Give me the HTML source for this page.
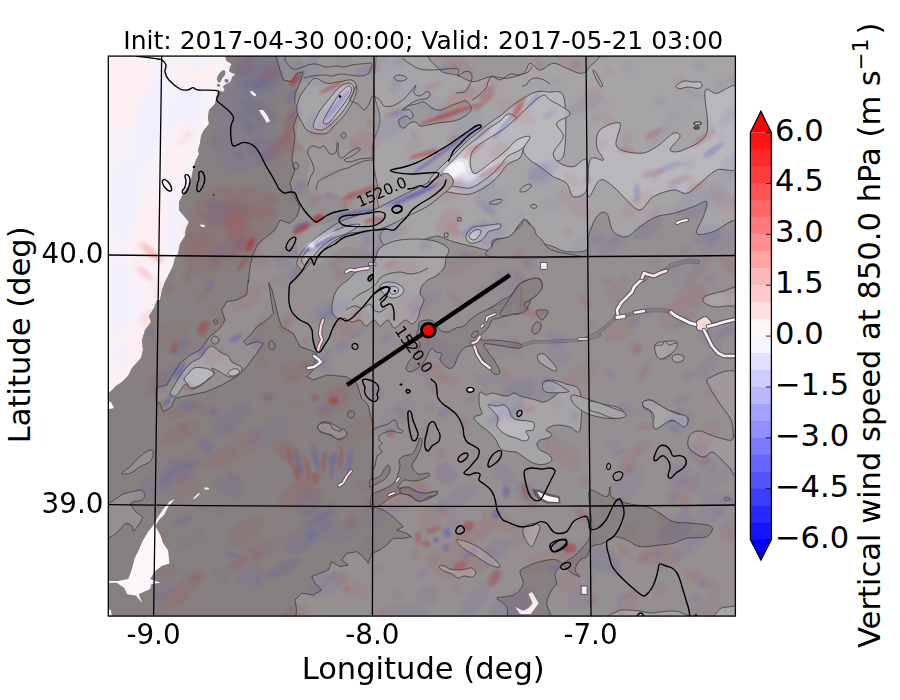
<!DOCTYPE html>
<html><head><meta charset="utf-8"><title>Vertical wind speed map</title>
<style>
html,body{margin:0;padding:0;background:#fff;}
body{width:900px;height:700px;overflow:hidden;}
svg{display:block;}
text{font-family:"DejaVu Sans","Liberation Sans",sans-serif;fill:#000;}
.t20{font-size:27.78px;}
.t18{font-size:25px;}
.t22{font-size:30.56px;}
.t11{font-size:15.2px;}
</style></head><body>
<svg width="900" height="700" viewBox="0 0 900 700">
<defs>
<clipPath id="ax"><rect x="108.3" y="56.1" width="627.1" height="560.0"/></clipPath>
<filter id="b2" x="-30%" y="-30%" width="160%" height="160%"><feGaussianBlur stdDeviation="2"/></filter>
<filter id="b3" x="-30%" y="-30%" width="160%" height="160%"><feGaussianBlur stdDeviation="3.5"/></filter>
<filter id="b15" x="-5%" y="-5%" width="110%" height="110%"><feGaussianBlur stdDeviation="1.6"/></filter>
<filter id="b1" x="-30%" y="-30%" width="160%" height="160%"><feGaussianBlur stdDeviation="1"/></filter>
</defs>
<rect x="0" y="0" width="900" height="700" fill="#fff"/>
<g clip-path="url(#ax)">
<defs><clipPath id="landclip"><path d="M224.9 55.1L226.6 61.1L231.7 64.1L230.0 67.1L229.1 71.4L235.6 74.4L232.1 77.0L231.3 80.8L228.3 83.4L225.7 84.3L223.1 86.8L224.9 90.3L222.3 92.0L218.4 90.3L217.1 94.6L215.0 104.0L209.0 110.0L208.0 118.0L209.0 124.0L204.0 130.0L201.0 136.0L200.0 144.0L198.0 150.0L199.0 154.0L196.0 160.0L194.0 166.0L192.0 174.0L191.0 180.0L193.0 170.0L192.0 176.0L190.0 184.0L184.0 192.0L179.0 202.0L179.0 210.0L184.0 216.0L189.0 222.0L186.0 228.0L185.0 236.0L180.0 244.0L178.0 254.0L175.0 258.0L173.0 266.0L169.0 274.0L165.0 282.0L162.0 290.0L160.0 300.0L157.0 300.0L154.0 308.0L149.0 316.0L151.0 322.0L145.0 330.0L142.0 340.0L143.0 350.0L141.0 358.0L132.0 368.0L128.0 376.0L122.0 382.0L116.0 386.0L110.0 392.0L106.0 396.0L100.0 640.0L760.0 640.0L760.0 40.0L225.6 40.0Z"/></clipPath></defs>
<rect x="100" y="50" width="650" height="580" fill="#f8f1f8"/>
<ellipse cx="125.0" cy="90.0" rx="22.0" ry="40.0" transform="rotate(10 125.0 90.0)" fill="#fff0f0" fill-opacity="0.80" filter="url(#b2)"/>
<ellipse cx="150.0" cy="120.0" rx="14.0" ry="50.0" transform="rotate(15 150.0 120.0)" fill="#f0f0ff" fill-opacity="0.80" filter="url(#b2)"/>
<ellipse cx="185.0" cy="110.0" rx="14.0" ry="40.0" transform="rotate(15 185.0 110.0)" fill="#f0f0ff" fill-opacity="0.80" filter="url(#b2)"/>
<ellipse cx="200.0" cy="75.0" rx="20.0" ry="14.0" transform="rotate(0 200.0 75.0)" fill="#fff0f0" fill-opacity="0.80" filter="url(#b2)"/>
<ellipse cx="195.0" cy="65.0" rx="10.0" ry="6.0" transform="rotate(0 195.0 65.0)" fill="#f0f0ff" fill-opacity="0.70" filter="url(#b2)"/>
<ellipse cx="178.0" cy="150.0" rx="10.0" ry="30.0" transform="rotate(10 178.0 150.0)" fill="#fff0f0" fill-opacity="0.80" filter="url(#b2)"/>
<ellipse cx="125.0" cy="200.0" rx="14.0" ry="40.0" transform="rotate(0 125.0 200.0)" fill="#f0f0ff" fill-opacity="0.80" filter="url(#b2)"/>
<ellipse cx="150.0" cy="230.0" rx="18.0" ry="30.0" transform="rotate(20 150.0 230.0)" fill="#fff0f0" fill-opacity="0.80" filter="url(#b2)"/>
<ellipse cx="172.0" cy="225.0" rx="8.0" ry="28.0" transform="rotate(5 172.0 225.0)" fill="#f0f0ff" fill-opacity="0.80" filter="url(#b2)"/>
<ellipse cx="150.0" cy="252.0" rx="16.0" ry="5.0" transform="rotate(42 150.0 252.0)" fill="#fbd4d6" fill-opacity="0.70" filter="url(#b2)"/>
<ellipse cx="142.0" cy="272.0" rx="12.0" ry="4.0" transform="rotate(42 142.0 272.0)" fill="#fbd4d6" fill-opacity="0.50" filter="url(#b2)"/>
<ellipse cx="160.0" cy="290.0" rx="6.0" ry="10.0" transform="rotate(20 160.0 290.0)" fill="#fbd4d6" fill-opacity="0.50" filter="url(#b2)"/>
<ellipse cx="120.0" cy="300.0" rx="10.0" ry="40.0" transform="rotate(0 120.0 300.0)" fill="#f0f0ff" fill-opacity="0.80" filter="url(#b2)"/>
<ellipse cx="130.0" cy="350.0" rx="16.0" ry="30.0" transform="rotate(20 130.0 350.0)" fill="#fff0f0" fill-opacity="0.80" filter="url(#b2)"/>
<ellipse cx="146.0" cy="318.0" rx="5.0" ry="10.0" transform="rotate(25 146.0 318.0)" fill="#fbd4d6" fill-opacity="0.60" filter="url(#b2)"/>
<ellipse cx="122.0" cy="355.0" rx="8.0" ry="14.0" transform="rotate(0 122.0 355.0)" fill="#f0f0ff" fill-opacity="0.80" filter="url(#b2)"/>
<ellipse cx="188.0" cy="135.0" rx="6.0" ry="4.0" transform="rotate(0 188.0 135.0)" fill="#fbd4d6" fill-opacity="0.60" filter="url(#b2)"/>
<ellipse cx="182.0" cy="142.0" rx="5.0" ry="3.0" transform="rotate(0 182.0 142.0)" fill="#fbd4d6" fill-opacity="0.50" filter="url(#b2)"/>
<path d="M224.9 55.1L226.6 61.1L231.7 64.1L230.0 67.1L229.1 71.4L235.6 74.4L232.1 77.0L231.3 80.8L228.3 83.4L225.7 84.3L223.1 86.8L224.9 90.3L222.3 92.0L218.4 90.3L217.1 94.6L215.0 104.0L209.0 110.0L208.0 118.0L209.0 124.0L204.0 130.0L201.0 136.0L200.0 144.0L198.0 150.0L199.0 154.0L196.0 160.0L194.0 166.0L192.0 174.0L191.0 180.0L193.0 170.0L192.0 176.0L190.0 184.0L184.0 192.0L179.0 202.0L179.0 210.0L184.0 216.0L189.0 222.0L186.0 228.0L185.0 236.0L180.0 244.0L178.0 254.0L175.0 258.0L173.0 266.0L169.0 274.0L165.0 282.0L162.0 290.0L160.0 300.0L157.0 300.0L154.0 308.0L149.0 316.0L151.0 322.0L145.0 330.0L142.0 340.0L143.0 350.0L141.0 358.0L132.0 368.0L128.0 376.0L122.0 382.0L116.0 386.0L110.0 392.0L106.0 396.0L100.0 640.0L760.0 640.0L760.0 40.0L225.6 40.0Z" fill="#948f91"/>
<g clip-path="url(#landclip)">
<path d="M100.0 40.0L274.0 40.0L274.0 50.0L280.0 70.0L283.3 80.0L291.7 81.7L296.7 73.3L303.3 71.7L300.0 83.3L295.0 93.3L295.0 103.3L300.0 110.0L296.7 116.7L293.3 126.7L295.0 136.7L293.3 150.0L291.7 160.0L295.0 170.0L290.0 183.3L292.7 193.3L300.0 206.7L296.7 216.7L290.0 223.3L280.0 220.0L275.0 230.0L266.7 236.7L258.3 243.3L253.3 253.3L250.0 266.7L248.3 283.0L248.3 280.0L246.7 295.0L236.7 300.0L226.7 301.7L221.7 310.0L225.0 320.0L220.0 328.3L210.0 336.7L200.0 350.0L190.0 355.0L180.0 363.3L171.7 376.7L166.7 385.0L160.0 386.7L156.0 388.3L156.0 401.7L160.0 403.3L163.3 411.7L171.7 406.7L175.0 398.3L190.0 395.0L206.7 391.7L221.7 385.0L236.7 376.7L246.7 366.7L256.7 353.3L263.3 343.3L256.7 341.7L246.7 345.0L243.3 341.7L251.7 333.3L256.7 326.7L266.7 320.0L273.3 313.3L271.7 303.3L268.7 282.7L272.0 290.0L275.3 303.3L278.3 316.7L281.7 326.7L293.3 333.3L300.0 346.7L310.0 350.0L316.7 353.3L313.3 370.0L306.7 376.7L313.3 380.0L326.7 375.0L346.7 376.7L356.7 383.3L361.7 398.3L368.0 405.0L373.0 425.0L373.0 445.0L372.0 470.0L372.0 500.0L373.3 506.7L383.3 510.0L393.3 516.7L403.3 526.7L396.7 530.0L406.7 533.3L411.7 536.7L403.3 538.3L393.3 538.3L386.7 545.0L380.0 550.0L371.7 553.3L368.3 563.3L363.3 556.7L356.7 551.7L346.7 553.3L341.7 560.0L348.3 565.0L340.0 566.7L331.7 561.7L328.3 570.0L320.0 573.3L311.7 576.7L315.0 583.3L321.7 590.0L313.3 595.0L301.7 593.3L295.0 600.0L296.7 610.0L295.0 623.0L295.0 640.0L100.0 640.0Z" fill="#868081" stroke="#3e3c3e" stroke-width="0.95" stroke-opacity="0.85"/>
</g>
<path d="M318.3 425.0C319.4 423.3 323.1 421.1 326.7 421.7C330.3 422.2 336.7 426.4 340.0 428.3C343.3 430.3 346.7 431.4 346.7 433.3C346.7 435.3 342.8 439.7 340.0 440.0C337.2 440.3 333.3 436.4 330.0 435.0C326.7 433.6 321.9 433.3 320.0 431.7C318.1 430.0 317.2 426.7 318.3 425.0Z" fill="#948f91" stroke="#3e3c3e" stroke-width="0.95" stroke-opacity="0.85"/>
<path d="M121.7 473.3C121.7 472.2 126.9 469.4 130.0 466.7C133.1 463.9 136.7 459.4 140.0 456.7C143.3 453.9 147.8 450.6 150.0 450.0C152.2 449.4 153.3 451.4 153.3 453.3C153.3 455.3 152.2 459.4 150.0 461.7C147.8 463.9 143.3 464.7 140.0 466.7C136.7 468.6 133.1 472.2 130.0 473.3C126.9 474.4 121.7 474.4 121.7 473.3Z" fill="#948f91" stroke="#3e3c3e" stroke-width="0.95" stroke-opacity="0.85"/>
<path d="M109.0 503.0C110.7 502.4 113.1 500.6 115.4 499.1C117.8 497.6 120.1 495.3 123.1 494.0C126.1 492.7 130.4 492.1 133.4 491.4C136.4 490.8 139.2 489.5 141.1 490.1C143.1 490.8 145.0 493.6 145.0 495.3C145.0 497.0 143.1 499.4 141.1 500.4C139.2 501.5 135.1 501.1 133.4 501.7C131.7 502.4 130.4 502.6 130.9 504.3C131.3 506.0 134.1 509.9 136.0 512.0C137.9 514.1 142.0 515.0 142.4 517.1C142.9 519.3 140.1 522.5 138.6 524.9C137.1 527.2 134.5 531.1 133.4 531.3C132.4 531.5 133.4 527.4 132.1 526.1C130.9 524.9 127.6 523.1 125.7 523.6C123.8 524.0 122.3 527.0 120.6 528.7C118.9 530.4 117.4 532.4 115.4 533.9C113.5 535.4 110.7 537.1 109.0 537.7C107.3 538.4 105.8 543.5 105.1 537.7C104.5 531.9 104.5 508.8 105.1 503.0C105.8 497.2 107.3 503.6 109.0 503.0Z" fill="#948f91" stroke="#3e3c3e" stroke-width="0.95" stroke-opacity="0.85"/>
<path d="M590.0 490.0C592.8 488.3 603.3 497.2 606.7 496.7C610.0 496.1 609.2 486.7 610.0 486.7C610.8 486.7 608.9 493.9 611.7 496.7C614.4 499.4 620.8 501.7 626.7 503.3C632.5 505.0 641.1 505.0 646.7 506.7C652.2 508.3 655.6 510.8 660.0 513.3C664.4 515.8 667.8 520.0 673.3 521.7C678.9 523.3 686.9 522.5 693.3 523.3C699.7 524.2 709.4 524.4 711.7 526.7C713.9 528.9 710.8 534.7 706.7 536.7C702.5 538.6 692.2 537.2 686.7 538.3C681.1 539.4 677.8 542.2 673.3 543.3C668.9 544.4 665.6 544.4 660.0 545.0C654.4 545.6 645.6 547.5 640.0 546.7C634.4 545.8 631.1 541.7 626.7 540.0C622.2 538.3 617.2 536.1 613.3 536.7C609.4 537.2 606.9 541.7 603.3 543.3C599.7 545.0 594.4 544.4 591.7 546.7C588.9 548.9 588.6 554.4 586.7 556.7C584.7 558.9 581.9 557.8 580.0 560.0C578.1 562.2 575.0 567.2 575.0 570.0C575.0 572.8 580.8 576.4 580.0 576.7C579.2 576.9 573.9 574.4 570.0 571.7C566.1 568.9 561.7 561.7 556.7 560.0C551.7 558.3 545.0 560.6 540.0 561.7C535.0 562.8 530.0 565.0 526.7 566.7C523.3 568.3 520.6 568.9 520.0 571.7C519.4 574.4 523.9 579.7 523.3 583.3C522.8 586.9 519.4 591.1 516.7 593.3C513.9 595.6 510.0 595.8 506.7 596.7C503.3 597.5 496.7 596.7 496.7 598.3C496.7 600.0 504.2 602.5 506.7 606.7C509.2 610.8 504.4 620.6 511.7 623.3C518.9 626.1 544.2 626.7 550.0 623.3C555.8 620.0 546.4 608.9 546.7 603.3C546.9 597.8 550.0 593.3 551.7 590.0C553.3 586.7 556.1 586.1 556.7 583.3C557.2 580.6 553.9 576.7 555.0 573.3C556.1 570.0 560.3 566.1 563.3 563.3C566.4 560.6 570.0 559.4 573.3 556.7C576.7 553.9 580.6 550.0 583.3 546.7C586.1 543.3 588.6 540.6 590.0 536.7C591.4 532.8 591.7 528.3 591.7 523.3C591.7 518.3 590.3 512.2 590.0 506.7C589.7 501.1 587.2 491.7 590.0 490.0Z" fill="#868081" stroke="#3e3c3e" stroke-width="0.95" stroke-opacity="0.85"/>
<path d="M378.0 40.0C441.7 40.0 696.3 10.0 760.0 40.0C823.7 70.0 764.2 190.0 760.0 220.0C755.8 250.0 742.8 218.1 735.0 220.0C727.2 221.9 719.7 229.4 713.3 231.7C706.9 233.9 698.3 235.8 696.7 233.3C695.0 230.8 701.7 221.9 703.3 216.7C705.0 211.4 708.3 203.3 706.7 201.7C705.0 200.0 698.9 204.7 693.3 206.7C687.8 208.6 679.4 211.7 673.3 213.3C667.2 215.0 662.2 214.4 656.7 216.7C651.1 218.9 645.0 223.3 640.0 226.7C635.0 230.0 631.1 235.8 626.7 236.7C622.2 237.5 616.7 235.6 613.3 231.7C610.0 227.8 609.4 215.8 606.7 213.3C603.9 210.8 599.7 212.8 596.7 216.7C593.6 220.6 590.0 231.1 588.3 236.7C586.7 242.2 590.3 247.5 586.7 250.0C583.1 252.5 572.2 252.2 566.7 251.7C561.1 251.1 557.8 248.3 553.3 246.7C548.9 245.0 543.3 244.4 540.0 241.7C536.7 238.9 535.6 233.6 533.3 230.0C531.1 226.4 528.9 221.1 526.7 220.0C524.4 218.9 522.8 220.6 520.0 223.3C517.2 226.1 514.4 233.9 510.0 236.7C505.6 239.4 496.7 237.8 493.3 240.0C490.0 242.2 493.3 248.9 490.0 250.0C486.7 251.1 479.4 248.1 473.3 246.7C467.2 245.3 458.9 243.3 453.3 241.7C447.8 240.0 443.3 237.5 440.0 236.7C436.7 235.8 437.8 235.6 433.3 236.7C428.9 237.8 418.9 241.1 413.3 243.3C407.8 245.6 404.4 249.4 400.0 250.0C395.6 250.6 390.0 248.9 386.7 246.7C383.3 244.4 380.0 240.6 380.0 236.7C380.0 232.8 386.7 227.8 386.7 223.3C386.7 218.9 381.7 214.4 380.0 210.0C378.3 205.6 377.0 200.0 376.7 196.7C376.3 193.3 378.8 197.8 378.0 190.0C377.2 182.2 371.7 161.7 372.0 150.0C372.3 138.3 379.7 130.0 380.0 120.0C380.3 110.0 374.3 103.3 374.0 90.0C373.7 76.7 377.3 48.3 378.0 40.0C378.7 31.7 314.3 40.0 378.0 40.0Z" fill="#a7a4a7" stroke="#3e3c3e" stroke-width="0.95" stroke-opacity="0.85"/>
<path d="M376.7 196.7C377.0 200.0 378.3 205.6 380.0 210.0C381.7 214.4 386.7 218.9 386.7 223.3C386.7 227.8 382.2 232.2 380.0 236.7C377.8 241.1 376.7 247.8 373.3 250.0C370.0 252.2 364.4 250.6 360.0 250.0C355.6 249.4 351.1 246.1 346.7 246.7C342.2 247.2 337.8 250.6 333.3 253.3C328.9 256.1 323.9 260.6 320.0 263.3C316.1 266.1 312.8 270.0 310.0 270.0C307.2 270.0 305.6 266.7 303.3 263.3C301.1 260.0 297.2 254.4 296.7 250.0C296.1 245.6 297.2 240.6 300.0 236.7C302.8 232.8 308.9 228.9 313.3 226.7C317.8 224.4 322.2 225.0 326.7 223.3C331.1 221.7 336.7 219.4 340.0 216.7C343.3 213.9 346.7 210.0 346.7 206.7C346.7 203.3 343.3 198.9 340.0 196.7C336.7 194.4 330.6 193.3 326.7 193.3C322.8 193.3 319.4 197.2 316.7 196.7C313.9 196.1 311.7 193.3 310.0 190.0C308.3 186.7 306.7 181.1 306.7 176.7C306.7 172.2 310.0 167.8 310.0 163.3C310.0 158.9 308.3 153.3 306.7 150.0C305.0 146.7 301.7 146.7 300.0 143.3C298.3 140.0 296.7 134.4 296.7 130.0C296.7 125.6 300.3 121.1 300.0 116.7C299.7 112.2 295.0 108.9 295.0 103.3C295.0 97.8 298.1 88.3 300.0 83.3C301.9 78.3 306.7 80.6 306.7 73.3C306.7 66.1 288.1 45.6 300.0 40.0C311.9 34.4 365.7 31.7 378.0 40.0C390.3 48.3 373.7 76.7 374.0 90.0C374.3 103.3 380.3 110.0 380.0 120.0C379.7 130.0 372.3 138.3 372.0 150.0C371.7 161.7 377.2 182.2 378.0 190.0C378.8 197.8 376.3 193.3 376.7 196.7Z" fill="#a7a4a7" fill-opacity="0.40"/>
<path d="M428.0 184.0C427.7 181.3 431.0 177.7 434.0 174.0C437.0 170.3 442.3 165.7 446.0 162.0C449.7 158.3 452.7 155.3 456.0 152.0C459.3 148.7 462.7 145.0 466.0 142.0C469.3 139.0 472.3 137.0 476.0 134.0C479.7 131.0 484.0 127.0 488.0 124.0C492.0 121.0 496.0 119.0 500.0 116.0C504.0 113.0 508.0 109.0 512.0 106.0C516.0 103.0 520.0 100.3 524.0 98.0C528.0 95.7 532.0 93.0 536.0 92.0C540.0 91.0 543.3 91.0 548.0 92.0C552.7 93.0 561.3 87.7 564.0 98.0C566.7 108.3 566.3 143.7 564.0 154.0C561.7 164.3 554.0 159.7 550.0 160.0C546.0 160.3 543.0 158.7 540.0 156.0C537.0 153.3 534.7 145.3 532.0 144.0C529.3 142.7 526.0 145.7 524.0 148.0C522.0 150.3 522.7 155.3 520.0 158.0C517.3 160.7 511.3 161.3 508.0 164.0C504.7 166.7 502.7 171.0 500.0 174.0C497.3 177.0 495.3 179.3 492.0 182.0C488.7 184.7 483.7 188.0 480.0 190.0C476.3 192.0 473.3 193.3 470.0 194.0C466.7 194.7 463.7 194.3 460.0 194.0C456.3 193.7 452.0 192.7 448.0 192.0C444.0 191.3 439.3 191.3 436.0 190.0C432.7 188.7 428.3 186.7 428.0 184.0Z" fill="#b9b6bc" stroke="#3e3c3e" stroke-width="0.95" stroke-opacity="0.85"/>
<path d="M440.0 178.0C439.7 175.2 443.3 171.5 446.0 168.0C448.7 164.5 452.7 160.5 456.0 157.0C459.3 153.5 462.7 150.0 466.0 147.0C469.3 144.0 472.3 142.0 476.0 139.0C479.7 136.0 484.0 132.0 488.0 129.0C492.0 126.0 496.7 123.5 500.0 121.0C503.3 118.5 505.3 114.5 508.0 114.0C510.7 113.5 515.7 115.7 516.0 118.0C516.3 120.3 512.7 125.0 510.0 128.0C507.3 131.0 500.3 133.7 500.0 136.0C499.7 138.3 505.0 141.7 508.0 142.0C511.0 142.3 515.3 139.7 518.0 138.0C520.7 136.3 521.7 132.8 524.0 132.0C526.3 131.2 531.3 131.3 532.0 133.0C532.7 134.7 530.0 139.2 528.0 142.0C526.0 144.8 523.3 147.7 520.0 150.0C516.7 152.3 511.3 153.3 508.0 156.0C504.7 158.7 502.7 163.0 500.0 166.0C497.3 169.0 495.3 171.2 492.0 174.0C488.7 176.8 483.7 180.7 480.0 183.0C476.3 185.3 473.3 187.3 470.0 188.0C466.7 188.7 463.7 187.5 460.0 187.0C456.3 186.5 451.3 186.5 448.0 185.0C444.7 183.5 440.3 180.8 440.0 178.0Z" fill="#c6c4ca" stroke="#3e3c3e" stroke-width="0.95" stroke-opacity="0.85"/>
<path d="M442.0 175.0C441.7 172.5 445.3 168.8 448.0 166.0C450.7 163.2 454.7 160.7 458.0 158.0C461.3 155.3 465.3 151.7 468.0 150.0C470.7 148.3 472.0 147.7 474.0 148.0C476.0 148.3 477.7 151.7 480.0 152.0C482.3 152.3 485.3 149.7 488.0 150.0C490.7 150.3 495.3 151.7 496.0 154.0C496.7 156.3 494.0 161.3 492.0 164.0C490.0 166.7 486.3 167.7 484.0 170.0C481.7 172.3 480.3 175.8 478.0 178.0C475.7 180.2 473.0 182.2 470.0 183.0C467.0 183.8 463.3 183.3 460.0 183.0C456.7 182.7 453.0 182.3 450.0 181.0C447.0 179.7 442.3 177.5 442.0 175.0Z" fill="#d4d3da"/>
<path d="M443.6 172.0C443.9 169.8 446.4 167.2 449.0 165.0C451.6 162.8 456.0 159.8 459.0 159.0C462.0 158.2 465.3 158.5 467.0 160.0C468.7 161.5 467.5 165.8 469.0 168.0C470.5 170.2 475.3 171.2 476.0 173.0C476.7 174.8 475.0 177.7 473.0 179.0C471.0 180.3 467.0 180.8 464.0 181.0C461.0 181.2 457.8 180.9 455.0 180.4C452.2 179.9 448.9 179.4 447.0 178.0C445.1 176.6 443.3 174.2 443.6 172.0Z" fill="#e6e6ec"/>
<path d="M445.6 171.0C445.8 169.2 448.3 167.2 450.4 165.6C452.5 164.0 456.1 161.9 458.4 161.6C460.7 161.3 462.9 162.6 464.0 164.0C465.1 165.4 464.3 168.2 465.0 170.0C465.7 171.8 468.3 173.7 468.0 175.0C467.7 176.3 465.0 177.5 463.0 178.0C461.0 178.5 458.3 178.3 456.0 178.0C453.7 177.7 450.7 177.6 449.0 176.4C447.3 175.2 445.4 172.8 445.6 171.0Z" fill="#f7f7fb"/>
<path d="M588.3 196.7C590.0 200.0 595.8 181.7 600.0 180.0C604.2 178.3 608.9 183.3 613.3 186.7C617.8 190.0 622.2 196.1 626.7 200.0C631.1 203.9 635.6 210.6 640.0 210.0C644.4 209.4 647.8 200.0 653.3 196.7C658.9 193.3 667.8 190.6 673.3 190.0C678.9 189.4 682.2 194.4 686.7 193.3C691.1 192.2 695.0 187.2 700.0 183.3C705.0 179.4 710.0 173.3 716.7 170.0C723.3 166.7 736.1 176.7 740.0 163.3C743.9 150.0 743.9 101.7 740.0 90.0C736.1 78.3 722.5 93.1 716.7 93.3C710.8 93.6 706.7 85.0 705.0 91.7C703.3 98.3 710.3 123.6 706.7 133.3C703.1 143.1 689.4 147.2 683.3 150.0C677.2 152.8 670.6 152.2 670.0 150.0C669.4 147.8 679.4 139.4 680.0 136.7C680.6 133.9 677.2 131.7 673.3 133.3C669.4 135.0 662.2 143.3 656.7 146.7C651.1 150.0 646.7 153.3 640.0 153.3C633.3 153.3 620.0 151.7 616.7 146.7C613.3 141.7 622.8 126.1 620.0 123.3C617.2 120.6 603.9 126.1 600.0 130.0C596.1 133.9 596.1 141.7 596.7 146.7C597.2 151.7 604.4 157.8 603.3 160.0C602.2 162.2 592.5 153.9 590.0 160.0C587.5 166.1 586.7 193.3 588.3 196.7Z" fill="#b9b6bc" stroke="#3e3c3e" stroke-width="0.95" stroke-opacity="0.85"/>
<path d="M473.3 150.0C478.9 142.2 495.6 135.6 506.7 126.7C517.8 117.8 532.8 101.1 540.0 96.7C547.2 92.2 545.0 97.2 550.0 100.0C555.0 102.8 568.9 109.4 570.0 113.3C571.1 117.2 557.8 119.4 556.7 123.3C555.6 127.2 563.9 131.7 563.3 136.7C562.8 141.7 553.9 148.9 553.3 153.3C552.8 157.8 556.7 161.1 560.0 163.3C563.3 165.6 568.9 167.2 573.3 166.7C577.8 166.1 584.4 156.1 586.7 160.0C588.9 163.9 588.9 183.9 586.7 190.0C584.4 196.1 576.7 197.8 573.3 196.7C570.0 195.6 570.0 186.7 566.7 183.3C563.3 180.0 557.8 179.4 553.3 176.7C548.9 173.9 543.9 169.4 540.0 166.7C536.1 163.9 532.8 162.8 530.0 160.0C527.2 157.2 523.3 153.9 523.3 150.0C523.3 146.1 531.1 138.3 530.0 136.7C528.9 135.0 520.6 137.8 516.7 140.0C512.8 142.2 511.1 146.1 506.7 150.0C502.2 153.9 495.6 159.4 490.0 163.3C484.4 167.2 476.1 175.6 473.3 173.3C470.6 171.1 467.8 157.8 473.3 150.0Z" fill="#b9b6bc" stroke="#3e3c3e" stroke-width="0.95" stroke-opacity="0.85"/>
<path d="M676.0 86.0C676.7 84.7 681.3 81.7 684.0 81.0C686.7 80.3 689.3 81.8 692.0 82.0C694.7 82.2 698.3 81.3 700.0 82.0C701.7 82.7 702.3 84.9 702.0 86.0C701.7 87.1 700.3 88.2 698.0 88.4C695.7 88.6 691.0 87.0 688.0 87.0C685.0 87.0 682.0 88.8 680.0 88.6C678.0 88.4 675.3 87.3 676.0 86.0Z" fill="#b9b6bc" stroke="#3e3c3e" stroke-width="0.95" stroke-opacity="0.85"/>
<path d="M440.0 50.0C464.7 46.7 563.6 46.9 588.3 50.0C613.1 53.1 589.7 64.4 588.3 68.3C586.9 72.2 583.6 73.3 580.0 73.3C576.4 73.3 571.1 70.0 566.7 68.3C562.2 66.7 557.8 63.1 553.3 63.3C548.9 63.6 543.9 70.0 540.0 70.0C536.1 70.0 532.8 62.8 530.0 63.3C527.2 63.9 527.2 70.8 523.3 73.3C519.4 75.8 512.2 77.8 506.7 78.3C501.1 78.9 495.6 76.1 490.0 76.7C484.4 77.2 478.9 81.9 473.3 81.7C467.8 81.4 462.2 76.9 456.7 75.0C451.1 73.1 442.8 74.2 440.0 70.0C437.2 65.8 415.3 53.3 440.0 50.0Z" fill="#948f91" stroke="#3e3c3e" stroke-width="0.95" stroke-opacity="0.85" fill-opacity="0.60"/>
<path d="M296.7 110.0C296.4 105.8 298.3 100.6 300.0 96.7C301.7 92.8 304.2 89.7 306.7 86.7C309.2 83.6 311.7 78.9 315.0 78.3C318.3 77.8 322.5 82.8 326.7 83.3C330.8 83.9 335.8 82.2 340.0 81.7C344.2 81.1 348.9 79.2 351.7 80.0C354.4 80.8 356.1 83.9 356.7 86.7C357.2 89.4 356.1 93.3 355.0 96.7C353.9 100.0 351.9 103.3 350.0 106.7C348.1 110.0 346.1 113.3 343.3 116.7C340.6 120.0 336.1 123.9 333.3 126.7C330.6 129.4 329.7 132.2 326.7 133.3C323.6 134.4 318.3 133.9 315.0 133.3C311.7 132.8 308.9 131.9 306.7 130.0C304.4 128.1 303.3 125.0 301.7 121.7C300.0 118.3 296.9 114.2 296.7 110.0Z" fill="#a7a4a7" stroke="#3e3c3e" stroke-width="0.95" stroke-opacity="0.85"/>
<path d="M313.3 126.7C312.8 123.9 315.8 117.8 318.3 113.3C320.8 108.9 324.7 104.4 328.3 100.0C331.9 95.6 336.4 89.4 340.0 86.7C343.6 83.9 347.7 82.8 350.0 83.3C352.3 83.9 354.3 86.7 354.0 90.0C353.7 93.3 350.7 99.2 348.3 103.3C346.0 107.5 343.1 111.4 340.0 115.0C336.9 118.6 333.1 122.5 330.0 125.0C326.9 127.5 324.4 129.7 321.7 130.0C318.9 130.3 313.9 129.4 313.3 126.7Z" fill="#b9b6bc" stroke="#3e3c3e" stroke-width="0.95" stroke-opacity="0.85"/>
<path d="M323.3 121.7C323.6 119.2 327.2 113.1 330.0 108.3C332.8 103.6 336.9 97.1 340.0 93.3C343.1 89.6 346.4 86.6 348.3 86.0C350.3 85.4 351.9 87.7 351.7 90.0C351.4 92.3 349.2 96.1 346.7 100.0C344.2 103.9 339.7 109.4 336.7 113.3C333.6 117.2 330.6 121.9 328.3 123.3C326.1 124.7 323.1 124.2 323.3 121.7Z" fill="#c6c4ca" stroke="#3e3c3e" stroke-width="0.95" stroke-opacity="0.85"/>
<path d="M296.7 263.3C296.7 260.0 300.6 253.9 303.3 250.0C306.1 246.1 309.4 243.3 313.3 240.0C317.2 236.7 322.2 233.1 326.7 230.0C331.1 226.9 335.6 223.9 340.0 221.7C344.4 219.4 347.8 218.6 353.3 216.7C358.9 214.7 366.7 212.8 373.3 210.0C380.0 207.2 386.7 203.3 393.3 200.0C400.0 196.7 406.7 193.3 413.3 190.0C420.0 186.7 427.8 182.8 433.3 180.0C438.9 177.2 443.3 172.8 446.7 173.3C450.0 173.9 454.4 179.4 453.3 183.3C452.2 187.2 444.4 192.8 440.0 196.7C435.6 200.6 432.2 203.3 426.7 206.7C421.1 210.0 413.3 213.3 406.7 216.7C400.0 220.0 393.3 224.2 386.7 226.7C380.0 229.2 372.8 230.6 366.7 231.7C360.6 232.8 355.6 231.7 350.0 233.3C344.4 235.0 338.3 238.3 333.3 241.7C328.3 245.0 323.9 249.7 320.0 253.3C316.1 256.9 312.8 260.6 310.0 263.3C307.2 266.1 305.6 270.0 303.3 270.0C301.1 270.0 296.7 266.7 296.7 263.3Z" fill="#a7a4a7" stroke="#3e3c3e" stroke-width="0.95" stroke-opacity="0.85"/>
<path d="M301.7 260.0C302.3 256.9 306.4 250.6 310.0 246.7C313.6 242.8 318.9 239.4 323.3 236.7C327.8 233.9 332.2 231.9 336.7 230.0C341.1 228.1 346.1 225.8 350.0 225.0C353.9 224.2 360.6 223.6 360.0 225.0C359.4 226.4 351.1 231.1 346.7 233.3C342.2 235.6 337.5 236.1 333.3 238.3C329.2 240.6 325.3 243.3 321.7 246.7C318.1 250.0 314.3 255.3 311.7 258.3C309.1 261.4 307.7 264.7 306.0 265.0C304.3 265.3 301.0 263.1 301.7 260.0Z" fill="#b9b6bc" stroke="#3e3c3e" stroke-width="0.95" stroke-opacity="0.85"/>
<path d="M480.0 392.0C481.2 391.2 484.0 394.8 486.0 395.0C488.0 395.2 489.7 393.0 492.0 393.0C494.3 393.0 497.3 394.5 500.0 395.0C502.7 395.5 505.7 396.3 508.0 396.0C510.3 395.7 512.0 393.0 514.0 393.0C516.0 393.0 517.7 395.2 520.0 396.0C522.3 396.8 525.3 397.3 528.0 398.0C530.7 398.7 533.3 399.3 536.0 400.0C538.7 400.7 541.3 402.3 544.0 402.0C546.7 401.7 549.7 399.7 552.0 398.0C554.3 396.3 558.0 394.0 558.0 392.0C558.0 390.0 554.3 387.7 552.0 386.0C549.7 384.3 544.0 383.0 544.0 382.0C544.0 381.0 548.3 379.7 552.0 380.0C555.7 380.3 561.3 382.0 566.0 384.0C570.7 386.0 577.7 384.3 580.0 392.0C582.3 399.7 581.7 424.2 580.0 430.0C578.3 435.8 573.3 427.8 570.0 427.0C566.7 426.2 563.0 425.2 560.0 425.0C557.0 424.8 554.3 425.2 552.0 426.0C549.7 426.8 546.0 428.7 546.0 430.0C546.0 431.3 551.7 432.7 552.0 434.0C552.3 435.3 550.0 437.0 548.0 438.0C546.0 439.0 541.8 439.0 540.0 440.0C538.2 441.0 537.0 442.3 537.0 444.0C537.0 445.7 538.2 448.3 540.0 450.0C541.8 451.7 546.0 452.3 548.0 454.0C550.0 455.7 552.3 458.3 552.0 460.0C551.7 461.7 548.7 463.3 546.0 464.0C543.3 464.7 539.0 464.7 536.0 464.0C533.0 463.3 530.3 461.3 528.0 460.0C525.7 458.7 524.0 457.3 522.0 456.0C520.0 454.7 518.7 452.8 516.0 452.0C513.3 451.2 508.7 451.7 506.0 451.0C503.3 450.3 501.7 449.8 500.0 448.0C498.3 446.2 497.7 442.5 496.0 440.0C494.3 437.5 492.0 435.0 490.0 433.0C488.0 431.0 486.0 429.7 484.0 428.0C482.0 426.3 479.7 424.8 478.0 423.0C476.3 421.2 473.3 418.5 474.0 417.0C474.7 415.5 481.0 415.5 482.0 414.0C483.0 412.5 480.5 410.3 480.0 408.0C479.5 405.7 479.0 402.7 479.0 400.0C479.0 397.3 478.8 392.8 480.0 392.0Z" fill="#a7a4a7" stroke="#3e3c3e" stroke-width="0.95" stroke-opacity="0.85"/>
<path d="M488.0 405.0C488.3 404.0 493.3 406.0 496.0 406.0C498.7 406.0 501.8 404.3 504.0 405.0C506.2 405.7 507.7 408.0 509.0 410.0C510.3 412.0 510.5 415.3 512.0 417.0C513.5 418.7 515.3 419.3 518.0 420.0C520.7 420.7 525.3 420.5 528.0 421.0C530.7 421.5 533.2 421.5 534.0 423.0C534.8 424.5 534.3 428.7 533.0 430.0C531.7 431.3 526.7 429.7 526.0 431.0C525.3 432.3 529.3 436.3 529.0 438.0C528.7 439.7 526.2 441.0 524.0 441.0C521.8 441.0 518.5 438.8 516.0 438.0C513.5 437.2 511.3 437.0 509.0 436.0C506.7 435.0 504.0 433.7 502.0 432.0C500.0 430.3 497.7 428.3 497.0 426.0C496.3 423.7 498.5 420.3 498.0 418.0C497.5 415.7 495.7 414.2 494.0 412.0C492.3 409.8 487.7 406.0 488.0 405.0Z" fill="#b9b6bc" stroke="#3e3c3e" stroke-width="0.95" stroke-opacity="0.85"/>
<path d="M573.3 395.0C577.8 395.0 592.2 401.1 600.0 403.3C607.8 405.6 616.1 406.1 620.0 408.3C623.9 410.6 625.6 415.0 623.3 416.7C621.1 418.3 612.8 418.9 606.7 418.3C600.6 417.8 592.2 415.8 586.7 413.3C581.1 410.8 575.6 406.4 573.3 403.3C571.1 400.3 568.9 395.0 573.3 395.0Z" fill="#a7a4a7" stroke="#3e3c3e" stroke-width="0.95" stroke-opacity="0.85"/>
<path d="M655.0 345.0C655.8 342.5 659.7 342.2 663.3 341.7C666.9 341.1 675.0 340.3 676.7 341.7C678.3 343.1 675.0 347.2 673.3 350.0C671.7 352.8 669.2 357.2 666.7 358.3C664.2 359.4 660.3 358.9 658.3 356.7C656.4 354.4 654.2 347.5 655.0 345.0Z" fill="#a7a4a7" stroke="#3e3c3e" stroke-width="0.95" stroke-opacity="0.85"/>
<path d="M590.0 401.7C591.7 400.6 596.1 402.2 600.0 403.3C603.9 404.4 609.4 406.9 613.3 408.3C617.2 409.7 621.4 410.3 623.3 411.7C625.3 413.1 626.7 415.6 625.0 416.7C623.3 417.8 617.5 418.9 613.3 418.3C609.2 417.8 603.9 414.7 600.0 413.3C596.1 411.9 591.7 411.9 590.0 410.0C588.3 408.1 588.3 402.8 590.0 401.7Z" fill="#a7a4a7" stroke="#3e3c3e" stroke-width="0.95" stroke-opacity="0.85"/>
<path d="M456.7 540.0C457.2 538.9 462.8 540.3 466.7 541.7C470.6 543.1 475.6 545.6 480.0 548.3C484.4 551.1 490.0 555.3 493.3 558.3C496.7 561.4 500.6 565.6 500.0 566.7C499.4 567.8 493.9 566.7 490.0 565.0C486.1 563.3 481.1 559.4 476.7 556.7C472.2 553.9 466.7 551.1 463.3 548.3C460.0 545.6 456.1 541.1 456.7 540.0Z" fill="#a7a4a7" stroke="#3e3c3e" stroke-width="0.95" stroke-opacity="0.85"/>
<path d="M523.3 528.3C524.7 525.8 530.6 523.6 533.3 523.3C536.1 523.1 539.4 524.4 540.0 526.7C540.6 528.9 538.1 533.3 536.7 536.7C535.3 540.0 533.6 546.4 531.7 546.7C529.7 546.9 526.4 541.4 525.0 538.3C523.6 535.3 521.9 530.8 523.3 528.3Z" fill="#a7a4a7" stroke="#3e3c3e" stroke-width="0.95" stroke-opacity="0.85"/>
<path d="M470.0 341.7L500.0 343.3L516.7 347.3L533.3 341.7L550.0 341.7L566.7 340.7L580.0 340.0L590.0 338.3L600.0 335.0L584.0 339.0L592.0 336.0L600.0 331.0L608.0 325.0L616.0 318.0" fill="none" stroke="#847f82" stroke-width="2.6" stroke-linejoin="round" stroke-linecap="round"/>
<path d="M470.0 341.7L500.0 343.3L516.7 347.3L533.3 341.7L550.0 341.7L566.7 340.7L580.0 340.0L590.0 338.3L600.0 335.0L584.0 339.0L592.0 336.0L600.0 331.0L608.0 325.0L616.0 318.0" fill="none" stroke="#4a484a" stroke-width="3.6" stroke-opacity="0.55" stroke-linejoin="round" stroke-linecap="round"/>
<path d="M470.0 341.7L500.0 343.3L516.7 347.3L533.3 341.7L550.0 341.7L566.7 340.7L580.0 340.0L590.0 338.3L600.0 335.0L584.0 339.0L592.0 336.0L600.0 331.0L608.0 325.0L616.0 318.0" fill="none" stroke="#847f82" stroke-width="2.6" stroke-linejoin="round" stroke-linecap="round"/>
<path d="M618.0 316.0L617.0 310.0L621.0 303.0L627.0 297.0L632.0 292.0L634.0 287.0L639.0 282.0L646.0 278.0L648.0 274.0L654.0 276.0L660.0 273.0L666.0 270.0L672.0 265.0L680.0 263.0L688.0 261.0L698.0 261.6" fill="none" stroke="#847f82" stroke-width="3.4" stroke-linejoin="round" stroke-linecap="round"/>
<path d="M618.0 316.0L617.0 310.0L621.0 303.0L627.0 297.0L632.0 292.0L634.0 287.0L639.0 282.0L646.0 278.0L648.0 274.0L654.0 276.0L660.0 273.0L666.0 270.0L672.0 265.0L680.0 263.0L688.0 261.0L698.0 261.6" fill="none" stroke="#4a484a" stroke-width="4.4" stroke-opacity="0.55" stroke-linejoin="round" stroke-linecap="round"/>
<path d="M618.0 316.0L617.0 310.0L621.0 303.0L627.0 297.0L632.0 292.0L634.0 287.0L639.0 282.0L646.0 278.0L648.0 274.0L654.0 276.0L660.0 273.0L666.0 270.0L672.0 265.0L680.0 263.0L688.0 261.0L698.0 261.6" fill="none" stroke="#847f82" stroke-width="3.4" stroke-linejoin="round" stroke-linecap="round"/>
<path d="M615.0 317.0L624.0 316.0L634.0 313.0L644.0 311.0L652.0 310.0L662.0 310.0L670.0 311.6L676.0 316.0L682.0 319.0L690.0 323.0L698.0 325.0L703.0 324.0L716.0 324.0L724.0 322.0L740.0 318.0" fill="none" stroke="#847f82" stroke-width="3.4" stroke-linejoin="round" stroke-linecap="round"/>
<path d="M615.0 317.0L624.0 316.0L634.0 313.0L644.0 311.0L652.0 310.0L662.0 310.0L670.0 311.6L676.0 316.0L682.0 319.0L690.0 323.0L698.0 325.0L703.0 324.0L716.0 324.0L724.0 322.0L740.0 318.0" fill="none" stroke="#4a484a" stroke-width="4.4" stroke-opacity="0.55" stroke-linejoin="round" stroke-linecap="round"/>
<path d="M615.0 317.0L624.0 316.0L634.0 313.0L644.0 311.0L652.0 310.0L662.0 310.0L670.0 311.6L676.0 316.0L682.0 319.0L690.0 323.0L698.0 325.0L703.0 324.0L716.0 324.0L724.0 322.0L740.0 318.0" fill="none" stroke="#847f82" stroke-width="3.4" stroke-linejoin="round" stroke-linecap="round"/>
<path d="M703.0 326.0L708.0 338.0L712.0 346.0L718.0 353.0L724.0 356.0L740.0 356.0" fill="none" stroke="#847f82" stroke-width="3.4" stroke-linejoin="round" stroke-linecap="round"/>
<path d="M703.0 326.0L708.0 338.0L712.0 346.0L718.0 353.0L724.0 356.0L740.0 356.0" fill="none" stroke="#4a484a" stroke-width="4.4" stroke-opacity="0.55" stroke-linejoin="round" stroke-linecap="round"/>
<path d="M703.0 326.0L708.0 338.0L712.0 346.0L718.0 353.0L724.0 356.0L740.0 356.0" fill="none" stroke="#847f82" stroke-width="3.4" stroke-linejoin="round" stroke-linecap="round"/>
<path d="M704.0 297.0C705.5 295.8 708.7 295.0 712.0 294.0C715.3 293.0 719.3 292.2 724.0 291.0C728.7 289.8 737.3 284.8 740.0 287.0C742.7 289.2 742.3 300.8 740.0 304.0C737.7 307.2 730.0 305.5 726.0 306.0C722.0 306.5 719.0 307.2 716.0 307.0C713.0 306.8 710.2 306.0 708.0 305.0C705.8 304.0 703.7 302.3 703.0 301.0C702.3 299.7 702.5 298.2 704.0 297.0Z" fill="#a7a4a7" stroke="#3e3c3e" stroke-width="0.95" stroke-opacity="0.85"/>
<path d="M655.0 346.0C656.0 344.5 660.3 345.8 662.0 345.0C663.7 344.2 663.8 341.0 665.0 341.0C666.2 341.0 667.2 344.7 669.0 345.0C670.8 345.3 674.7 342.7 676.0 343.0C677.3 343.3 677.7 345.3 677.0 347.0C676.3 348.7 673.8 351.3 672.0 353.0C670.2 354.7 668.0 356.0 666.0 357.0C664.0 358.0 661.7 359.5 660.0 359.0C658.3 358.5 656.8 356.2 656.0 354.0C655.2 351.8 654.0 347.5 655.0 346.0Z" fill="#a7a4a7" stroke="#3e3c3e" stroke-width="0.95" stroke-opacity="0.85"/>
<path d="M672.0 357.0C672.5 355.7 676.0 354.4 678.0 354.4C680.0 354.4 683.3 355.9 684.0 357.0C684.7 358.1 683.5 360.2 682.0 361.0C680.5 361.8 676.7 362.7 675.0 362.0C673.3 361.3 671.5 358.3 672.0 357.0Z" fill="#a7a4a7" stroke="#3e3c3e" stroke-width="0.95" stroke-opacity="0.85"/>
<path d="M643.0 402.0C644.0 400.7 647.5 399.7 650.0 400.0C652.5 400.3 655.0 402.3 658.0 404.0C661.0 405.7 664.3 408.3 668.0 410.0C671.7 411.7 676.7 412.3 680.0 414.0C683.3 415.7 692.0 419.0 688.0 420.0C684.0 421.0 662.2 421.3 656.0 420.0C649.8 418.7 653.0 414.0 651.0 412.0C649.0 410.0 645.3 409.7 644.0 408.0C642.7 406.3 642.0 403.3 643.0 402.0Z" fill="#a7a4a7" stroke="#3e3c3e" stroke-width="0.95" stroke-opacity="0.85"/>
<path d="M643.0 402.0C644.0 400.8 647.5 399.7 650.0 400.0C652.5 400.3 655.0 402.3 658.0 404.0C661.0 405.7 664.7 408.3 668.0 410.0C671.3 411.7 675.0 413.0 678.0 414.0C681.0 415.0 684.3 414.7 686.0 416.0C687.7 417.3 688.3 420.2 688.0 422.0C687.7 423.8 685.7 426.8 684.0 427.0C682.3 427.2 680.0 424.2 678.0 423.0C676.0 421.8 674.0 420.0 672.0 420.0C670.0 420.0 668.0 421.8 666.0 423.0C664.0 424.2 661.8 426.0 660.0 427.0C658.2 428.0 656.2 429.7 655.0 429.0C653.8 428.3 653.2 425.2 653.0 423.0C652.8 420.8 654.5 418.2 654.0 416.0C653.5 413.8 651.7 411.5 650.0 410.0C648.3 408.5 645.2 408.3 644.0 407.0C642.8 405.7 642.0 403.2 643.0 402.0Z" fill="#a7a4a7" stroke="#3e3c3e" stroke-width="0.95" stroke-opacity="0.85"/>
<path d="M709.0 378.0C704.0 379.7 709.0 385.0 710.0 388.0C711.0 391.0 713.3 393.3 715.0 396.0C716.7 398.7 718.2 401.3 720.0 404.0C721.8 406.7 724.2 409.3 726.0 412.0C727.8 414.7 729.8 417.0 731.0 420.0C732.2 423.0 732.8 426.7 733.0 430.0C733.2 433.3 734.2 438.7 732.0 440.0C729.8 441.3 724.0 439.0 720.0 438.0C716.0 437.0 711.3 435.2 708.0 434.0C704.7 432.8 702.7 431.2 700.0 431.0C697.3 430.8 694.0 431.5 692.0 433.0C690.0 434.5 688.5 437.5 688.0 440.0C687.5 442.5 687.7 445.7 689.0 448.0C690.3 450.3 693.5 452.5 696.0 454.0C698.5 455.5 701.3 457.3 704.0 457.0C706.7 456.7 709.3 451.8 712.0 452.0C714.7 452.2 717.3 455.7 720.0 458.0C722.7 460.3 724.7 463.7 728.0 466.0C731.3 468.3 738.0 486.7 740.0 472.0C742.0 457.3 745.2 393.7 740.0 378.0C734.8 362.3 714.0 376.3 709.0 378.0Z" fill="#a7a4a7" stroke="#3e3c3e" stroke-width="0.95" stroke-opacity="0.85" fill-opacity="0.50"/>
<path d="M611.0 620.0C599.3 618.5 615.2 612.7 618.0 611.0C620.8 609.3 624.3 610.0 628.0 610.0C631.7 610.0 636.3 610.5 640.0 611.0C643.7 611.5 646.7 612.8 650.0 613.0C653.3 613.2 656.3 612.3 660.0 612.0C663.7 611.7 668.3 610.8 672.0 611.0C675.7 611.2 679.3 611.5 682.0 613.0C684.7 614.5 699.8 618.8 688.0 620.0C676.2 621.2 622.7 621.5 611.0 620.0Z" fill="#a7a4a7" stroke="#3e3c3e" stroke-width="0.95" stroke-opacity="0.85"/>
<path d="M714.0 620.0C710.7 618.2 717.7 611.2 720.0 609.0C722.3 606.8 724.7 607.3 728.0 607.0C731.3 606.7 738.0 604.8 740.0 607.0C742.0 609.2 744.3 617.8 740.0 620.0C735.7 622.2 717.3 621.8 714.0 620.0Z" fill="#a7a4a7" stroke="#3e3c3e" stroke-width="0.95" stroke-opacity="0.85"/>
<rect x="581.2" y="586" width="6" height="8.4" fill="#fdf6fa" stroke="#5a575a" stroke-width="1"/>
<path d="M217.1 77.4C217.6 76.3 218.7 74.4 219.7 73.1C220.7 71.9 222.2 70.4 223.1 70.1C224.1 69.9 225.0 70.6 225.3 71.4C225.6 72.2 225.3 73.7 224.9 74.9C224.4 76.0 223.0 77.1 222.3 78.3C221.6 79.4 221.2 81.0 220.6 81.7C219.9 82.4 219.0 82.8 218.4 82.6C217.9 82.3 217.4 80.8 217.1 80.0C216.9 79.1 216.7 78.6 217.1 77.4Z" fill="#868081"/>
<path d="M224.4 80.0C224.6 79.5 225.8 79.1 226.6 79.1C227.3 79.2 228.6 79.8 228.7 80.4C228.8 81.1 228.0 82.7 227.4 83.0C226.8 83.3 225.8 82.6 225.3 82.1C224.8 81.6 224.2 80.5 224.4 80.0Z" fill="#868081"/>
<path d="M217.1 84.3C217.5 84.0 218.7 84.1 219.3 84.3C219.9 84.5 220.6 85.1 220.6 85.6C220.5 86.0 219.4 86.8 218.9 86.8C218.3 86.9 217.4 86.4 217.1 86.0C216.9 85.6 216.8 84.6 217.1 84.3Z" fill="#868081"/>
<path d="M490.0 310.0C486.0 309.0 497.0 305.7 500.0 304.0C503.0 302.3 505.7 301.7 508.0 300.0C510.3 298.3 512.7 296.0 514.0 294.0C515.3 292.0 514.7 290.0 516.0 288.0C517.3 286.0 519.3 283.5 522.0 282.0C524.7 280.5 529.0 279.5 532.0 279.0C535.0 278.5 538.3 277.8 540.0 279.0C541.7 280.2 542.3 283.5 542.0 286.0C541.7 288.5 539.7 292.0 538.0 294.0C536.3 296.0 533.7 296.0 532.0 298.0C530.3 300.0 529.3 304.0 528.0 306.0C526.7 308.0 530.3 309.3 524.0 310.0C517.7 310.7 494.0 311.0 490.0 310.0Z" fill="#868081" stroke="#3e3c3e" stroke-width="0.95" stroke-opacity="0.85" fill-opacity="0.60"/>
<path d="M466.0 238.0C465.7 236.2 466.7 233.8 468.0 232.0C469.3 230.2 471.7 228.0 474.0 227.0C476.3 226.0 479.3 226.3 482.0 226.0C484.7 225.7 487.0 225.3 490.0 225.0C493.0 224.7 498.3 223.5 500.0 224.0C501.7 224.5 501.0 227.0 500.0 228.0C499.0 229.0 496.0 229.3 494.0 230.0C492.0 230.7 489.7 230.7 488.0 232.0C486.3 233.3 485.7 236.3 484.0 238.0C482.3 239.7 480.3 241.2 478.0 242.0C475.7 242.8 472.0 243.7 470.0 243.0C468.0 242.3 466.3 239.8 466.0 238.0Z" fill="#b9b6bc" stroke="#3e3c3e" stroke-width="0.95" stroke-opacity="0.85"/>
<path d="M469.0 237.0C468.7 235.7 470.7 233.2 472.0 232.0C473.3 230.8 475.5 229.8 477.0 229.6C478.5 229.4 480.7 229.9 481.0 231.0C481.3 232.1 480.2 234.5 479.0 236.0C477.8 237.5 475.7 239.8 474.0 240.0C472.3 240.2 469.3 238.3 469.0 237.0Z" fill="#c6c4ca" stroke="#3e3c3e" stroke-width="0.95" stroke-opacity="0.85"/>
<path d="M492.0 246.0C492.7 243.2 494.0 241.3 496.0 240.0C498.0 238.7 501.7 238.7 504.0 238.0C506.3 237.3 508.0 237.3 510.0 236.0C512.0 234.7 514.0 232.0 516.0 230.0C518.0 228.0 520.7 225.8 522.0 224.0C523.3 222.2 522.8 219.0 524.0 219.0C525.2 219.0 527.3 222.5 529.0 224.0C530.7 225.5 532.8 226.3 534.0 228.0C535.2 229.7 534.7 232.0 536.0 234.0C537.3 236.0 540.0 237.7 542.0 240.0C544.0 242.3 545.3 246.0 548.0 248.0C550.7 250.0 554.7 251.0 558.0 252.0C561.3 253.0 565.0 253.2 568.0 254.0C571.0 254.8 588.7 256.5 576.0 257.0C563.3 257.5 506.0 258.8 492.0 257.0C478.0 255.2 491.3 248.8 492.0 246.0Z" fill="#948f91" stroke="#3e3c3e" stroke-width="0.95" stroke-opacity="0.85"/>
<rect x="540.6" y="262.4" width="6.6" height="7" fill="#fdf6fa" stroke="#5a575a" stroke-width="1"/>
<path d="M468.0 388.0L472.0 387.6L474.0 390.4L470.0 391.6L467.0 390.4Z" fill="#fdf6fa" stroke="#5a575a" stroke-width="0.9"/>
<path d="M532.0 489.0L540.0 490.0L549.0 493.6L559.6 496.0L560.6 503.6L547.0 503.6L539.0 500.0L534.4 495.0Z" fill="#5f5c60"/>
<path d="M537.0 491.6L541.0 493.0L548.0 496.0L558.0 498.0L558.6 502.0L548.0 501.6L541.0 498.0Z" fill="#fdf6fa"/>
<path d="M170.0 394.0C169.7 392.3 172.3 389.0 174.0 386.0C175.7 383.0 178.0 379.0 180.0 376.0C182.0 373.0 184.0 370.3 186.0 368.0C188.0 365.7 189.7 363.7 192.0 362.0C194.3 360.3 197.7 360.0 200.0 358.0C202.3 356.0 204.0 352.0 206.0 350.0C208.0 348.0 209.7 345.7 212.0 346.0C214.3 346.3 217.3 350.3 220.0 352.0C222.7 353.7 226.0 354.3 228.0 356.0C230.0 357.7 230.0 360.3 232.0 362.0C234.0 363.7 238.3 364.7 240.0 366.0C241.7 367.3 242.3 368.5 242.0 370.0C241.7 371.5 240.0 373.8 238.0 375.0C236.0 376.2 233.0 377.5 230.0 377.0C227.0 376.5 223.0 373.5 220.0 372.0C217.0 370.5 213.0 367.7 212.0 368.0C211.0 368.3 214.7 372.0 214.0 374.0C213.3 376.0 210.3 378.0 208.0 380.0C205.7 382.0 202.7 384.5 200.0 386.0C197.3 387.5 194.3 389.3 192.0 389.0C189.7 388.7 187.7 384.2 186.0 384.0C184.3 383.8 183.7 386.0 182.0 388.0C180.3 390.0 178.0 395.0 176.0 396.0C174.0 397.0 170.3 395.7 170.0 394.0Z" fill="#a7a4a7" stroke="#3e3c3e" stroke-width="0.95" stroke-opacity="0.85"/>
<path d="M184.0 379.0C184.2 377.5 186.3 375.8 188.0 374.0C189.7 372.2 191.3 369.0 194.0 368.0C196.7 367.0 201.3 367.7 204.0 368.0C206.7 368.3 208.3 369.0 210.0 370.0C211.7 371.0 214.3 372.5 214.0 374.0C213.7 375.5 210.3 377.2 208.0 379.0C205.7 380.8 202.8 383.5 200.0 385.0C197.2 386.5 193.2 388.3 191.0 388.0C188.8 387.7 188.2 384.5 187.0 383.0C185.8 381.5 183.8 380.5 184.0 379.0Z" fill="#b9b6bc" stroke="#3e3c3e" stroke-width="0.95" stroke-opacity="0.85"/>
<path d="M228.0 373.0C228.2 371.8 231.2 369.5 233.0 369.0C234.8 368.5 238.2 369.2 239.0 370.0C239.8 370.8 239.2 373.0 238.0 374.0C236.8 375.0 233.7 376.2 232.0 376.0C230.3 375.8 227.8 374.2 228.0 373.0Z" fill="#b9b6bc" stroke="#3e3c3e" stroke-width="0.95" stroke-opacity="0.85"/>
<path d="M372.0 486.0C373.7 485.2 377.7 483.3 380.0 482.0C382.3 480.7 384.3 480.0 386.0 478.0C387.7 476.0 389.7 472.2 390.0 470.0C390.3 467.8 389.0 465.0 388.0 465.0C387.0 465.0 385.3 468.2 384.0 470.0C382.7 471.8 381.7 474.5 380.0 476.0C378.3 477.5 375.7 478.3 374.0 479.0C372.3 479.7 370.7 478.7 370.0 480.0C369.3 481.3 369.7 486.0 370.0 487.0C370.3 488.0 370.3 486.8 372.0 486.0Z" fill="#868081" stroke="#3e3c3e" stroke-width="0.95" stroke-opacity="0.85"/>
<path d="M372.0 495.0C373.8 492.2 379.0 491.5 382.0 490.0C385.0 488.5 387.7 487.7 390.0 486.0C392.3 484.3 394.7 482.0 396.0 480.0C397.3 478.0 397.3 476.3 398.0 474.0C398.7 471.7 399.8 468.3 400.0 466.0C400.2 463.7 398.3 461.7 399.0 460.0C399.7 458.3 401.8 457.0 404.0 456.0C406.2 455.0 410.0 455.3 412.0 454.0C414.0 452.7 414.7 450.7 416.0 448.0C417.3 445.3 419.0 439.0 420.0 438.0C421.0 437.0 422.0 440.0 422.0 442.0C422.0 444.0 421.0 447.3 420.0 450.0C419.0 452.7 417.3 455.3 416.0 458.0C414.7 460.7 411.7 463.3 412.0 466.0C412.3 468.7 415.3 472.8 418.0 474.0C420.7 475.2 426.2 472.7 428.0 473.0C429.8 473.3 430.3 474.8 429.0 476.0C427.7 477.2 422.8 479.2 420.0 480.0C417.2 480.8 414.7 481.0 412.0 481.0C409.3 481.0 406.0 479.5 404.0 480.0C402.0 480.5 401.0 482.7 400.0 484.0C399.0 485.3 397.3 487.3 398.0 488.0C398.7 488.7 401.7 487.7 404.0 488.0C406.3 488.3 408.7 489.0 412.0 490.0C415.3 491.0 420.0 493.8 424.0 494.0C428.0 494.2 433.8 491.0 436.0 491.0C438.2 491.0 438.3 492.7 437.0 494.0C435.7 495.3 431.2 497.8 428.0 499.0C424.8 500.2 421.0 501.5 418.0 501.0C415.0 500.5 412.7 497.3 410.0 496.0C407.3 494.7 404.7 493.0 402.0 493.0C399.3 493.0 396.3 495.0 394.0 496.0C391.7 497.0 390.0 497.7 388.0 499.0C386.0 500.3 384.0 502.7 382.0 504.0C380.0 505.3 377.8 506.5 376.0 507.0C374.2 507.5 371.7 509.0 371.0 507.0C370.3 505.0 370.2 497.8 372.0 495.0Z" fill="#868081" stroke="#3e3c3e" stroke-width="0.95" stroke-opacity="0.85"/>
<path d="M318.0 426.0C318.5 424.8 320.0 423.3 322.0 423.0C324.0 422.7 328.2 423.0 330.0 424.0C331.8 425.0 331.3 427.8 333.0 429.0C334.7 430.2 338.2 431.0 340.0 431.0C341.8 431.0 342.8 428.3 344.0 429.0C345.2 429.7 347.3 433.5 347.0 435.0C346.7 436.5 343.7 437.3 342.0 438.0C340.3 438.7 338.7 439.5 337.0 439.0C335.3 438.5 334.2 436.0 332.0 435.0C329.8 434.0 326.2 433.8 324.0 433.0C321.8 432.2 320.0 431.2 319.0 430.0C318.0 428.8 317.5 427.2 318.0 426.0Z" fill="#948f91" stroke="#3e3c3e" stroke-width="0.95" stroke-opacity="0.85"/>
<path d="M418.0 330.0C418.7 327.3 418.3 323.7 420.0 322.0C421.7 320.3 425.7 320.0 428.0 320.0C430.3 320.0 432.0 320.3 434.0 322.0C436.0 323.7 437.7 328.3 440.0 330.0C442.3 331.7 445.3 332.3 448.0 332.0C450.7 331.7 453.3 329.0 456.0 328.0C458.7 327.0 461.7 327.3 464.0 326.0C466.3 324.7 467.7 322.0 470.0 320.0C472.3 318.0 475.3 315.7 478.0 314.0C480.7 312.3 483.3 311.3 486.0 310.0C488.7 308.7 491.3 307.7 494.0 306.0C496.7 304.3 499.3 301.7 502.0 300.0C504.7 298.3 507.0 298.3 510.0 296.0C513.0 293.7 518.3 283.3 520.0 286.0C521.7 288.7 521.7 307.3 520.0 312.0C518.3 316.7 513.3 313.0 510.0 314.0C506.7 315.0 503.0 317.0 500.0 318.0C497.0 319.0 494.0 318.3 492.0 320.0C490.0 321.7 490.0 325.3 488.0 328.0C486.0 330.7 481.0 334.0 480.0 336.0C479.0 338.0 480.0 339.3 482.0 340.0C484.0 340.7 488.3 339.8 492.0 340.0C495.7 340.2 499.3 340.3 504.0 341.0C508.7 341.7 517.3 342.8 520.0 344.0C522.7 345.2 522.0 347.5 520.0 348.0C518.0 348.5 512.0 347.5 508.0 347.0C504.0 346.5 500.0 345.5 496.0 345.0C492.0 344.5 485.3 342.8 484.0 344.0C482.7 345.2 486.3 349.3 488.0 352.0C489.7 354.7 492.0 356.7 494.0 360.0C496.0 363.3 500.0 369.7 500.0 372.0C500.0 374.3 496.0 375.0 494.0 374.0C492.0 373.0 490.0 368.7 488.0 366.0C486.0 363.3 484.0 361.0 482.0 358.0C480.0 355.0 478.0 350.0 476.0 348.0C474.0 346.0 472.0 346.0 470.0 346.0C468.0 346.0 466.0 346.3 464.0 348.0C462.0 349.7 459.7 353.0 458.0 356.0C456.3 359.0 455.7 364.0 454.0 366.0C452.3 368.0 450.3 369.0 448.0 368.0C445.7 367.0 441.0 362.3 440.0 360.0C439.0 357.7 442.7 355.3 442.0 354.0C441.3 352.7 437.7 353.0 436.0 352.0C434.3 351.0 433.3 347.7 432.0 348.0C430.7 348.3 429.3 351.7 428.0 354.0C426.7 356.3 425.7 359.7 424.0 362.0C422.3 364.3 420.3 366.3 418.0 368.0C415.7 369.7 412.0 372.0 410.0 372.0C408.0 372.0 406.0 370.0 406.0 368.0C406.0 366.0 408.3 362.3 410.0 360.0C411.7 357.7 414.3 356.7 416.0 354.0C417.7 351.3 420.0 346.7 420.0 344.0C420.0 341.3 416.3 340.3 416.0 338.0C415.7 335.7 417.3 332.7 418.0 330.0Z" fill="#868081" stroke="#3e3c3e" stroke-width="0.95" stroke-opacity="0.85" fill-opacity="0.75"/>
<path d="M515.0 606.7L523.3 610.7L528.3 608.3L532.7 603.3L528.3 594.0L532.0 592.0L538.7 603.3L530.7 614.0L520.0 614.0Z" fill="#fdf6fa"/>
<path d="M400.0 126.0C399.2 124.7 398.0 121.7 399.0 120.0C400.0 118.3 404.2 116.2 406.0 116.0C407.8 115.8 408.8 119.0 410.0 119.0C411.2 119.0 413.0 117.5 413.0 116.0C413.0 114.5 411.8 111.0 410.0 110.0C408.2 109.0 402.3 110.7 402.0 110.0C401.7 109.3 405.7 107.0 408.0 106.0C410.3 105.0 413.3 104.7 416.0 104.0C418.7 103.3 421.3 101.3 424.0 102.0C426.7 102.7 429.3 106.7 432.0 108.0C434.7 109.3 437.0 110.3 440.0 110.0C443.0 109.7 447.0 107.2 450.0 106.0C453.0 104.8 455.3 103.8 458.0 103.0C460.7 102.2 463.8 100.3 466.0 101.0C468.2 101.7 470.3 105.2 471.0 107.0C471.7 108.8 471.5 110.2 470.0 112.0C468.5 113.8 464.7 116.5 462.0 118.0C459.3 119.5 456.7 120.3 454.0 121.0C451.3 121.7 448.7 121.7 446.0 122.0C443.3 122.3 441.0 122.5 438.0 123.0C435.0 123.5 431.0 124.5 428.0 125.0C425.0 125.5 422.0 126.5 420.0 126.0C418.0 125.5 417.7 122.5 416.0 122.0C414.3 121.5 412.0 122.0 410.0 123.0C408.0 124.0 405.7 127.5 404.0 128.0C402.3 128.5 400.8 127.3 400.0 126.0Z" fill="#948f91" stroke="#3e3c3e" stroke-width="0.95" stroke-opacity="0.85" fill-opacity="0.55"/>
<path d="M514.0 292.0C516.3 288.7 517.7 286.0 520.0 284.0C522.3 282.0 525.3 281.0 528.0 280.0C530.7 279.0 533.8 277.8 536.0 278.0C538.2 278.2 540.0 279.3 541.0 281.0C542.0 282.7 542.5 285.8 542.0 288.0C541.5 290.2 540.0 292.0 538.0 294.0C536.0 296.0 532.3 298.3 530.0 300.0C527.7 301.7 524.5 302.5 524.0 304.0C523.5 305.5 527.3 307.5 527.0 309.0C526.7 310.5 524.2 312.2 522.0 313.0C519.8 313.8 516.7 313.5 514.0 314.0C511.3 314.5 508.3 316.0 506.0 316.0C503.7 316.0 500.0 316.0 500.0 314.0C500.0 312.0 503.7 307.7 506.0 304.0C508.3 300.3 511.7 295.3 514.0 292.0Z" fill="#868081" stroke="#3e3c3e" stroke-width="0.95" stroke-opacity="0.85" fill-opacity="0.75"/>
<path d="M536.0 311.0C536.7 310.0 540.0 310.0 542.0 310.0C544.0 310.0 547.3 310.0 548.0 311.0C548.7 312.0 547.0 314.5 546.0 316.0C545.0 317.5 543.3 320.0 542.0 320.0C540.7 320.0 539.0 317.5 538.0 316.0C537.0 314.5 535.3 312.0 536.0 311.0Z" fill="#868081" stroke="#3e3c3e" stroke-width="0.95" stroke-opacity="0.85" fill-opacity="0.70"/>
<path d="M533.0 326.0C533.8 324.3 535.7 322.3 537.0 322.0C538.3 321.7 540.5 322.7 541.0 324.0C541.5 325.3 540.8 328.3 540.0 330.0C539.2 331.7 537.3 333.7 536.0 334.0C534.7 334.3 532.5 333.3 532.0 332.0C531.5 330.7 532.2 327.7 533.0 326.0Z" fill="#868081" stroke="#3e3c3e" stroke-width="0.95" stroke-opacity="0.85" fill-opacity="0.70"/>
<path d="M538.0 355.0C539.0 354.0 542.0 353.2 544.0 354.0C546.0 354.8 548.0 357.8 550.0 360.0C552.0 362.2 555.0 365.2 556.0 367.0C557.0 368.8 557.0 370.7 556.0 371.0C555.0 371.3 552.3 370.2 550.0 369.0C547.7 367.8 544.0 365.5 542.0 364.0C540.0 362.5 538.7 361.5 538.0 360.0C537.3 358.5 537.0 356.0 538.0 355.0Z" fill="#a7a4a7" stroke="#3e3c3e" stroke-width="0.95" stroke-opacity="0.85"/>
<path d="M543.0 383.0C543.7 381.2 547.5 380.8 550.0 381.0C552.5 381.2 555.7 382.8 558.0 384.0C560.3 385.2 562.3 386.7 564.0 388.0C565.7 389.3 571.0 391.3 568.0 392.0C565.0 392.7 550.2 393.5 546.0 392.0C541.8 390.5 542.3 384.8 543.0 383.0Z" fill="#a7a4a7" stroke="#3e3c3e" stroke-width="0.95" stroke-opacity="0.85"/>
<path d="M439.0 567.0C438.8 566.1 441.2 565.3 443.0 565.6C444.8 565.9 447.5 568.3 450.0 569.0C452.5 569.7 455.3 570.0 458.0 570.0C460.7 570.0 463.7 569.3 466.0 569.0C468.3 568.7 470.3 567.3 472.0 568.0C473.7 568.7 476.0 571.5 476.0 573.0C476.0 574.5 474.0 576.5 472.0 577.0C470.0 577.5 466.3 575.8 464.0 576.0C461.7 576.2 460.0 578.3 458.0 578.0C456.0 577.7 454.3 575.2 452.0 574.0C449.7 572.8 446.2 572.2 444.0 571.0C441.8 569.8 439.2 567.9 439.0 567.0Z" fill="#a7a4a7" stroke="#3e3c3e" stroke-width="0.95" stroke-opacity="0.85"/>
<path d="M400.0 489.0C401.0 487.8 405.3 486.7 408.0 487.0C410.7 487.3 413.3 490.0 416.0 491.0C418.7 492.0 421.3 492.8 424.0 493.0C426.7 493.2 429.9 492.2 432.0 492.0C434.1 491.8 435.7 491.1 436.4 491.6C437.1 492.1 437.4 494.1 436.0 495.0C434.6 495.9 430.3 496.0 428.0 497.0C425.7 498.0 424.0 500.5 422.0 501.0C420.0 501.5 418.0 501.0 416.0 500.0C414.0 499.0 412.3 496.0 410.0 495.0C407.7 494.0 403.7 495.0 402.0 494.0C400.3 493.0 399.0 490.2 400.0 489.0Z" fill="#868081" stroke="#3e3c3e" stroke-width="0.95" stroke-opacity="0.85" fill-opacity="0.70"/>
<path d="M340.0 286.0C342.3 283.3 345.3 282.3 348.0 280.0C350.7 277.7 353.3 274.0 356.0 272.0C358.7 270.0 361.0 269.7 364.0 268.0C367.0 266.3 371.3 265.3 374.0 262.0C376.7 258.7 375.7 251.7 380.0 248.0C384.3 244.3 391.7 241.3 400.0 240.0C408.3 238.7 422.0 238.7 430.0 240.0C438.0 241.3 445.3 245.0 448.0 248.0C450.7 251.0 446.7 254.7 446.0 258.0C445.3 261.3 445.7 265.0 444.0 268.0C442.3 271.0 438.7 274.0 436.0 276.0C433.3 278.0 430.3 278.3 428.0 280.0C425.7 281.7 423.3 283.7 422.0 286.0C420.7 288.3 419.7 291.7 420.0 294.0C420.3 296.3 424.0 297.3 424.0 300.0C424.0 302.7 421.0 307.0 420.0 310.0C419.0 313.0 419.3 315.7 418.0 318.0C416.7 320.3 414.0 323.7 412.0 324.0C410.0 324.3 408.0 320.0 406.0 320.0C404.0 320.0 402.0 322.7 400.0 324.0C398.0 325.3 396.0 328.7 394.0 328.0C392.0 327.3 390.3 320.3 388.0 320.0C385.7 319.7 382.3 326.0 380.0 326.0C377.7 326.0 376.3 320.0 374.0 320.0C371.7 320.0 368.3 326.0 366.0 326.0C363.7 326.0 362.3 320.7 360.0 320.0C357.7 319.3 354.7 322.3 352.0 322.0C349.3 321.7 346.0 318.3 344.0 318.0C342.0 317.7 342.0 321.0 340.0 320.0C338.0 319.0 333.0 316.0 332.0 312.0C331.0 308.0 332.7 300.3 334.0 296.0C335.3 291.7 337.7 288.7 340.0 286.0Z" fill="#a7a4a7" stroke="#3e3c3e" stroke-width="0.95" stroke-opacity="0.85"/>
<path d="M380.0 286.0C380.7 284.0 385.0 282.3 388.0 282.0C391.0 281.7 395.3 282.7 398.0 284.0C400.7 285.3 403.7 288.0 404.0 290.0C404.3 292.0 402.0 294.7 400.0 296.0C398.0 297.3 394.7 298.3 392.0 298.0C389.3 297.7 386.0 296.0 384.0 294.0C382.0 292.0 379.3 288.0 380.0 286.0Z" fill="#b9b6bc" stroke="#3e3c3e" stroke-width="0.95" stroke-opacity="0.85"/>
<path d="M389.0 288.0C389.4 286.7 392.4 286.2 394.0 286.4C395.6 286.6 397.9 287.9 398.4 289.0C398.9 290.1 398.1 292.2 397.0 293.0C395.9 293.8 392.9 294.8 391.6 294.0C390.3 293.2 388.6 289.3 389.0 288.0Z" fill="#c6c4ca" stroke="#3e3c3e" stroke-width="0.95" stroke-opacity="0.85"/>
<g clip-path="url(#landclip)" filter="url(#b15)">
<ellipse cx="246.7" cy="442.3" rx="18.9" ry="8.9" transform="rotate(-40 246.7 442.3)" fill="#c03030" fill-opacity="0.08"/>
<ellipse cx="428.1" cy="595.4" rx="12.6" ry="9.2" transform="rotate(-35 428.1 595.4)" fill="#3838d0" fill-opacity="0.04"/>
<ellipse cx="696.6" cy="295.8" rx="12.0" ry="10.5" transform="rotate(-40 696.6 295.8)" fill="#c03030" fill-opacity="0.07"/>
<ellipse cx="406.0" cy="613.4" rx="20.8" ry="8.4" transform="rotate(0 406.0 613.4)" fill="#3838d0" fill-opacity="0.04"/>
<ellipse cx="342.8" cy="334.6" rx="11.6" ry="11.7" transform="rotate(30 342.8 334.6)" fill="#c03030" fill-opacity="0.04"/>
<ellipse cx="584.2" cy="105.5" rx="21.3" ry="6.1" transform="rotate(-25 584.2 105.5)" fill="#3838d0" fill-opacity="0.06"/>
<ellipse cx="351.0" cy="327.4" rx="12.6" ry="6.2" transform="rotate(-40 351.0 327.4)" fill="#c03030" fill-opacity="0.04"/>
<ellipse cx="265.7" cy="433.3" rx="21.2" ry="9.9" transform="rotate(-30 265.7 433.3)" fill="#3838d0" fill-opacity="0.05"/>
<ellipse cx="429.1" cy="519.1" rx="12.8" ry="11.5" transform="rotate(-50 429.1 519.1)" fill="#c03030" fill-opacity="0.05"/>
<ellipse cx="709.3" cy="336.8" rx="14.5" ry="8.9" transform="rotate(40 709.3 336.8)" fill="#3838d0" fill-opacity="0.04"/>
<ellipse cx="204.7" cy="458.1" rx="23.9" ry="9.0" transform="rotate(0 204.7 458.1)" fill="#c03030" fill-opacity="0.04"/>
<ellipse cx="501.2" cy="348.4" rx="18.0" ry="7.9" transform="rotate(-30 501.2 348.4)" fill="#3838d0" fill-opacity="0.05"/>
<ellipse cx="249.7" cy="251.0" rx="23.0" ry="8.1" transform="rotate(40 249.7 251.0)" fill="#c03030" fill-opacity="0.05"/>
<ellipse cx="248.9" cy="573.0" rx="12.4" ry="8.6" transform="rotate(-25 248.9 573.0)" fill="#3838d0" fill-opacity="0.07"/>
<ellipse cx="546.1" cy="559.3" rx="23.4" ry="8.4" transform="rotate(-25 546.1 559.3)" fill="#c03030" fill-opacity="0.08"/>
<ellipse cx="496.0" cy="550.6" rx="16.9" ry="8.3" transform="rotate(-40 496.0 550.6)" fill="#3838d0" fill-opacity="0.08"/>
<ellipse cx="294.1" cy="370.6" rx="16.1" ry="8.4" transform="rotate(0 294.1 370.6)" fill="#c03030" fill-opacity="0.04"/>
<ellipse cx="318.8" cy="533.9" rx="19.2" ry="6.2" transform="rotate(-40 318.8 533.9)" fill="#3838d0" fill-opacity="0.05"/>
<ellipse cx="190.7" cy="245.3" rx="22.6" ry="11.9" transform="rotate(0 190.7 245.3)" fill="#c03030" fill-opacity="0.04"/>
<ellipse cx="231.8" cy="420.1" rx="22.8" ry="8.9" transform="rotate(-40 231.8 420.1)" fill="#3838d0" fill-opacity="0.08"/>
<ellipse cx="364.3" cy="142.2" rx="15.2" ry="10.6" transform="rotate(0 364.3 142.2)" fill="#c03030" fill-opacity="0.07"/>
<ellipse cx="647.7" cy="228.5" rx="17.5" ry="7.7" transform="rotate(-35 647.7 228.5)" fill="#3838d0" fill-opacity="0.06"/>
<ellipse cx="223.8" cy="456.8" rx="13.7" ry="8.0" transform="rotate(-40 223.8 456.8)" fill="#c03030" fill-opacity="0.08"/>
<ellipse cx="492.4" cy="200.0" rx="15.7" ry="11.8" transform="rotate(-25 492.4 200.0)" fill="#3838d0" fill-opacity="0.05"/>
<ellipse cx="205.6" cy="108.6" rx="10.4" ry="8.7" transform="rotate(-25 205.6 108.6)" fill="#c03030" fill-opacity="0.04"/>
<ellipse cx="219.8" cy="213.6" rx="14.3" ry="11.7" transform="rotate(-50 219.8 213.6)" fill="#3838d0" fill-opacity="0.06"/>
<ellipse cx="278.7" cy="149.0" rx="12.6" ry="8.3" transform="rotate(-35 278.7 149.0)" fill="#c03030" fill-opacity="0.07"/>
<ellipse cx="445.9" cy="473.5" rx="10.8" ry="11.6" transform="rotate(-50 445.9 473.5)" fill="#3838d0" fill-opacity="0.06"/>
<ellipse cx="187.2" cy="483.8" rx="12.5" ry="10.3" transform="rotate(40 187.2 483.8)" fill="#c03030" fill-opacity="0.08"/>
<ellipse cx="504.6" cy="473.7" rx="13.4" ry="6.9" transform="rotate(40 504.6 473.7)" fill="#3838d0" fill-opacity="0.08"/>
<ellipse cx="620.6" cy="330.4" rx="18.0" ry="9.3" transform="rotate(-35 620.6 330.4)" fill="#c03030" fill-opacity="0.06"/>
<ellipse cx="580.5" cy="597.6" rx="14.3" ry="10.2" transform="rotate(-40 580.5 597.6)" fill="#3838d0" fill-opacity="0.04"/>
<ellipse cx="627.4" cy="603.0" rx="15.0" ry="7.9" transform="rotate(-50 627.4 603.0)" fill="#c03030" fill-opacity="0.04"/>
<ellipse cx="194.6" cy="97.1" rx="21.4" ry="10.6" transform="rotate(0 194.6 97.1)" fill="#3838d0" fill-opacity="0.06"/>
<ellipse cx="705.0" cy="436.7" rx="19.9" ry="8.8" transform="rotate(-50 705.0 436.7)" fill="#c03030" fill-opacity="0.08"/>
<ellipse cx="191.2" cy="70.0" rx="19.3" ry="6.3" transform="rotate(40 191.2 70.0)" fill="#3838d0" fill-opacity="0.07"/>
<ellipse cx="628.9" cy="461.3" rx="16.4" ry="7.4" transform="rotate(-50 628.9 461.3)" fill="#c03030" fill-opacity="0.05"/>
<ellipse cx="283.5" cy="568.2" rx="19.2" ry="6.2" transform="rotate(-25 283.5 568.2)" fill="#3838d0" fill-opacity="0.06"/>
<ellipse cx="570.3" cy="554.7" rx="20.9" ry="9.8" transform="rotate(40 570.3 554.7)" fill="#c03030" fill-opacity="0.05"/>
<ellipse cx="687.2" cy="272.1" rx="18.6" ry="10.9" transform="rotate(-35 687.2 272.1)" fill="#3838d0" fill-opacity="0.05"/>
<ellipse cx="268.4" cy="546.4" rx="20.0" ry="6.5" transform="rotate(-25 268.4 546.4)" fill="#c03030" fill-opacity="0.04"/>
<ellipse cx="327.3" cy="584.4" rx="20.4" ry="8.8" transform="rotate(-30 327.3 584.4)" fill="#3838d0" fill-opacity="0.08"/>
<ellipse cx="247.5" cy="298.6" rx="19.5" ry="8.2" transform="rotate(-40 247.5 298.6)" fill="#c03030" fill-opacity="0.05"/>
<ellipse cx="707.4" cy="236.4" rx="13.6" ry="11.1" transform="rotate(-25 707.4 236.4)" fill="#3838d0" fill-opacity="0.08"/>
<ellipse cx="447.1" cy="189.5" rx="19.6" ry="10.3" transform="rotate(-25 447.1 189.5)" fill="#c03030" fill-opacity="0.08"/>
<ellipse cx="423.6" cy="300.7" rx="18.6" ry="7.7" transform="rotate(-25 423.6 300.7)" fill="#3838d0" fill-opacity="0.07"/>
<ellipse cx="514.3" cy="111.4" rx="23.7" ry="7.3" transform="rotate(30 514.3 111.4)" fill="#c03030" fill-opacity="0.08"/>
<ellipse cx="697.8" cy="450.6" rx="10.3" ry="9.0" transform="rotate(-35 697.8 450.6)" fill="#3838d0" fill-opacity="0.06"/>
<ellipse cx="408.6" cy="307.8" rx="23.9" ry="11.6" transform="rotate(-25 408.6 307.8)" fill="#c03030" fill-opacity="0.04"/>
<ellipse cx="331.1" cy="310.3" rx="22.5" ry="8.2" transform="rotate(-25 331.1 310.3)" fill="#3838d0" fill-opacity="0.07"/>
<ellipse cx="684.4" cy="298.0" rx="21.8" ry="7.9" transform="rotate(-50 684.4 298.0)" fill="#c03030" fill-opacity="0.06"/>
<ellipse cx="473.4" cy="182.1" rx="21.2" ry="11.1" transform="rotate(0 473.4 182.1)" fill="#3838d0" fill-opacity="0.08"/>
<ellipse cx="160.3" cy="382.0" rx="11.1" ry="11.4" transform="rotate(-40 160.3 382.0)" fill="#c03030" fill-opacity="0.05"/>
<ellipse cx="441.5" cy="350.9" rx="17.5" ry="8.9" transform="rotate(30 441.5 350.9)" fill="#3838d0" fill-opacity="0.05"/>
<ellipse cx="239.9" cy="217.3" rx="19.0" ry="6.1" transform="rotate(-30 239.9 217.3)" fill="#c03030" fill-opacity="0.07"/>
<ellipse cx="259.2" cy="111.0" rx="21.6" ry="8.2" transform="rotate(30 259.2 111.0)" fill="#3838d0" fill-opacity="0.04"/>
<ellipse cx="171.8" cy="333.2" rx="19.5" ry="9.9" transform="rotate(-25 171.8 333.2)" fill="#c03030" fill-opacity="0.04"/>
<ellipse cx="286.3" cy="256.8" rx="13.5" ry="7.2" transform="rotate(-40 286.3 256.8)" fill="#3838d0" fill-opacity="0.07"/>
<ellipse cx="457.4" cy="99.9" rx="21.6" ry="7.3" transform="rotate(-35 457.4 99.9)" fill="#c03030" fill-opacity="0.07"/>
<ellipse cx="505.5" cy="410.5" rx="19.0" ry="6.1" transform="rotate(30 505.5 410.5)" fill="#3838d0" fill-opacity="0.06"/>
<ellipse cx="244.9" cy="532.5" rx="21.3" ry="11.4" transform="rotate(-35 244.9 532.5)" fill="#c03030" fill-opacity="0.05"/>
<ellipse cx="605.7" cy="561.5" rx="17.5" ry="11.5" transform="rotate(40 605.7 561.5)" fill="#3838d0" fill-opacity="0.06"/>
<ellipse cx="701.9" cy="580.6" rx="21.1" ry="6.1" transform="rotate(30 701.9 580.6)" fill="#c03030" fill-opacity="0.05"/>
<ellipse cx="305.4" cy="70.0" rx="15.3" ry="10.5" transform="rotate(-25 305.4 70.0)" fill="#3838d0" fill-opacity="0.08"/>
<ellipse cx="464.2" cy="549.7" rx="12.9" ry="12.0" transform="rotate(40 464.2 549.7)" fill="#c03030" fill-opacity="0.07"/>
<ellipse cx="583.6" cy="550.4" rx="15.1" ry="6.5" transform="rotate(-50 583.6 550.4)" fill="#3838d0" fill-opacity="0.07"/>
<ellipse cx="356.2" cy="432.2" rx="22.1" ry="9.4" transform="rotate(-35 356.2 432.2)" fill="#c03030" fill-opacity="0.08"/>
<ellipse cx="709.4" cy="478.9" rx="23.8" ry="10.4" transform="rotate(-30 709.4 478.9)" fill="#3838d0" fill-opacity="0.05"/>
<ellipse cx="462.0" cy="263.4" rx="23.9" ry="7.8" transform="rotate(-25 462.0 263.4)" fill="#c03030" fill-opacity="0.05"/>
<ellipse cx="398.6" cy="414.9" rx="20.8" ry="10.5" transform="rotate(-40 398.6 414.9)" fill="#3838d0" fill-opacity="0.05"/>
<ellipse cx="402.1" cy="267.7" rx="16.9" ry="7.6" transform="rotate(0 402.1 267.7)" fill="#c03030" fill-opacity="0.05"/>
<ellipse cx="612.5" cy="244.2" rx="16.2" ry="7.8" transform="rotate(-25 612.5 244.2)" fill="#3838d0" fill-opacity="0.07"/>
<ellipse cx="732.2" cy="267.0" rx="15.5" ry="6.0" transform="rotate(40 732.2 267.0)" fill="#c03030" fill-opacity="0.07"/>
<ellipse cx="734.6" cy="166.3" rx="13.2" ry="10.4" transform="rotate(0 734.6 166.3)" fill="#3838d0" fill-opacity="0.07"/>
<ellipse cx="165.9" cy="569.2" rx="11.9" ry="8.0" transform="rotate(30 165.9 569.2)" fill="#c03030" fill-opacity="0.06"/>
<ellipse cx="518.3" cy="391.2" rx="19.7" ry="11.2" transform="rotate(-30 518.3 391.2)" fill="#3838d0" fill-opacity="0.06"/>
<ellipse cx="296.7" cy="493.9" rx="21.1" ry="11.6" transform="rotate(-40 296.7 493.9)" fill="#c03030" fill-opacity="0.07"/>
<ellipse cx="345.3" cy="531.3" rx="20.4" ry="7.5" transform="rotate(-25 345.3 531.3)" fill="#3838d0" fill-opacity="0.05"/>
<ellipse cx="637.1" cy="204.3" rx="19.6" ry="7.8" transform="rotate(-40 637.1 204.3)" fill="#c03030" fill-opacity="0.06"/>
<ellipse cx="228.5" cy="487.9" rx="16.9" ry="6.2" transform="rotate(30 228.5 487.9)" fill="#3838d0" fill-opacity="0.08"/>
<ellipse cx="456.2" cy="61.1" rx="21.8" ry="7.7" transform="rotate(40 456.2 61.1)" fill="#c03030" fill-opacity="0.07"/>
<ellipse cx="392.4" cy="125.0" rx="22.3" ry="9.9" transform="rotate(-35 392.4 125.0)" fill="#3838d0" fill-opacity="0.08"/>
<ellipse cx="286.2" cy="450.5" rx="16.8" ry="9.2" transform="rotate(30 286.2 450.5)" fill="#c03030" fill-opacity="0.06"/>
<ellipse cx="162.5" cy="588.6" rx="12.0" ry="8.4" transform="rotate(0 162.5 588.6)" fill="#3838d0" fill-opacity="0.07"/>
<ellipse cx="417.8" cy="343.7" rx="13.1" ry="10.7" transform="rotate(-35 417.8 343.7)" fill="#c03030" fill-opacity="0.08"/>
<ellipse cx="676.0" cy="528.4" rx="20.8" ry="11.4" transform="rotate(-30 676.0 528.4)" fill="#3838d0" fill-opacity="0.06"/>
<ellipse cx="240.5" cy="63.5" rx="13.8" ry="10.2" transform="rotate(40 240.5 63.5)" fill="#c03030" fill-opacity="0.05"/>
<ellipse cx="178.2" cy="160.5" rx="12.1" ry="9.7" transform="rotate(-25 178.2 160.5)" fill="#3838d0" fill-opacity="0.05"/>
<ellipse cx="215.5" cy="355.3" rx="11.6" ry="8.4" transform="rotate(-30 215.5 355.3)" fill="#c03030" fill-opacity="0.05"/>
<ellipse cx="560.0" cy="357.7" rx="11.2" ry="7.5" transform="rotate(-30 560.0 357.7)" fill="#3838d0" fill-opacity="0.05"/>
<ellipse cx="403.1" cy="497.6" rx="23.0" ry="10.2" transform="rotate(-35 403.1 497.6)" fill="#c03030" fill-opacity="0.06"/>
<ellipse cx="712.3" cy="507.6" rx="19.6" ry="11.3" transform="rotate(-50 712.3 507.6)" fill="#3838d0" fill-opacity="0.04"/>
<ellipse cx="442.1" cy="555.2" rx="20.8" ry="9.5" transform="rotate(-25 442.1 555.2)" fill="#c03030" fill-opacity="0.04"/>
<ellipse cx="525.4" cy="492.2" rx="13.6" ry="8.8" transform="rotate(40 525.4 492.2)" fill="#3838d0" fill-opacity="0.06"/>
<ellipse cx="246.1" cy="246.9" rx="19.3" ry="9.9" transform="rotate(-50 246.1 246.9)" fill="#c03030" fill-opacity="0.08"/>
<ellipse cx="321.7" cy="120.6" rx="18.2" ry="8.9" transform="rotate(-25 321.7 120.6)" fill="#3838d0" fill-opacity="0.07"/>
<ellipse cx="237.5" cy="228.7" rx="11.6" ry="10.0" transform="rotate(0 237.5 228.7)" fill="#c03030" fill-opacity="0.08"/>
<ellipse cx="178.8" cy="473.6" rx="21.6" ry="9.1" transform="rotate(-30 178.8 473.6)" fill="#3838d0" fill-opacity="0.07"/>
<ellipse cx="427.5" cy="367.6" rx="15.1" ry="7.2" transform="rotate(0 427.5 367.6)" fill="#c03030" fill-opacity="0.07"/>
<ellipse cx="506.4" cy="299.5" rx="20.8" ry="6.1" transform="rotate(-40 506.4 299.5)" fill="#3838d0" fill-opacity="0.05"/>
<ellipse cx="277.5" cy="148.6" rx="23.5" ry="6.1" transform="rotate(-40 277.5 148.6)" fill="#c03030" fill-opacity="0.08"/>
<ellipse cx="714.9" cy="195.3" rx="15.0" ry="11.1" transform="rotate(-40 714.9 195.3)" fill="#3838d0" fill-opacity="0.05"/>
<ellipse cx="498.2" cy="521.8" rx="19.7" ry="8.9" transform="rotate(30 498.2 521.8)" fill="#c03030" fill-opacity="0.06"/>
<ellipse cx="679.0" cy="421.1" rx="14.0" ry="10.5" transform="rotate(-30 679.0 421.1)" fill="#3838d0" fill-opacity="0.08"/>
<ellipse cx="294.2" cy="614.2" rx="14.6" ry="8.3" transform="rotate(-25 294.2 614.2)" fill="#c03030" fill-opacity="0.07"/>
<ellipse cx="166.3" cy="379.6" rx="22.8" ry="7.3" transform="rotate(-40 166.3 379.6)" fill="#3838d0" fill-opacity="0.08"/>
<ellipse cx="661.1" cy="556.4" rx="21.5" ry="11.9" transform="rotate(0 661.1 556.4)" fill="#c03030" fill-opacity="0.07"/>
<ellipse cx="540.2" cy="174.5" rx="12.3" ry="11.4" transform="rotate(-50 540.2 174.5)" fill="#3838d0" fill-opacity="0.07"/>
<ellipse cx="322.8" cy="128.5" rx="15.4" ry="6.8" transform="rotate(-35 322.8 128.5)" fill="#c03030" fill-opacity="0.07"/>
<ellipse cx="247.2" cy="118.1" rx="16.6" ry="6.4" transform="rotate(30 247.2 118.1)" fill="#3838d0" fill-opacity="0.05"/>
<ellipse cx="449.1" cy="221.6" rx="16.2" ry="10.3" transform="rotate(-50 449.1 221.6)" fill="#c03030" fill-opacity="0.07"/>
<ellipse cx="707.3" cy="366.3" rx="13.9" ry="6.0" transform="rotate(-50 707.3 366.3)" fill="#3838d0" fill-opacity="0.08"/>
<ellipse cx="723.9" cy="200.0" rx="18.8" ry="7.9" transform="rotate(40 723.9 200.0)" fill="#c03030" fill-opacity="0.08"/>
<ellipse cx="229.2" cy="249.2" rx="23.1" ry="8.1" transform="rotate(-25 229.2 249.2)" fill="#3838d0" fill-opacity="0.08"/>
<ellipse cx="313.3" cy="494.7" rx="10.1" ry="8.0" transform="rotate(-25 313.3 494.7)" fill="#c03030" fill-opacity="0.08"/>
<ellipse cx="556.3" cy="338.6" rx="10.6" ry="6.2" transform="rotate(30 556.3 338.6)" fill="#3838d0" fill-opacity="0.07"/>
<ellipse cx="474.7" cy="531.7" rx="21.9" ry="9.7" transform="rotate(-25 474.7 531.7)" fill="#c03030" fill-opacity="0.07"/>
<ellipse cx="266.4" cy="153.3" rx="20.2" ry="8.5" transform="rotate(30 266.4 153.3)" fill="#3838d0" fill-opacity="0.05"/>
<ellipse cx="382.1" cy="499.3" rx="22.0" ry="10.5" transform="rotate(-35 382.1 499.3)" fill="#c03030" fill-opacity="0.05"/>
<ellipse cx="338.2" cy="226.4" rx="16.1" ry="11.2" transform="rotate(-30 338.2 226.4)" fill="#3838d0" fill-opacity="0.07"/>
<ellipse cx="677.3" cy="315.9" rx="20.0" ry="11.6" transform="rotate(-25 677.3 315.9)" fill="#c03030" fill-opacity="0.05"/>
<ellipse cx="510.9" cy="605.8" rx="22.3" ry="11.5" transform="rotate(-30 510.9 605.8)" fill="#3838d0" fill-opacity="0.08"/>
<ellipse cx="475.5" cy="562.5" rx="23.1" ry="10.9" transform="rotate(-30 475.5 562.5)" fill="#c03030" fill-opacity="0.07"/>
<ellipse cx="155.2" cy="485.2" rx="23.8" ry="9.1" transform="rotate(-35 155.2 485.2)" fill="#3838d0" fill-opacity="0.07"/>
<ellipse cx="186.7" cy="588.5" rx="23.5" ry="8.6" transform="rotate(-50 186.7 588.5)" fill="#c03030" fill-opacity="0.06"/>
<ellipse cx="505.2" cy="279.1" rx="16.2" ry="10.5" transform="rotate(-25 505.2 279.1)" fill="#3838d0" fill-opacity="0.07"/>
<ellipse cx="524.7" cy="600.4" rx="14.2" ry="11.6" transform="rotate(-25 524.7 600.4)" fill="#c03030" fill-opacity="0.05"/>
<ellipse cx="390.9" cy="231.6" rx="13.7" ry="8.1" transform="rotate(-30 390.9 231.6)" fill="#3838d0" fill-opacity="0.06"/>
<ellipse cx="449.2" cy="566.4" rx="19.0" ry="11.3" transform="rotate(0 449.2 566.4)" fill="#c03030" fill-opacity="0.06"/>
<ellipse cx="320.7" cy="524.6" rx="19.2" ry="8.8" transform="rotate(-40 320.7 524.6)" fill="#3838d0" fill-opacity="0.07"/>
<ellipse cx="334.8" cy="400.9" rx="20.4" ry="9.2" transform="rotate(-40 334.8 400.9)" fill="#c03030" fill-opacity="0.07"/>
<ellipse cx="693.7" cy="203.9" rx="19.4" ry="11.9" transform="rotate(-25 693.7 203.9)" fill="#3838d0" fill-opacity="0.04"/>
<ellipse cx="574.0" cy="204.6" rx="20.5" ry="8.5" transform="rotate(40 574.0 204.6)" fill="#c03030" fill-opacity="0.05"/>
<ellipse cx="300.6" cy="540.7" rx="19.0" ry="9.8" transform="rotate(-30 300.6 540.7)" fill="#3838d0" fill-opacity="0.08"/>
<ellipse cx="480.0" cy="91.0" rx="23.9" ry="7.0" transform="rotate(-35 480.0 91.0)" fill="#c03030" fill-opacity="0.06"/>
<ellipse cx="474.8" cy="599.3" rx="20.9" ry="7.4" transform="rotate(-50 474.8 599.3)" fill="#3838d0" fill-opacity="0.07"/>
<ellipse cx="734.0" cy="530.5" rx="15.6" ry="9.7" transform="rotate(-25 734.0 530.5)" fill="#c03030" fill-opacity="0.06"/>
<ellipse cx="158.9" cy="219.4" rx="15.3" ry="7.2" transform="rotate(40 158.9 219.4)" fill="#3838d0" fill-opacity="0.08"/>
<ellipse cx="519.0" cy="536.0" rx="16.9" ry="9.5" transform="rotate(-40 519.0 536.0)" fill="#c03030" fill-opacity="0.04"/>
<ellipse cx="362.3" cy="265.5" rx="14.8" ry="8.6" transform="rotate(-35 362.3 265.5)" fill="#3838d0" fill-opacity="0.05"/>
<ellipse cx="244.1" cy="557.6" rx="22.1" ry="6.6" transform="rotate(-40 244.1 557.6)" fill="#c03030" fill-opacity="0.05"/>
<ellipse cx="490.6" cy="232.5" rx="17.4" ry="11.5" transform="rotate(-30 490.6 232.5)" fill="#3838d0" fill-opacity="0.04"/>
<ellipse cx="180.1" cy="433.0" rx="21.6" ry="9.4" transform="rotate(-25 180.1 433.0)" fill="#c03030" fill-opacity="0.05"/>
<ellipse cx="382.6" cy="515.6" rx="16.5" ry="6.3" transform="rotate(-25 382.6 515.6)" fill="#3838d0" fill-opacity="0.05"/>
<ellipse cx="698.8" cy="268.8" rx="18.8" ry="7.0" transform="rotate(-50 698.8 268.8)" fill="#c03030" fill-opacity="0.06"/>
<ellipse cx="543.8" cy="170.6" rx="17.2" ry="7.1" transform="rotate(-30 543.8 170.6)" fill="#3838d0" fill-opacity="0.08"/>
<ellipse cx="173.2" cy="597.1" rx="21.2" ry="8.0" transform="rotate(-50 173.2 597.1)" fill="#c03030" fill-opacity="0.08"/>
<ellipse cx="429.7" cy="103.1" rx="20.2" ry="8.4" transform="rotate(40 429.7 103.1)" fill="#3838d0" fill-opacity="0.05"/>
<ellipse cx="452.6" cy="105.7" rx="21.8" ry="8.7" transform="rotate(-50 452.6 105.7)" fill="#c03030" fill-opacity="0.07"/>
<ellipse cx="628.2" cy="482.5" rx="22.4" ry="10.8" transform="rotate(-50 628.2 482.5)" fill="#3838d0" fill-opacity="0.05"/>
<ellipse cx="682.7" cy="488.0" rx="20.4" ry="9.4" transform="rotate(-40 682.7 488.0)" fill="#c03030" fill-opacity="0.06"/>
<ellipse cx="309.2" cy="501.3" rx="16.0" ry="10.7" transform="rotate(-50 309.2 501.3)" fill="#3838d0" fill-opacity="0.06"/>
<ellipse cx="350.7" cy="585.7" rx="22.7" ry="7.1" transform="rotate(30 350.7 585.7)" fill="#c03030" fill-opacity="0.08"/>
<ellipse cx="316.5" cy="517.6" rx="19.6" ry="6.2" transform="rotate(-30 316.5 517.6)" fill="#3838d0" fill-opacity="0.08"/>
<ellipse cx="190.9" cy="121.8" rx="17.0" ry="9.9" transform="rotate(30 190.9 121.8)" fill="#c03030" fill-opacity="0.08"/>
<ellipse cx="719.8" cy="240.5" rx="13.2" ry="7.6" transform="rotate(-25 719.8 240.5)" fill="#3838d0" fill-opacity="0.05"/>
<ellipse cx="589.5" cy="99.2" rx="15.2" ry="8.4" transform="rotate(-50 589.5 99.2)" fill="#c03030" fill-opacity="0.06"/>
<ellipse cx="679.5" cy="477.3" rx="12.0" ry="10.8" transform="rotate(-50 679.5 477.3)" fill="#3838d0" fill-opacity="0.08"/>
<ellipse cx="569.3" cy="580.9" rx="12.7" ry="10.8" transform="rotate(-40 569.3 580.9)" fill="#c03030" fill-opacity="0.05"/>
<ellipse cx="270.8" cy="150.2" rx="20.2" ry="6.3" transform="rotate(-50 270.8 150.2)" fill="#3838d0" fill-opacity="0.07"/>
<ellipse cx="581.0" cy="373.8" rx="23.0" ry="7.7" transform="rotate(-30 581.0 373.8)" fill="#c03030" fill-opacity="0.08"/>
<ellipse cx="686.7" cy="547.3" rx="20.7" ry="6.2" transform="rotate(-40 686.7 547.3)" fill="#3838d0" fill-opacity="0.08"/>
<ellipse cx="617.2" cy="292.9" rx="10.9" ry="11.9" transform="rotate(40 617.2 292.9)" fill="#c03030" fill-opacity="0.04"/>
<ellipse cx="466.0" cy="127.6" rx="23.6" ry="9.3" transform="rotate(-50 466.0 127.6)" fill="#3838d0" fill-opacity="0.05"/>
<ellipse cx="563.6" cy="453.6" rx="22.7" ry="9.5" transform="rotate(40 563.6 453.6)" fill="#c03030" fill-opacity="0.08"/>
<ellipse cx="552.3" cy="202.7" rx="14.4" ry="7.1" transform="rotate(-35 552.3 202.7)" fill="#3838d0" fill-opacity="0.05"/>
<ellipse cx="500.1" cy="150.7" rx="10.5" ry="7.6" transform="rotate(-25 500.1 150.7)" fill="#c03030" fill-opacity="0.06"/>
<ellipse cx="456.4" cy="498.6" rx="23.7" ry="7.6" transform="rotate(-30 456.4 498.6)" fill="#3838d0" fill-opacity="0.08"/>
<ellipse cx="353.2" cy="321.6" rx="21.0" ry="7.5" transform="rotate(0 353.2 321.6)" fill="#c03030" fill-opacity="0.08"/>
<ellipse cx="583.0" cy="246.5" rx="17.5" ry="8.0" transform="rotate(-35 583.0 246.5)" fill="#3838d0" fill-opacity="0.05"/>
<ellipse cx="339.8" cy="140.5" rx="7.9" ry="2.7" transform="rotate(20 339.8 140.5)" fill="#b03838" fill-opacity="0.07"/>
<ellipse cx="491.5" cy="565.4" rx="5.3" ry="2.8" transform="rotate(-60 491.5 565.4)" fill="#4a4ac0" fill-opacity="0.07"/>
<ellipse cx="203.2" cy="293.7" rx="9.0" ry="2.9" transform="rotate(-40 203.2 293.7)" fill="#b03838" fill-opacity="0.13"/>
<ellipse cx="491.6" cy="90.6" rx="7.5" ry="2.6" transform="rotate(-40 491.6 90.6)" fill="#4a4ac0" fill-opacity="0.07"/>
<ellipse cx="653.1" cy="218.2" rx="4.9" ry="2.9" transform="rotate(40 653.1 218.2)" fill="#b03838" fill-opacity="0.06"/>
<ellipse cx="549.7" cy="113.7" rx="7.4" ry="3.1" transform="rotate(-30 549.7 113.7)" fill="#4a4ac0" fill-opacity="0.12"/>
<ellipse cx="186.8" cy="89.4" rx="5.2" ry="4.5" transform="rotate(-60 186.8 89.4)" fill="#b03838" fill-opacity="0.15"/>
<ellipse cx="422.8" cy="573.1" rx="6.2" ry="3.2" transform="rotate(-25 422.8 573.1)" fill="#4a4ac0" fill-opacity="0.14"/>
<ellipse cx="293.0" cy="377.7" rx="7.2" ry="5.1" transform="rotate(0 293.0 377.7)" fill="#b03838" fill-opacity="0.09"/>
<ellipse cx="724.4" cy="122.1" rx="6.5" ry="4.8" transform="rotate(-25 724.4 122.1)" fill="#4a4ac0" fill-opacity="0.08"/>
<ellipse cx="397.1" cy="594.7" rx="4.5" ry="4.2" transform="rotate(50 397.1 594.7)" fill="#b03838" fill-opacity="0.10"/>
<ellipse cx="355.2" cy="334.1" rx="8.8" ry="2.7" transform="rotate(-30 355.2 334.1)" fill="#4a4ac0" fill-opacity="0.16"/>
<ellipse cx="427.8" cy="427.9" rx="4.4" ry="4.6" transform="rotate(0 427.8 427.9)" fill="#b03838" fill-opacity="0.09"/>
<ellipse cx="376.1" cy="430.4" rx="4.1" ry="3.9" transform="rotate(-25 376.1 430.4)" fill="#4a4ac0" fill-opacity="0.13"/>
<ellipse cx="439.3" cy="178.2" rx="5.7" ry="4.7" transform="rotate(-60 439.3 178.2)" fill="#b03838" fill-opacity="0.10"/>
<ellipse cx="660.7" cy="101.1" rx="6.7" ry="4.1" transform="rotate(-25 660.7 101.1)" fill="#4a4ac0" fill-opacity="0.08"/>
<ellipse cx="656.3" cy="211.9" rx="6.5" ry="3.6" transform="rotate(-60 656.3 211.9)" fill="#b03838" fill-opacity="0.08"/>
<ellipse cx="238.4" cy="154.7" rx="5.4" ry="3.2" transform="rotate(0 238.4 154.7)" fill="#4a4ac0" fill-opacity="0.15"/>
<ellipse cx="256.9" cy="213.9" rx="4.9" ry="4.1" transform="rotate(50 256.9 213.9)" fill="#b03838" fill-opacity="0.16"/>
<ellipse cx="554.6" cy="344.7" rx="7.7" ry="4.5" transform="rotate(-35 554.6 344.7)" fill="#4a4ac0" fill-opacity="0.11"/>
<ellipse cx="660.4" cy="589.1" rx="8.1" ry="4.2" transform="rotate(-60 660.4 589.1)" fill="#b03838" fill-opacity="0.10"/>
<ellipse cx="210.7" cy="411.2" rx="4.4" ry="2.7" transform="rotate(-40 210.7 411.2)" fill="#4a4ac0" fill-opacity="0.11"/>
<ellipse cx="214.4" cy="392.4" rx="4.6" ry="4.2" transform="rotate(20 214.4 392.4)" fill="#b03838" fill-opacity="0.07"/>
<ellipse cx="363.1" cy="70.3" rx="9.2" ry="4.3" transform="rotate(-25 363.1 70.3)" fill="#4a4ac0" fill-opacity="0.13"/>
<ellipse cx="709.9" cy="393.3" rx="6.8" ry="2.8" transform="rotate(0 709.9 393.3)" fill="#b03838" fill-opacity="0.17"/>
<ellipse cx="423.1" cy="326.9" rx="4.5" ry="2.8" transform="rotate(50 423.1 326.9)" fill="#4a4ac0" fill-opacity="0.14"/>
<ellipse cx="430.5" cy="443.6" rx="7.1" ry="3.1" transform="rotate(20 430.5 443.6)" fill="#b03838" fill-opacity="0.10"/>
<ellipse cx="554.4" cy="567.9" rx="8.5" ry="3.4" transform="rotate(-30 554.4 567.9)" fill="#4a4ac0" fill-opacity="0.14"/>
<ellipse cx="303.0" cy="261.4" rx="5.0" ry="4.8" transform="rotate(20 303.0 261.4)" fill="#b03838" fill-opacity="0.12"/>
<ellipse cx="444.6" cy="412.4" rx="7.7" ry="4.9" transform="rotate(-40 444.6 412.4)" fill="#4a4ac0" fill-opacity="0.15"/>
<ellipse cx="629.5" cy="470.3" rx="5.4" ry="4.1" transform="rotate(50 629.5 470.3)" fill="#b03838" fill-opacity="0.14"/>
<ellipse cx="729.9" cy="498.5" rx="6.8" ry="3.1" transform="rotate(50 729.9 498.5)" fill="#4a4ac0" fill-opacity="0.11"/>
<ellipse cx="699.1" cy="609.3" rx="9.7" ry="3.6" transform="rotate(-40 699.1 609.3)" fill="#b03838" fill-opacity="0.07"/>
<ellipse cx="425.5" cy="245.1" rx="6.9" ry="5.5" transform="rotate(-35 425.5 245.1)" fill="#4a4ac0" fill-opacity="0.11"/>
<ellipse cx="532.6" cy="503.8" rx="4.5" ry="4.5" transform="rotate(-60 532.6 503.8)" fill="#b03838" fill-opacity="0.15"/>
<ellipse cx="589.6" cy="323.7" rx="5.1" ry="4.9" transform="rotate(50 589.6 323.7)" fill="#4a4ac0" fill-opacity="0.07"/>
<ellipse cx="704.5" cy="460.2" rx="6.8" ry="4.7" transform="rotate(-30 704.5 460.2)" fill="#b03838" fill-opacity="0.14"/>
<ellipse cx="249.6" cy="127.1" rx="4.9" ry="5.2" transform="rotate(-25 249.6 127.1)" fill="#4a4ac0" fill-opacity="0.13"/>
<ellipse cx="499.2" cy="321.6" rx="9.6" ry="3.0" transform="rotate(20 499.2 321.6)" fill="#b03838" fill-opacity="0.07"/>
<ellipse cx="158.3" cy="599.7" rx="7.9" ry="4.1" transform="rotate(-25 158.3 599.7)" fill="#4a4ac0" fill-opacity="0.11"/>
<ellipse cx="660.8" cy="518.6" rx="5.3" ry="3.3" transform="rotate(40 660.8 518.6)" fill="#b03838" fill-opacity="0.12"/>
<ellipse cx="597.5" cy="238.6" rx="7.3" ry="5.0" transform="rotate(-35 597.5 238.6)" fill="#4a4ac0" fill-opacity="0.08"/>
<ellipse cx="357.3" cy="312.6" rx="7.5" ry="5.2" transform="rotate(-60 357.3 312.6)" fill="#b03838" fill-opacity="0.15"/>
<ellipse cx="664.6" cy="129.2" rx="4.9" ry="4.0" transform="rotate(0 664.6 129.2)" fill="#4a4ac0" fill-opacity="0.07"/>
<ellipse cx="506.6" cy="490.6" rx="4.9" ry="2.9" transform="rotate(-30 506.6 490.6)" fill="#b03838" fill-opacity="0.12"/>
<ellipse cx="341.0" cy="346.3" rx="7.3" ry="4.9" transform="rotate(-30 341.0 346.3)" fill="#4a4ac0" fill-opacity="0.16"/>
<ellipse cx="183.3" cy="163.1" rx="4.3" ry="2.8" transform="rotate(0 183.3 163.1)" fill="#b03838" fill-opacity="0.12"/>
<ellipse cx="595.4" cy="567.0" rx="6.7" ry="4.3" transform="rotate(20 595.4 567.0)" fill="#4a4ac0" fill-opacity="0.13"/>
<ellipse cx="266.9" cy="211.2" rx="7.0" ry="4.9" transform="rotate(20 266.9 211.2)" fill="#b03838" fill-opacity="0.16"/>
<ellipse cx="559.7" cy="546.9" rx="9.7" ry="3.3" transform="rotate(20 559.7 546.9)" fill="#4a4ac0" fill-opacity="0.16"/>
<ellipse cx="268.7" cy="306.6" rx="6.5" ry="3.7" transform="rotate(50 268.7 306.6)" fill="#b03838" fill-opacity="0.07"/>
<ellipse cx="291.0" cy="96.9" rx="8.0" ry="4.9" transform="rotate(-25 291.0 96.9)" fill="#4a4ac0" fill-opacity="0.16"/>
<ellipse cx="527.1" cy="261.1" rx="5.5" ry="2.9" transform="rotate(0 527.1 261.1)" fill="#b03838" fill-opacity="0.08"/>
<ellipse cx="708.2" cy="279.0" rx="6.9" ry="5.5" transform="rotate(-40 708.2 279.0)" fill="#4a4ac0" fill-opacity="0.08"/>
<ellipse cx="402.9" cy="344.7" rx="6.0" ry="3.1" transform="rotate(50 402.9 344.7)" fill="#b03838" fill-opacity="0.07"/>
<ellipse cx="364.4" cy="245.3" rx="6.8" ry="4.6" transform="rotate(-60 364.4 245.3)" fill="#4a4ac0" fill-opacity="0.10"/>
<ellipse cx="515.6" cy="342.9" rx="4.4" ry="5.5" transform="rotate(-40 515.6 342.9)" fill="#b03838" fill-opacity="0.17"/>
<ellipse cx="211.4" cy="204.7" rx="4.2" ry="4.8" transform="rotate(40 211.4 204.7)" fill="#4a4ac0" fill-opacity="0.14"/>
<ellipse cx="630.4" cy="531.8" rx="8.1" ry="5.3" transform="rotate(-60 630.4 531.8)" fill="#b03838" fill-opacity="0.08"/>
<ellipse cx="688.6" cy="375.5" rx="8.2" ry="2.8" transform="rotate(-35 688.6 375.5)" fill="#4a4ac0" fill-opacity="0.15"/>
<ellipse cx="257.4" cy="557.4" rx="5.6" ry="2.6" transform="rotate(-30 257.4 557.4)" fill="#b03838" fill-opacity="0.15"/>
<ellipse cx="199.1" cy="535.5" rx="4.4" ry="5.1" transform="rotate(0 199.1 535.5)" fill="#4a4ac0" fill-opacity="0.06"/>
<ellipse cx="732.7" cy="289.9" rx="9.5" ry="4.4" transform="rotate(-35 732.7 289.9)" fill="#b03838" fill-opacity="0.12"/>
<ellipse cx="289.7" cy="117.3" rx="5.0" ry="2.7" transform="rotate(-40 289.7 117.3)" fill="#4a4ac0" fill-opacity="0.16"/>
<ellipse cx="518.4" cy="353.4" rx="5.2" ry="3.8" transform="rotate(-25 518.4 353.4)" fill="#b03838" fill-opacity="0.09"/>
<ellipse cx="621.0" cy="612.9" rx="4.2" ry="2.6" transform="rotate(20 621.0 612.9)" fill="#4a4ac0" fill-opacity="0.12"/>
<ellipse cx="261.0" cy="321.9" rx="9.6" ry="2.8" transform="rotate(-60 261.0 321.9)" fill="#b03838" fill-opacity="0.13"/>
<ellipse cx="469.9" cy="553.7" rx="9.8" ry="3.4" transform="rotate(-40 469.9 553.7)" fill="#4a4ac0" fill-opacity="0.17"/>
<ellipse cx="350.8" cy="522.1" rx="8.2" ry="4.4" transform="rotate(-60 350.8 522.1)" fill="#b03838" fill-opacity="0.17"/>
<ellipse cx="725.4" cy="524.7" rx="4.1" ry="4.4" transform="rotate(40 725.4 524.7)" fill="#4a4ac0" fill-opacity="0.11"/>
<ellipse cx="182.5" cy="428.5" rx="6.3" ry="4.0" transform="rotate(40 182.5 428.5)" fill="#b03838" fill-opacity="0.13"/>
<ellipse cx="555.9" cy="81.3" rx="5.1" ry="3.3" transform="rotate(-35 555.9 81.3)" fill="#4a4ac0" fill-opacity="0.09"/>
<ellipse cx="713.6" cy="600.7" rx="7.3" ry="3.2" transform="rotate(40 713.6 600.7)" fill="#b03838" fill-opacity="0.08"/>
<ellipse cx="257.2" cy="243.8" rx="4.5" ry="3.3" transform="rotate(-40 257.2 243.8)" fill="#4a4ac0" fill-opacity="0.09"/>
<ellipse cx="604.9" cy="106.9" rx="8.9" ry="2.9" transform="rotate(-35 604.9 106.9)" fill="#b03838" fill-opacity="0.05"/>
<ellipse cx="325.6" cy="408.6" rx="4.5" ry="5.4" transform="rotate(-25 325.6 408.6)" fill="#4a4ac0" fill-opacity="0.13"/>
<ellipse cx="569.6" cy="548.3" rx="6.3" ry="3.5" transform="rotate(0 569.6 548.3)" fill="#b03838" fill-opacity="0.08"/>
<ellipse cx="574.4" cy="416.2" rx="4.3" ry="5.0" transform="rotate(20 574.4 416.2)" fill="#4a4ac0" fill-opacity="0.13"/>
<ellipse cx="580.0" cy="510.8" rx="4.8" ry="4.1" transform="rotate(20 580.0 510.8)" fill="#b03838" fill-opacity="0.12"/>
<ellipse cx="626.4" cy="65.0" rx="8.1" ry="4.9" transform="rotate(-40 626.4 65.0)" fill="#4a4ac0" fill-opacity="0.03"/>
<ellipse cx="174.5" cy="412.8" rx="9.8" ry="3.6" transform="rotate(0 174.5 412.8)" fill="#b03838" fill-opacity="0.12"/>
<ellipse cx="517.9" cy="406.7" rx="8.1" ry="4.0" transform="rotate(-35 517.9 406.7)" fill="#4a4ac0" fill-opacity="0.11"/>
<ellipse cx="191.1" cy="578.2" rx="9.4" ry="2.8" transform="rotate(20 191.1 578.2)" fill="#b03838" fill-opacity="0.07"/>
<ellipse cx="581.8" cy="197.2" rx="4.4" ry="3.3" transform="rotate(-40 581.8 197.2)" fill="#4a4ac0" fill-opacity="0.09"/>
<ellipse cx="530.9" cy="313.8" rx="9.1" ry="2.7" transform="rotate(40 530.9 313.8)" fill="#b03838" fill-opacity="0.14"/>
<ellipse cx="511.5" cy="415.9" rx="4.5" ry="2.9" transform="rotate(40 511.5 415.9)" fill="#4a4ac0" fill-opacity="0.13"/>
<ellipse cx="556.0" cy="403.8" rx="4.8" ry="3.9" transform="rotate(0 556.0 403.8)" fill="#b03838" fill-opacity="0.09"/>
<ellipse cx="543.8" cy="443.6" rx="8.1" ry="3.4" transform="rotate(20 543.8 443.6)" fill="#4a4ac0" fill-opacity="0.09"/>
<ellipse cx="423.0" cy="485.6" rx="10.0" ry="4.1" transform="rotate(40 423.0 485.6)" fill="#b03838" fill-opacity="0.17"/>
<ellipse cx="698.6" cy="65.8" rx="6.8" ry="5.0" transform="rotate(0 698.6 65.8)" fill="#4a4ac0" fill-opacity="0.08"/>
<ellipse cx="376.7" cy="569.3" rx="9.6" ry="2.7" transform="rotate(-30 376.7 569.3)" fill="#b03838" fill-opacity="0.08"/>
<ellipse cx="457.1" cy="589.5" rx="4.8" ry="5.0" transform="rotate(20 457.1 589.5)" fill="#4a4ac0" fill-opacity="0.09"/>
<ellipse cx="216.0" cy="260.5" rx="7.0" ry="5.1" transform="rotate(-60 216.0 260.5)" fill="#b03838" fill-opacity="0.06"/>
<ellipse cx="152.1" cy="331.3" rx="6.7" ry="3.4" transform="rotate(-25 152.1 331.3)" fill="#4a4ac0" fill-opacity="0.11"/>
<ellipse cx="370.4" cy="123.7" rx="6.0" ry="3.5" transform="rotate(50 370.4 123.7)" fill="#b03838" fill-opacity="0.15"/>
<ellipse cx="220.3" cy="574.8" rx="8.3" ry="5.2" transform="rotate(40 220.3 574.8)" fill="#4a4ac0" fill-opacity="0.09"/>
<ellipse cx="188.1" cy="274.5" rx="9.2" ry="2.7" transform="rotate(-60 188.1 274.5)" fill="#b03838" fill-opacity="0.14"/>
<ellipse cx="650.6" cy="213.2" rx="4.3" ry="4.5" transform="rotate(-25 650.6 213.2)" fill="#4a4ac0" fill-opacity="0.04"/>
<ellipse cx="305.7" cy="342.1" rx="5.1" ry="3.6" transform="rotate(-60 305.7 342.1)" fill="#b03838" fill-opacity="0.16"/>
<ellipse cx="625.8" cy="409.3" rx="9.5" ry="5.3" transform="rotate(20 625.8 409.3)" fill="#4a4ac0" fill-opacity="0.08"/>
<ellipse cx="197.2" cy="578.7" rx="6.5" ry="4.3" transform="rotate(-25 197.2 578.7)" fill="#b03838" fill-opacity="0.13"/>
<ellipse cx="317.7" cy="83.4" rx="9.6" ry="2.9" transform="rotate(0 317.7 83.4)" fill="#4a4ac0" fill-opacity="0.11"/>
<ellipse cx="315.1" cy="199.2" rx="8.4" ry="4.5" transform="rotate(-60 315.1 199.2)" fill="#b03838" fill-opacity="0.13"/>
<ellipse cx="326.3" cy="368.1" rx="6.4" ry="3.0" transform="rotate(-25 326.3 368.1)" fill="#4a4ac0" fill-opacity="0.07"/>
<ellipse cx="443.4" cy="510.6" rx="7.3" ry="3.9" transform="rotate(50 443.4 510.6)" fill="#b03838" fill-opacity="0.17"/>
<ellipse cx="413.7" cy="134.2" rx="5.2" ry="2.8" transform="rotate(50 413.7 134.2)" fill="#4a4ac0" fill-opacity="0.12"/>
<ellipse cx="337.1" cy="262.3" rx="8.9" ry="3.1" transform="rotate(-35 337.1 262.3)" fill="#b03838" fill-opacity="0.14"/>
<ellipse cx="391.9" cy="287.8" rx="7.1" ry="3.6" transform="rotate(50 391.9 287.8)" fill="#4a4ac0" fill-opacity="0.14"/>
<ellipse cx="441.9" cy="377.6" rx="6.2" ry="4.6" transform="rotate(20 441.9 377.6)" fill="#b03838" fill-opacity="0.13"/>
<ellipse cx="655.6" cy="176.9" rx="5.6" ry="3.2" transform="rotate(-60 655.6 176.9)" fill="#4a4ac0" fill-opacity="0.07"/>
<ellipse cx="403.1" cy="230.7" rx="8.9" ry="5.4" transform="rotate(-25 403.1 230.7)" fill="#b03838" fill-opacity="0.06"/>
<ellipse cx="565.8" cy="557.6" rx="6.8" ry="4.3" transform="rotate(-35 565.8 557.6)" fill="#4a4ac0" fill-opacity="0.07"/>
<ellipse cx="695.1" cy="575.8" rx="7.2" ry="3.9" transform="rotate(0 695.1 575.8)" fill="#b03838" fill-opacity="0.09"/>
<ellipse cx="213.9" cy="142.5" rx="7.1" ry="4.5" transform="rotate(0 213.9 142.5)" fill="#4a4ac0" fill-opacity="0.07"/>
<ellipse cx="605.2" cy="56.8" rx="4.8" ry="4.2" transform="rotate(-35 605.2 56.8)" fill="#b03838" fill-opacity="0.07"/>
<ellipse cx="328.0" cy="127.7" rx="5.5" ry="4.4" transform="rotate(-30 328.0 127.7)" fill="#4a4ac0" fill-opacity="0.07"/>
<ellipse cx="326.0" cy="584.4" rx="5.2" ry="3.3" transform="rotate(-35 326.0 584.4)" fill="#b03838" fill-opacity="0.06"/>
<ellipse cx="326.7" cy="314.0" rx="9.8" ry="4.4" transform="rotate(-40 326.7 314.0)" fill="#4a4ac0" fill-opacity="0.11"/>
<ellipse cx="287.6" cy="194.4" rx="9.8" ry="4.6" transform="rotate(40 287.6 194.4)" fill="#b03838" fill-opacity="0.07"/>
<ellipse cx="263.8" cy="551.5" rx="7.9" ry="2.7" transform="rotate(-40 263.8 551.5)" fill="#4a4ac0" fill-opacity="0.13"/>
<ellipse cx="692.1" cy="183.0" rx="4.2" ry="3.5" transform="rotate(-60 692.1 183.0)" fill="#b03838" fill-opacity="0.05"/>
<ellipse cx="382.3" cy="59.8" rx="5.8" ry="5.0" transform="rotate(-30 382.3 59.8)" fill="#4a4ac0" fill-opacity="0.08"/>
<ellipse cx="718.3" cy="230.6" rx="8.9" ry="3.2" transform="rotate(-40 718.3 230.6)" fill="#b03838" fill-opacity="0.04"/>
<ellipse cx="671.1" cy="117.0" rx="7.7" ry="4.3" transform="rotate(-40 671.1 117.0)" fill="#4a4ac0" fill-opacity="0.06"/>
<ellipse cx="683.5" cy="87.6" rx="7.6" ry="5.3" transform="rotate(-35 683.5 87.6)" fill="#b03838" fill-opacity="0.04"/>
<ellipse cx="720.8" cy="135.5" rx="4.3" ry="2.7" transform="rotate(-60 720.8 135.5)" fill="#4a4ac0" fill-opacity="0.05"/>
<ellipse cx="567.3" cy="232.0" rx="4.7" ry="2.7" transform="rotate(-25 567.3 232.0)" fill="#b03838" fill-opacity="0.10"/>
<ellipse cx="258.7" cy="580.1" rx="8.5" ry="2.6" transform="rotate(-60 258.7 580.1)" fill="#4a4ac0" fill-opacity="0.15"/>
<ellipse cx="727.2" cy="303.8" rx="4.7" ry="2.7" transform="rotate(-30 727.2 303.8)" fill="#b03838" fill-opacity="0.10"/>
<ellipse cx="709.9" cy="125.3" rx="9.8" ry="3.1" transform="rotate(50 709.9 125.3)" fill="#4a4ac0" fill-opacity="0.07"/>
<ellipse cx="330.9" cy="506.2" rx="4.5" ry="4.6" transform="rotate(-40 330.9 506.2)" fill="#b03838" fill-opacity="0.10"/>
<ellipse cx="688.8" cy="164.1" rx="6.2" ry="5.2" transform="rotate(-35 688.8 164.1)" fill="#4a4ac0" fill-opacity="0.06"/>
<ellipse cx="295.3" cy="406.2" rx="6.4" ry="3.6" transform="rotate(0 295.3 406.2)" fill="#b03838" fill-opacity="0.07"/>
<ellipse cx="689.2" cy="199.9" rx="8.5" ry="5.2" transform="rotate(50 689.2 199.9)" fill="#4a4ac0" fill-opacity="0.05"/>
<ellipse cx="346.3" cy="590.1" rx="4.3" ry="4.7" transform="rotate(50 346.3 590.1)" fill="#b03838" fill-opacity="0.16"/>
<ellipse cx="324.3" cy="460.1" rx="7.6" ry="4.9" transform="rotate(-30 324.3 460.1)" fill="#4a4ac0" fill-opacity="0.06"/>
<ellipse cx="287.0" cy="322.1" rx="9.7" ry="5.4" transform="rotate(-60 287.0 322.1)" fill="#b03838" fill-opacity="0.15"/>
<ellipse cx="685.3" cy="512.3" rx="4.8" ry="4.0" transform="rotate(-35 685.3 512.3)" fill="#4a4ac0" fill-opacity="0.15"/>
<ellipse cx="582.8" cy="516.7" rx="8.6" ry="4.3" transform="rotate(50 582.8 516.7)" fill="#b03838" fill-opacity="0.15"/>
<ellipse cx="420.0" cy="494.9" rx="7.6" ry="4.0" transform="rotate(-60 420.0 494.9)" fill="#4a4ac0" fill-opacity="0.14"/>
<ellipse cx="294.9" cy="92.3" rx="4.2" ry="4.2" transform="rotate(50 294.9 92.3)" fill="#b03838" fill-opacity="0.08"/>
<ellipse cx="400.0" cy="114.9" rx="4.4" ry="4.4" transform="rotate(-40 400.0 114.9)" fill="#4a4ac0" fill-opacity="0.07"/>
<ellipse cx="442.1" cy="453.5" rx="6.7" ry="3.2" transform="rotate(-60 442.1 453.5)" fill="#b03838" fill-opacity="0.11"/>
<ellipse cx="672.3" cy="187.6" rx="7.2" ry="4.8" transform="rotate(-30 672.3 187.6)" fill="#4a4ac0" fill-opacity="0.07"/>
<ellipse cx="322.2" cy="212.5" rx="5.6" ry="3.3" transform="rotate(40 322.2 212.5)" fill="#b03838" fill-opacity="0.08"/>
<ellipse cx="295.0" cy="193.4" rx="4.9" ry="5.2" transform="rotate(-40 295.0 193.4)" fill="#4a4ac0" fill-opacity="0.10"/>
<ellipse cx="382.1" cy="611.8" rx="7.0" ry="3.2" transform="rotate(-30 382.1 611.8)" fill="#b03838" fill-opacity="0.13"/>
<ellipse cx="730.7" cy="113.3" rx="6.8" ry="5.0" transform="rotate(0 730.7 113.3)" fill="#4a4ac0" fill-opacity="0.08"/>
<ellipse cx="173.7" cy="220.5" rx="4.7" ry="3.1" transform="rotate(-40 173.7 220.5)" fill="#b03838" fill-opacity="0.16"/>
<ellipse cx="368.1" cy="541.0" rx="6.7" ry="3.3" transform="rotate(-35 368.1 541.0)" fill="#4a4ac0" fill-opacity="0.07"/>
<ellipse cx="499.3" cy="403.2" rx="5.3" ry="3.6" transform="rotate(-25 499.3 403.2)" fill="#b03838" fill-opacity="0.06"/>
<ellipse cx="735.9" cy="77.4" rx="8.4" ry="5.2" transform="rotate(-35 735.9 77.4)" fill="#4a4ac0" fill-opacity="0.08"/>
<ellipse cx="389.7" cy="264.2" rx="7.7" ry="2.7" transform="rotate(-35 389.7 264.2)" fill="#b03838" fill-opacity="0.15"/>
<ellipse cx="471.2" cy="91.4" rx="4.6" ry="3.7" transform="rotate(20 471.2 91.4)" fill="#4a4ac0" fill-opacity="0.08"/>
<ellipse cx="462.9" cy="421.7" rx="6.4" ry="3.3" transform="rotate(40 462.9 421.7)" fill="#b03838" fill-opacity="0.13"/>
<ellipse cx="394.9" cy="84.8" rx="8.5" ry="5.2" transform="rotate(-60 394.9 84.8)" fill="#4a4ac0" fill-opacity="0.11"/>
<ellipse cx="656.4" cy="614.1" rx="6.2" ry="3.1" transform="rotate(-60 656.4 614.1)" fill="#b03838" fill-opacity="0.08"/>
<ellipse cx="153.4" cy="560.9" rx="6.5" ry="5.0" transform="rotate(-60 153.4 560.9)" fill="#4a4ac0" fill-opacity="0.12"/>
<ellipse cx="363.7" cy="488.9" rx="4.8" ry="2.7" transform="rotate(-25 363.7 488.9)" fill="#b03838" fill-opacity="0.13"/>
<ellipse cx="683.1" cy="105.9" rx="7.7" ry="3.6" transform="rotate(20 683.1 105.9)" fill="#4a4ac0" fill-opacity="0.04"/>
<ellipse cx="353.9" cy="146.6" rx="5.0" ry="2.7" transform="rotate(-60 353.9 146.6)" fill="#b03838" fill-opacity="0.11"/>
<ellipse cx="621.6" cy="597.5" rx="5.2" ry="2.9" transform="rotate(-35 621.6 597.5)" fill="#4a4ac0" fill-opacity="0.17"/>
<ellipse cx="432.9" cy="85.9" rx="9.6" ry="3.7" transform="rotate(-25 432.9 85.9)" fill="#b03838" fill-opacity="0.13"/>
<ellipse cx="652.0" cy="403.8" rx="7.7" ry="3.1" transform="rotate(0 652.0 403.8)" fill="#4a4ac0" fill-opacity="0.08"/>
<ellipse cx="277.8" cy="279.9" rx="7.1" ry="3.7" transform="rotate(-30 277.8 279.9)" fill="#b03838" fill-opacity="0.08"/>
<ellipse cx="718.8" cy="512.8" rx="5.2" ry="5.2" transform="rotate(-35 718.8 512.8)" fill="#4a4ac0" fill-opacity="0.13"/>
<ellipse cx="340.0" cy="274.3" rx="6.7" ry="5.0" transform="rotate(40 340.0 274.3)" fill="#b03838" fill-opacity="0.13"/>
<ellipse cx="330.6" cy="195.6" rx="6.3" ry="3.6" transform="rotate(20 330.6 195.6)" fill="#4a4ac0" fill-opacity="0.11"/>
<ellipse cx="163.7" cy="402.6" rx="6.9" ry="3.2" transform="rotate(0 163.7 402.6)" fill="#b03838" fill-opacity="0.15"/>
<ellipse cx="625.0" cy="280.2" rx="4.4" ry="3.6" transform="rotate(50 625.0 280.2)" fill="#4a4ac0" fill-opacity="0.07"/>
<ellipse cx="409.0" cy="341.7" rx="4.2" ry="4.4" transform="rotate(-30 409.0 341.7)" fill="#b03838" fill-opacity="0.16"/>
<ellipse cx="333.8" cy="459.4" rx="4.5" ry="4.8" transform="rotate(-60 333.8 459.4)" fill="#4a4ac0" fill-opacity="0.13"/>
<ellipse cx="609.6" cy="70.5" rx="4.4" ry="4.3" transform="rotate(-30 609.6 70.5)" fill="#b03838" fill-opacity="0.04"/>
<ellipse cx="725.3" cy="331.4" rx="9.7" ry="5.2" transform="rotate(-25 725.3 331.4)" fill="#4a4ac0" fill-opacity="0.14"/>
<ellipse cx="572.6" cy="179.8" rx="9.0" ry="4.3" transform="rotate(40 572.6 179.8)" fill="#b03838" fill-opacity="0.08"/>
<ellipse cx="675.4" cy="210.0" rx="8.9" ry="2.9" transform="rotate(20 675.4 210.0)" fill="#4a4ac0" fill-opacity="0.08"/>
<ellipse cx="431.3" cy="387.5" rx="7.7" ry="3.2" transform="rotate(50 431.3 387.5)" fill="#b03838" fill-opacity="0.06"/>
<ellipse cx="256.7" cy="146.3" rx="9.6" ry="4.5" transform="rotate(-60 256.7 146.3)" fill="#4a4ac0" fill-opacity="0.08"/>
<ellipse cx="609.9" cy="120.4" rx="7.2" ry="4.4" transform="rotate(50 609.9 120.4)" fill="#b03838" fill-opacity="0.08"/>
<ellipse cx="415.5" cy="348.0" rx="8.1" ry="5.2" transform="rotate(40 415.5 348.0)" fill="#4a4ac0" fill-opacity="0.17"/>
<ellipse cx="519.0" cy="276.8" rx="8.8" ry="3.3" transform="rotate(50 519.0 276.8)" fill="#b03838" fill-opacity="0.12"/>
<ellipse cx="361.1" cy="484.2" rx="6.7" ry="3.0" transform="rotate(-35 361.1 484.2)" fill="#4a4ac0" fill-opacity="0.09"/>
<ellipse cx="452.4" cy="229.6" rx="9.8" ry="5.1" transform="rotate(50 452.4 229.6)" fill="#b03838" fill-opacity="0.14"/>
<ellipse cx="587.8" cy="180.1" rx="5.7" ry="4.4" transform="rotate(-60 587.8 180.1)" fill="#4a4ac0" fill-opacity="0.12"/>
<ellipse cx="674.8" cy="129.9" rx="5.4" ry="4.5" transform="rotate(-35 674.8 129.9)" fill="#b03838" fill-opacity="0.03"/>
<ellipse cx="482.3" cy="226.1" rx="7.1" ry="4.1" transform="rotate(-60 482.3 226.1)" fill="#4a4ac0" fill-opacity="0.12"/>
<ellipse cx="495.2" cy="170.3" rx="7.7" ry="3.9" transform="rotate(-25 495.2 170.3)" fill="#b03838" fill-opacity="0.06"/>
<ellipse cx="619.7" cy="452.2" rx="6.7" ry="2.7" transform="rotate(-25 619.7 452.2)" fill="#4a4ac0" fill-opacity="0.16"/>
<ellipse cx="608.3" cy="281.1" rx="5.6" ry="2.5" transform="rotate(20 608.3 281.1)" fill="#b03838" fill-opacity="0.16"/>
<ellipse cx="498.5" cy="379.9" rx="7.6" ry="4.1" transform="rotate(0 498.5 379.9)" fill="#4a4ac0" fill-opacity="0.09"/>
<ellipse cx="679.5" cy="80.6" rx="7.2" ry="3.7" transform="rotate(-40 679.5 80.6)" fill="#b03838" fill-opacity="0.04"/>
<ellipse cx="684.3" cy="114.8" rx="7.7" ry="4.5" transform="rotate(-40 684.3 114.8)" fill="#4a4ac0" fill-opacity="0.04"/>
<ellipse cx="266.9" cy="396.5" rx="7.0" ry="4.4" transform="rotate(-25 266.9 396.5)" fill="#b03838" fill-opacity="0.12"/>
<ellipse cx="187.4" cy="406.5" rx="10.0" ry="4.7" transform="rotate(0 187.4 406.5)" fill="#4a4ac0" fill-opacity="0.14"/>
<ellipse cx="153.7" cy="528.9" rx="8.5" ry="3.9" transform="rotate(0 153.7 528.9)" fill="#b03838" fill-opacity="0.08"/>
<ellipse cx="734.0" cy="202.4" rx="7.9" ry="2.9" transform="rotate(40 734.0 202.4)" fill="#4a4ac0" fill-opacity="0.07"/>
<ellipse cx="305.9" cy="366.1" rx="6.6" ry="4.9" transform="rotate(20 305.9 366.1)" fill="#b03838" fill-opacity="0.17"/>
<ellipse cx="323.2" cy="576.0" rx="9.4" ry="2.8" transform="rotate(20 323.2 576.0)" fill="#4a4ac0" fill-opacity="0.06"/>
<ellipse cx="302.6" cy="188.2" rx="8.5" ry="5.3" transform="rotate(50 302.6 188.2)" fill="#b03838" fill-opacity="0.08"/>
<ellipse cx="377.8" cy="392.7" rx="6.3" ry="5.1" transform="rotate(20 377.8 392.7)" fill="#4a4ac0" fill-opacity="0.11"/>
<ellipse cx="642.1" cy="446.7" rx="9.1" ry="3.8" transform="rotate(-40 642.1 446.7)" fill="#b03838" fill-opacity="0.12"/>
<ellipse cx="330.3" cy="174.7" rx="7.7" ry="2.7" transform="rotate(-25 330.3 174.7)" fill="#4a4ac0" fill-opacity="0.08"/>
<ellipse cx="165.8" cy="115.7" rx="9.6" ry="3.5" transform="rotate(-25 165.8 115.7)" fill="#b03838" fill-opacity="0.14"/>
<ellipse cx="168.1" cy="133.5" rx="7.9" ry="2.6" transform="rotate(-30 168.1 133.5)" fill="#4a4ac0" fill-opacity="0.14"/>
<ellipse cx="188.5" cy="386.7" rx="6.2" ry="5.0" transform="rotate(20 188.5 386.7)" fill="#b03838" fill-opacity="0.16"/>
<ellipse cx="188.6" cy="542.0" rx="9.5" ry="5.3" transform="rotate(-30 188.6 542.0)" fill="#4a4ac0" fill-opacity="0.09"/>
<ellipse cx="269.1" cy="75.0" rx="9.7" ry="5.2" transform="rotate(-30 269.1 75.0)" fill="#b03838" fill-opacity="0.15"/>
<ellipse cx="520.1" cy="216.9" rx="4.6" ry="2.8" transform="rotate(-40 520.1 216.9)" fill="#4a4ac0" fill-opacity="0.09"/>
<ellipse cx="347.2" cy="202.2" rx="6.1" ry="5.3" transform="rotate(-35 347.2 202.2)" fill="#b03838" fill-opacity="0.14"/>
<ellipse cx="365.7" cy="235.7" rx="9.8" ry="4.0" transform="rotate(40 365.7 235.7)" fill="#4a4ac0" fill-opacity="0.13"/>
<ellipse cx="168.2" cy="287.2" rx="6.6" ry="4.8" transform="rotate(50 168.2 287.2)" fill="#b03838" fill-opacity="0.11"/>
<ellipse cx="178.2" cy="373.0" rx="8.3" ry="5.0" transform="rotate(40 178.2 373.0)" fill="#4a4ac0" fill-opacity="0.08"/>
<ellipse cx="150.8" cy="169.1" rx="8.6" ry="5.4" transform="rotate(-35 150.8 169.1)" fill="#b03838" fill-opacity="0.10"/>
<ellipse cx="206.1" cy="445.3" rx="9.0" ry="5.4" transform="rotate(50 206.1 445.3)" fill="#4a4ac0" fill-opacity="0.17"/>
<ellipse cx="451.9" cy="379.7" rx="5.0" ry="4.9" transform="rotate(-40 451.9 379.7)" fill="#b03838" fill-opacity="0.11"/>
<ellipse cx="214.4" cy="412.5" rx="4.5" ry="4.9" transform="rotate(20 214.4 412.5)" fill="#4a4ac0" fill-opacity="0.15"/>
<ellipse cx="518.0" cy="255.1" rx="6.4" ry="3.7" transform="rotate(-30 518.0 255.1)" fill="#b03838" fill-opacity="0.11"/>
<ellipse cx="528.5" cy="264.3" rx="5.8" ry="3.8" transform="rotate(20 528.5 264.3)" fill="#4a4ac0" fill-opacity="0.12"/>
<ellipse cx="372.3" cy="551.0" rx="5.4" ry="3.9" transform="rotate(20 372.3 551.0)" fill="#b03838" fill-opacity="0.13"/>
<ellipse cx="553.9" cy="395.0" rx="4.2" ry="4.2" transform="rotate(20 553.9 395.0)" fill="#4a4ac0" fill-opacity="0.08"/>
<ellipse cx="644.1" cy="426.8" rx="8.5" ry="3.0" transform="rotate(0 644.1 426.8)" fill="#b03838" fill-opacity="0.14"/>
<ellipse cx="300.7" cy="185.4" rx="6.0" ry="4.4" transform="rotate(-40 300.7 185.4)" fill="#4a4ac0" fill-opacity="0.12"/>
<ellipse cx="306.7" cy="478.7" rx="9.0" ry="4.4" transform="rotate(-25 306.7 478.7)" fill="#b03838" fill-opacity="0.17"/>
<ellipse cx="573.8" cy="393.6" rx="6.1" ry="3.2" transform="rotate(-40 573.8 393.6)" fill="#4a4ac0" fill-opacity="0.09"/>
<ellipse cx="709.6" cy="613.2" rx="5.0" ry="4.5" transform="rotate(-40 709.6 613.2)" fill="#b03838" fill-opacity="0.10"/>
<ellipse cx="726.5" cy="501.1" rx="8.4" ry="3.8" transform="rotate(-40 726.5 501.1)" fill="#4a4ac0" fill-opacity="0.07"/>
<ellipse cx="684.1" cy="213.3" rx="9.3" ry="3.9" transform="rotate(-35 684.1 213.3)" fill="#b03838" fill-opacity="0.05"/>
<ellipse cx="613.5" cy="444.3" rx="7.0" ry="4.4" transform="rotate(0 613.5 444.3)" fill="#4a4ac0" fill-opacity="0.06"/>
<ellipse cx="300.7" cy="469.4" rx="4.0" ry="3.2" transform="rotate(-60 300.7 469.4)" fill="#b03838" fill-opacity="0.14"/>
<ellipse cx="494.2" cy="418.4" rx="9.1" ry="4.5" transform="rotate(-40 494.2 418.4)" fill="#4a4ac0" fill-opacity="0.13"/>
<ellipse cx="525.9" cy="310.2" rx="5.9" ry="4.4" transform="rotate(-30 525.9 310.2)" fill="#b03838" fill-opacity="0.16"/>
<ellipse cx="292.0" cy="280.1" rx="8.3" ry="3.0" transform="rotate(-60 292.0 280.1)" fill="#4a4ac0" fill-opacity="0.11"/>
<ellipse cx="161.5" cy="536.8" rx="7.1" ry="4.5" transform="rotate(-25 161.5 536.8)" fill="#b03838" fill-opacity="0.16"/>
<ellipse cx="342.2" cy="62.0" rx="9.0" ry="5.2" transform="rotate(-30 342.2 62.0)" fill="#4a4ac0" fill-opacity="0.06"/>
<ellipse cx="468.4" cy="146.1" rx="8.7" ry="5.3" transform="rotate(20 468.4 146.1)" fill="#b03838" fill-opacity="0.10"/>
<ellipse cx="646.4" cy="311.8" rx="5.2" ry="3.9" transform="rotate(-35 646.4 311.8)" fill="#4a4ac0" fill-opacity="0.13"/>
<ellipse cx="635.8" cy="348.1" rx="6.5" ry="5.3" transform="rotate(-40 635.8 348.1)" fill="#b03838" fill-opacity="0.17"/>
<ellipse cx="257.7" cy="343.7" rx="9.6" ry="4.7" transform="rotate(50 257.7 343.7)" fill="#4a4ac0" fill-opacity="0.13"/>
<ellipse cx="297.9" cy="269.8" rx="4.4" ry="2.7" transform="rotate(-60 297.9 269.8)" fill="#b03838" fill-opacity="0.13"/>
<ellipse cx="545.5" cy="380.9" rx="4.7" ry="3.4" transform="rotate(-60 545.5 380.9)" fill="#4a4ac0" fill-opacity="0.16"/>
<ellipse cx="458.9" cy="178.6" rx="8.8" ry="3.7" transform="rotate(-40 458.9 178.6)" fill="#b03838" fill-opacity="0.08"/>
<ellipse cx="694.6" cy="94.6" rx="8.8" ry="3.1" transform="rotate(20 694.6 94.6)" fill="#4a4ac0" fill-opacity="0.07"/>
<ellipse cx="627.4" cy="137.9" rx="8.0" ry="5.0" transform="rotate(-60 627.4 137.9)" fill="#b03838" fill-opacity="0.06"/>
<ellipse cx="322.5" cy="363.0" rx="4.8" ry="5.0" transform="rotate(50 322.5 363.0)" fill="#4a4ac0" fill-opacity="0.15"/>
<ellipse cx="285.0" cy="450.4" rx="8.1" ry="5.4" transform="rotate(-25 285.0 450.4)" fill="#b03838" fill-opacity="0.11"/>
<ellipse cx="622.0" cy="503.4" rx="6.1" ry="4.5" transform="rotate(50 622.0 503.4)" fill="#4a4ac0" fill-opacity="0.11"/>
<ellipse cx="401.1" cy="412.9" rx="8.0" ry="3.6" transform="rotate(40 401.1 412.9)" fill="#b03838" fill-opacity="0.15"/>
<ellipse cx="183.4" cy="519.6" rx="9.4" ry="4.9" transform="rotate(-25 183.4 519.6)" fill="#4a4ac0" fill-opacity="0.12"/>
<ellipse cx="352.3" cy="382.2" rx="7.9" ry="3.1" transform="rotate(-30 352.3 382.2)" fill="#b03838" fill-opacity="0.13"/>
<ellipse cx="296.5" cy="112.8" rx="4.9" ry="3.2" transform="rotate(0 296.5 112.8)" fill="#4a4ac0" fill-opacity="0.10"/>
<ellipse cx="239.5" cy="562.3" rx="8.8" ry="3.0" transform="rotate(-30 239.5 562.3)" fill="#b03838" fill-opacity="0.13"/>
<ellipse cx="673.8" cy="497.3" rx="9.0" ry="3.1" transform="rotate(-40 673.8 497.3)" fill="#4a4ac0" fill-opacity="0.12"/>
<ellipse cx="584.8" cy="301.6" rx="9.3" ry="4.2" transform="rotate(40 584.8 301.6)" fill="#b03838" fill-opacity="0.11"/>
<ellipse cx="634.7" cy="321.0" rx="7.3" ry="4.0" transform="rotate(-25 634.7 321.0)" fill="#4a4ac0" fill-opacity="0.14"/>
<ellipse cx="294.5" cy="148.2" rx="7.6" ry="4.7" transform="rotate(-25 294.5 148.2)" fill="#b03838" fill-opacity="0.15"/>
<ellipse cx="424.2" cy="371.0" rx="8.0" ry="5.0" transform="rotate(50 424.2 371.0)" fill="#4a4ac0" fill-opacity="0.11"/>
<ellipse cx="736.0" cy="434.5" rx="5.1" ry="3.6" transform="rotate(-35 736.0 434.5)" fill="#b03838" fill-opacity="0.06"/>
<ellipse cx="176.9" cy="468.5" rx="10.0" ry="4.9" transform="rotate(-30 176.9 468.5)" fill="#4a4ac0" fill-opacity="0.12"/>
<ellipse cx="434.0" cy="558.6" rx="4.2" ry="4.7" transform="rotate(-25 434.0 558.6)" fill="#b03838" fill-opacity="0.10"/>
<ellipse cx="655.0" cy="261.0" rx="6.8" ry="4.1" transform="rotate(-40 655.0 261.0)" fill="#4a4ac0" fill-opacity="0.09"/>
<ellipse cx="350.4" cy="196.9" rx="4.3" ry="3.4" transform="rotate(50 350.4 196.9)" fill="#b03838" fill-opacity="0.15"/>
<ellipse cx="386.6" cy="338.1" rx="5.6" ry="4.0" transform="rotate(-40 386.6 338.1)" fill="#4a4ac0" fill-opacity="0.13"/>
<ellipse cx="614.1" cy="241.3" rx="5.9" ry="3.4" transform="rotate(-30 614.1 241.3)" fill="#b03838" fill-opacity="0.07"/>
<ellipse cx="173.5" cy="460.7" rx="9.3" ry="4.1" transform="rotate(-35 173.5 460.7)" fill="#4a4ac0" fill-opacity="0.10"/>
<ellipse cx="213.6" cy="82.0" rx="8.9" ry="3.9" transform="rotate(-35 213.6 82.0)" fill="#b03838" fill-opacity="0.15"/>
<ellipse cx="683.2" cy="398.6" rx="7.7" ry="4.4" transform="rotate(-30 683.2 398.6)" fill="#4a4ac0" fill-opacity="0.08"/>
<ellipse cx="540.9" cy="312.4" rx="8.6" ry="2.8" transform="rotate(-25 540.9 312.4)" fill="#b03838" fill-opacity="0.16"/>
<ellipse cx="397.0" cy="112.3" rx="9.6" ry="2.5" transform="rotate(-25 397.0 112.3)" fill="#4a4ac0" fill-opacity="0.15"/>
<ellipse cx="479.4" cy="200.5" rx="5.8" ry="3.8" transform="rotate(50 479.4 200.5)" fill="#b03838" fill-opacity="0.06"/>
<ellipse cx="481.9" cy="379.8" rx="9.5" ry="4.0" transform="rotate(20 481.9 379.8)" fill="#4a4ac0" fill-opacity="0.06"/>
<ellipse cx="219.6" cy="509.8" rx="7.5" ry="5.3" transform="rotate(0 219.6 509.8)" fill="#b03838" fill-opacity="0.07"/>
<ellipse cx="548.5" cy="388.6" rx="10.0" ry="4.5" transform="rotate(-25 548.5 388.6)" fill="#4a4ac0" fill-opacity="0.11"/>
<ellipse cx="391.7" cy="113.1" rx="7.9" ry="3.1" transform="rotate(-25 391.7 113.1)" fill="#b03838" fill-opacity="0.13"/>
<ellipse cx="400.2" cy="61.2" rx="8.0" ry="5.5" transform="rotate(-30 400.2 61.2)" fill="#4a4ac0" fill-opacity="0.08"/>
<ellipse cx="221.1" cy="320.5" rx="5.7" ry="4.2" transform="rotate(0 221.1 320.5)" fill="#b03838" fill-opacity="0.14"/>
<ellipse cx="259.8" cy="84.1" rx="8.6" ry="4.6" transform="rotate(-25 259.8 84.1)" fill="#4a4ac0" fill-opacity="0.14"/>
<ellipse cx="199.4" cy="408.0" rx="8.3" ry="3.9" transform="rotate(40 199.4 408.0)" fill="#b03838" fill-opacity="0.16"/>
<ellipse cx="180.9" cy="73.9" rx="4.4" ry="5.1" transform="rotate(-30 180.9 73.9)" fill="#4a4ac0" fill-opacity="0.10"/>
<ellipse cx="333.1" cy="392.1" rx="9.7" ry="5.0" transform="rotate(-35 333.1 392.1)" fill="#b03838" fill-opacity="0.09"/>
<ellipse cx="706.0" cy="463.5" rx="6.8" ry="3.0" transform="rotate(-30 706.0 463.5)" fill="#4a4ac0" fill-opacity="0.10"/>
<ellipse cx="527.9" cy="408.6" rx="6.5" ry="3.7" transform="rotate(0 527.9 408.6)" fill="#b03838" fill-opacity="0.16"/>
<ellipse cx="609.8" cy="373.4" rx="5.8" ry="2.7" transform="rotate(50 609.8 373.4)" fill="#4a4ac0" fill-opacity="0.16"/>
<ellipse cx="575.3" cy="64.7" rx="4.9" ry="5.0" transform="rotate(-60 575.3 64.7)" fill="#b03838" fill-opacity="0.17"/>
<ellipse cx="294.2" cy="272.9" rx="6.3" ry="4.8" transform="rotate(-40 294.2 272.9)" fill="#4a4ac0" fill-opacity="0.15"/>
<ellipse cx="316.0" cy="56.9" rx="5.6" ry="3.8" transform="rotate(-35 316.0 56.9)" fill="#b03838" fill-opacity="0.09"/>
<ellipse cx="232.4" cy="554.7" rx="10.0" ry="2.9" transform="rotate(20 232.4 554.7)" fill="#4a4ac0" fill-opacity="0.14"/>
<ellipse cx="685.5" cy="250.2" rx="4.5" ry="4.2" transform="rotate(-60 685.5 250.2)" fill="#b03838" fill-opacity="0.08"/>
<ellipse cx="589.6" cy="577.8" rx="5.4" ry="4.3" transform="rotate(-60 589.6 577.8)" fill="#4a4ac0" fill-opacity="0.11"/>
<ellipse cx="271.1" cy="198.7" rx="8.5" ry="4.9" transform="rotate(0 271.1 198.7)" fill="#b03838" fill-opacity="0.12"/>
<ellipse cx="464.2" cy="254.9" rx="4.4" ry="3.7" transform="rotate(20 464.2 254.9)" fill="#4a4ac0" fill-opacity="0.16"/>
<ellipse cx="668.7" cy="348.2" rx="6.9" ry="4.3" transform="rotate(-40 668.7 348.2)" fill="#b03838" fill-opacity="0.08"/>
<ellipse cx="204.0" cy="507.3" rx="5.7" ry="4.2" transform="rotate(50 204.0 507.3)" fill="#4a4ac0" fill-opacity="0.10"/>
<ellipse cx="453.1" cy="139.4" rx="4.3" ry="5.5" transform="rotate(50 453.1 139.4)" fill="#b03838" fill-opacity="0.16"/>
<ellipse cx="367.8" cy="315.5" rx="4.5" ry="3.4" transform="rotate(-35 367.8 315.5)" fill="#4a4ac0" fill-opacity="0.10"/>
<ellipse cx="454.4" cy="67.5" rx="4.2" ry="5.5" transform="rotate(0 454.4 67.5)" fill="#b03838" fill-opacity="0.12"/>
<ellipse cx="275.2" cy="574.3" rx="5.7" ry="2.8" transform="rotate(0 275.2 574.3)" fill="#4a4ac0" fill-opacity="0.14"/>
<ellipse cx="629.8" cy="595.5" rx="5.5" ry="2.6" transform="rotate(-40 629.8 595.5)" fill="#b03838" fill-opacity="0.17"/>
<ellipse cx="371.6" cy="71.4" rx="4.2" ry="3.6" transform="rotate(0 371.6 71.4)" fill="#4a4ac0" fill-opacity="0.11"/>
<ellipse cx="645.5" cy="557.1" rx="9.2" ry="4.4" transform="rotate(-30 645.5 557.1)" fill="#b03838" fill-opacity="0.14"/>
<ellipse cx="202.7" cy="234.5" rx="5.4" ry="2.8" transform="rotate(20 202.7 234.5)" fill="#4a4ac0" fill-opacity="0.10"/>
<ellipse cx="412.7" cy="145.4" rx="9.8" ry="5.5" transform="rotate(-40 412.7 145.4)" fill="#b03838" fill-opacity="0.08"/>
<ellipse cx="701.8" cy="583.1" rx="4.4" ry="4.2" transform="rotate(-35 701.8 583.1)" fill="#4a4ac0" fill-opacity="0.15"/>
<ellipse cx="177.6" cy="496.4" rx="8.3" ry="4.4" transform="rotate(0 177.6 496.4)" fill="#b03838" fill-opacity="0.07"/>
<ellipse cx="234.9" cy="478.8" rx="9.6" ry="4.5" transform="rotate(40 234.9 478.8)" fill="#4a4ac0" fill-opacity="0.12"/>
<ellipse cx="408.6" cy="421.4" rx="6.8" ry="3.6" transform="rotate(-60 408.6 421.4)" fill="#b03838" fill-opacity="0.07"/>
<ellipse cx="432.0" cy="150.4" rx="5.4" ry="2.9" transform="rotate(-35 432.0 150.4)" fill="#4a4ac0" fill-opacity="0.11"/>
<ellipse cx="684.8" cy="503.4" rx="4.9" ry="5.0" transform="rotate(-30 684.8 503.4)" fill="#b03838" fill-opacity="0.16"/>
<ellipse cx="657.9" cy="553.7" rx="4.8" ry="3.8" transform="rotate(-30 657.9 553.7)" fill="#4a4ac0" fill-opacity="0.16"/>
<ellipse cx="375.7" cy="68.2" rx="4.5" ry="5.4" transform="rotate(50 375.7 68.2)" fill="#b03838" fill-opacity="0.15"/>
<ellipse cx="429.8" cy="407.8" rx="4.9" ry="3.2" transform="rotate(-35 429.8 407.8)" fill="#4a4ac0" fill-opacity="0.08"/>
<ellipse cx="414.5" cy="554.0" rx="6.6" ry="2.9" transform="rotate(-60 414.5 554.0)" fill="#b03838" fill-opacity="0.11"/>
<ellipse cx="241.2" cy="207.8" rx="9.0" ry="3.5" transform="rotate(-25 241.2 207.8)" fill="#4a4ac0" fill-opacity="0.09"/>
<ellipse cx="214.0" cy="311.5" rx="6.9" ry="3.0" transform="rotate(20 214.0 311.5)" fill="#b03838" fill-opacity="0.07"/>
<ellipse cx="674.5" cy="430.2" rx="5.3" ry="3.9" transform="rotate(40 674.5 430.2)" fill="#4a4ac0" fill-opacity="0.07"/>
<ellipse cx="592.3" cy="599.6" rx="6.6" ry="3.3" transform="rotate(-40 592.3 599.6)" fill="#b03838" fill-opacity="0.16"/>
<ellipse cx="207.2" cy="218.1" rx="9.4" ry="2.7" transform="rotate(40 207.2 218.1)" fill="#4a4ac0" fill-opacity="0.08"/>
<ellipse cx="524.9" cy="303.6" rx="7.0" ry="4.0" transform="rotate(0 524.9 303.6)" fill="#b03838" fill-opacity="0.06"/>
<ellipse cx="637.7" cy="350.9" rx="5.1" ry="3.8" transform="rotate(-60 637.7 350.9)" fill="#4a4ac0" fill-opacity="0.08"/>
<ellipse cx="484.8" cy="133.3" rx="5.1" ry="4.8" transform="rotate(-25 484.8 133.3)" fill="#b03838" fill-opacity="0.08"/>
<ellipse cx="196.5" cy="105.0" rx="7.7" ry="4.0" transform="rotate(40 196.5 105.0)" fill="#4a4ac0" fill-opacity="0.08"/>
<ellipse cx="230.3" cy="431.1" rx="7.8" ry="3.1" transform="rotate(40 230.3 431.1)" fill="#b03838" fill-opacity="0.08"/>
<ellipse cx="188.5" cy="466.3" rx="6.4" ry="4.7" transform="rotate(-35 188.5 466.3)" fill="#4a4ac0" fill-opacity="0.12"/>
<ellipse cx="353.7" cy="213.8" rx="7.8" ry="5.3" transform="rotate(-30 353.7 213.8)" fill="#b03838" fill-opacity="0.06"/>
<ellipse cx="683.4" cy="322.9" rx="9.2" ry="3.3" transform="rotate(-25 683.4 322.9)" fill="#4a4ac0" fill-opacity="0.12"/>
<ellipse cx="727.6" cy="76.5" rx="8.2" ry="4.2" transform="rotate(-35 727.6 76.5)" fill="#b03838" fill-opacity="0.05"/>
<ellipse cx="696.2" cy="598.5" rx="4.4" ry="3.6" transform="rotate(-40 696.2 598.5)" fill="#4a4ac0" fill-opacity="0.15"/>
<ellipse cx="657.2" cy="235.7" rx="8.3" ry="3.6" transform="rotate(-35 657.2 235.7)" fill="#b03838" fill-opacity="0.05"/>
<ellipse cx="213.1" cy="465.3" rx="6.7" ry="2.6" transform="rotate(20 213.1 465.3)" fill="#4a4ac0" fill-opacity="0.07"/>
<ellipse cx="292.7" cy="105.6" rx="7.7" ry="3.0" transform="rotate(40 292.7 105.6)" fill="#b03838" fill-opacity="0.09"/>
<ellipse cx="628.9" cy="72.8" rx="4.6" ry="4.6" transform="rotate(-40 628.9 72.8)" fill="#4a4ac0" fill-opacity="0.04"/>
<ellipse cx="640.7" cy="412.6" rx="6.8" ry="3.2" transform="rotate(0 640.7 412.6)" fill="#b03838" fill-opacity="0.07"/>
<ellipse cx="659.5" cy="457.6" rx="4.3" ry="2.9" transform="rotate(0 659.5 457.6)" fill="#4a4ac0" fill-opacity="0.12"/>
<ellipse cx="596.2" cy="117.6" rx="4.7" ry="5.2" transform="rotate(20 596.2 117.6)" fill="#b03838" fill-opacity="0.06"/>
<ellipse cx="654.6" cy="138.4" rx="7.4" ry="4.7" transform="rotate(-25 654.6 138.4)" fill="#4a4ac0" fill-opacity="0.08"/>
<ellipse cx="160.8" cy="411.6" rx="8.2" ry="4.3" transform="rotate(20 160.8 411.6)" fill="#b03838" fill-opacity="0.06"/>
<ellipse cx="718.7" cy="85.1" rx="6.2" ry="3.7" transform="rotate(50 718.7 85.1)" fill="#4a4ac0" fill-opacity="0.07"/>
<ellipse cx="644.0" cy="372.1" rx="9.9" ry="3.5" transform="rotate(-60 644.0 372.1)" fill="#b03838" fill-opacity="0.15"/>
<ellipse cx="181.4" cy="345.7" rx="9.7" ry="5.3" transform="rotate(-40 181.4 345.7)" fill="#4a4ac0" fill-opacity="0.16"/>
<ellipse cx="538.6" cy="62.5" rx="4.7" ry="3.1" transform="rotate(50 538.6 62.5)" fill="#b03838" fill-opacity="0.11"/>
<ellipse cx="445.8" cy="67.7" rx="4.8" ry="5.4" transform="rotate(0 445.8 67.7)" fill="#4a4ac0" fill-opacity="0.13"/>
<ellipse cx="624.2" cy="551.2" rx="9.3" ry="2.6" transform="rotate(40 624.2 551.2)" fill="#b03838" fill-opacity="0.16"/>
<ellipse cx="515.4" cy="407.8" rx="8.8" ry="2.6" transform="rotate(-30 515.4 407.8)" fill="#4a4ac0" fill-opacity="0.09"/>
<ellipse cx="454.9" cy="298.9" rx="9.7" ry="3.4" transform="rotate(40 454.9 298.9)" fill="#b03838" fill-opacity="0.10"/>
<ellipse cx="247.8" cy="89.8" rx="9.8" ry="5.3" transform="rotate(40 247.8 89.8)" fill="#4a4ac0" fill-opacity="0.07"/>
<ellipse cx="495.9" cy="577.9" rx="6.6" ry="4.0" transform="rotate(40 495.9 577.9)" fill="#b03838" fill-opacity="0.16"/>
<ellipse cx="488.3" cy="209.5" rx="8.4" ry="4.7" transform="rotate(40 488.3 209.5)" fill="#4a4ac0" fill-opacity="0.15"/>
<ellipse cx="507.4" cy="375.3" rx="7.9" ry="3.1" transform="rotate(50 507.4 375.3)" fill="#b03838" fill-opacity="0.11"/>
<ellipse cx="471.1" cy="399.2" rx="6.8" ry="3.4" transform="rotate(-40 471.1 399.2)" fill="#4a4ac0" fill-opacity="0.10"/>
<ellipse cx="260.6" cy="361.7" rx="9.8" ry="3.7" transform="rotate(50 260.6 361.7)" fill="#b03838" fill-opacity="0.08"/>
<ellipse cx="707.9" cy="237.4" rx="6.0" ry="3.3" transform="rotate(-40 707.9 237.4)" fill="#4a4ac0" fill-opacity="0.05"/>
<ellipse cx="602.5" cy="144.8" rx="4.4" ry="5.1" transform="rotate(0 602.5 144.8)" fill="#b03838" fill-opacity="0.07"/>
<ellipse cx="453.0" cy="523.2" rx="6.1" ry="4.8" transform="rotate(20 453.0 523.2)" fill="#4a4ac0" fill-opacity="0.08"/>
<ellipse cx="712.2" cy="469.6" rx="4.9" ry="3.5" transform="rotate(50 712.2 469.6)" fill="#b03838" fill-opacity="0.08"/>
<ellipse cx="268.7" cy="398.0" rx="5.7" ry="5.0" transform="rotate(-30 268.7 398.0)" fill="#4a4ac0" fill-opacity="0.14"/>
<ellipse cx="585.6" cy="481.4" rx="6.9" ry="4.9" transform="rotate(-25 585.6 481.4)" fill="#b03838" fill-opacity="0.11"/>
<ellipse cx="210.6" cy="285.8" rx="7.3" ry="2.9" transform="rotate(-60 210.6 285.8)" fill="#4a4ac0" fill-opacity="0.17"/>
<ellipse cx="485.2" cy="290.0" rx="8.7" ry="5.1" transform="rotate(-30 485.2 290.0)" fill="#b03838" fill-opacity="0.10"/>
<ellipse cx="415.0" cy="312.4" rx="8.3" ry="3.4" transform="rotate(-60 415.0 312.4)" fill="#4a4ac0" fill-opacity="0.12"/>
<ellipse cx="498.9" cy="419.0" rx="4.0" ry="4.7" transform="rotate(0 498.9 419.0)" fill="#b03838" fill-opacity="0.10"/>
<ellipse cx="325.8" cy="356.6" rx="8.8" ry="3.8" transform="rotate(-60 325.8 356.6)" fill="#4a4ac0" fill-opacity="0.12"/>
</g>
<ellipse cx="450.0" cy="114.0" rx="32.0" ry="2.2" transform="rotate(-19 450.0 114.0)" fill="#b03030" fill-opacity="0.55" filter="url(#b1)"/>
<ellipse cx="424.0" cy="154.0" rx="16.0" ry="2.5" transform="rotate(-15 424.0 154.0)" fill="#b03030" fill-opacity="0.45" filter="url(#b1)"/>
<ellipse cx="447.0" cy="149.0" rx="44.0" ry="2.0" transform="rotate(-36 447.0 149.0)" fill="#4848c8" fill-opacity="0.45" filter="url(#b1)"/>
<ellipse cx="520.0" cy="106.0" rx="11.0" ry="2.5" transform="rotate(-60 520.0 106.0)" fill="#b03030" fill-opacity="0.35" filter="url(#b1)"/>
<ellipse cx="414.0" cy="196.0" rx="24.0" ry="2.0" transform="rotate(-25 414.0 196.0)" fill="#4848c8" fill-opacity="0.40" filter="url(#b1)"/>
<ellipse cx="484.0" cy="102.0" rx="14.0" ry="2.5" transform="rotate(-40 484.0 102.0)" fill="#b03030" fill-opacity="0.30" filter="url(#b1)"/>
<ellipse cx="361.0" cy="192.0" rx="20.0" ry="3.0" transform="rotate(-20 361.0 192.0)" fill="#b03030" fill-opacity="0.40" filter="url(#b1)"/>
<ellipse cx="374.0" cy="220.0" rx="10.0" ry="3.0" transform="rotate(-10 374.0 220.0)" fill="#b03030" fill-opacity="0.40" filter="url(#b1)"/>
<ellipse cx="302.0" cy="228.0" rx="10.0" ry="2.5" transform="rotate(-30 302.0 228.0)" fill="#b03030" fill-opacity="0.50" filter="url(#b1)"/>
<ellipse cx="317.0" cy="219.0" rx="5.0" ry="3.0" transform="rotate(-20 317.0 219.0)" fill="#b03030" fill-opacity="0.40" filter="url(#b1)"/>
<ellipse cx="356.0" cy="212.4" rx="18.0" ry="2.0" transform="rotate(-12 356.0 212.4)" fill="#4848c8" fill-opacity="0.45" filter="url(#b1)"/>
<ellipse cx="412.0" cy="195.0" rx="30.0" ry="2.0" transform="rotate(-23 412.0 195.0)" fill="#4848c8" fill-opacity="0.45" filter="url(#b1)"/>
<ellipse cx="319.0" cy="244.0" rx="18.0" ry="2.0" transform="rotate(-30 319.0 244.0)" fill="#4848c8" fill-opacity="0.45" filter="url(#b1)"/>
<ellipse cx="320.0" cy="239.0" rx="18.0" ry="2.0" transform="rotate(-30 320.0 239.0)" fill="#ffffff" fill-opacity="0.55" filter="url(#b1)"/>
<ellipse cx="312.0" cy="246.0" rx="3.0" ry="3.0" transform="rotate(0 312.0 246.0)" fill="#ffffff" fill-opacity="0.70" filter="url(#b1)"/>
<ellipse cx="250.0" cy="245.0" rx="7.0" ry="2.5" transform="rotate(-60 250.0 245.0)" fill="#b03030" fill-opacity="0.55" filter="url(#b1)"/>
<ellipse cx="242.0" cy="264.0" rx="8.0" ry="2.5" transform="rotate(-55 242.0 264.0)" fill="#b03030" fill-opacity="0.35" filter="url(#b1)"/>
<ellipse cx="152.0" cy="253.0" rx="14.0" ry="3.0" transform="rotate(40 152.0 253.0)" fill="#f08080" fill-opacity="0.35" filter="url(#b2)"/>
<ellipse cx="146.0" cy="274.0" rx="10.0" ry="3.0" transform="rotate(40 146.0 274.0)" fill="#f08080" fill-opacity="0.25" filter="url(#b2)"/>
<ellipse cx="295.0" cy="80.0" rx="7.0" ry="3.0" transform="rotate(-50 295.0 80.0)" fill="#b03030" fill-opacity="0.50" filter="url(#b1)"/>
<ellipse cx="332.0" cy="87.0" rx="14.0" ry="2.2" transform="rotate(-25 332.0 87.0)" fill="#b03030" fill-opacity="0.45" filter="url(#b1)"/>
<ellipse cx="338.0" cy="104.0" rx="20.0" ry="3.0" transform="rotate(-50 338.0 104.0)" fill="#4848c8" fill-opacity="0.30" filter="url(#b1)"/>
<ellipse cx="290.0" cy="126.0" rx="4.0" ry="18.0" transform="rotate(15 290.0 126.0)" fill="#b03030" fill-opacity="0.25" filter="url(#b2)"/>
<ellipse cx="318.0" cy="218.0" rx="6.0" ry="3.0" transform="rotate(-20 318.0 218.0)" fill="#b03030" fill-opacity="0.60" filter="url(#b1)"/>
<ellipse cx="301.0" cy="229.0" rx="9.0" ry="2.5" transform="rotate(-25 301.0 229.0)" fill="#b03030" fill-opacity="0.50" filter="url(#b1)"/>
<ellipse cx="300.0" cy="225.0" rx="8.0" ry="1.8" transform="rotate(-25 300.0 225.0)" fill="#4848c8" fill-opacity="0.50" filter="url(#b1)"/>
<ellipse cx="250.0" cy="244.0" rx="3.0" ry="7.0" transform="rotate(20 250.0 244.0)" fill="#b03030" fill-opacity="0.35" filter="url(#b1)"/>
<ellipse cx="203.0" cy="328.0" rx="8.0" ry="5.0" transform="rotate(-60 203.0 328.0)" fill="#b03030" fill-opacity="0.40" filter="url(#b15)"/>
<ellipse cx="174.0" cy="348.0" rx="7.0" ry="4.0" transform="rotate(-60 174.0 348.0)" fill="#b03030" fill-opacity="0.30" filter="url(#b15)"/>
<ellipse cx="180.0" cy="370.0" rx="9.0" ry="2.0" transform="rotate(-55 180.0 370.0)" fill="#4848c8" fill-opacity="0.40" filter="url(#b1)"/>
<ellipse cx="236.0" cy="338.0" rx="7.0" ry="3.0" transform="rotate(-30 236.0 338.0)" fill="#4848c8" fill-opacity="0.35" filter="url(#b1)"/>
<ellipse cx="168.0" cy="400.0" rx="8.0" ry="2.0" transform="rotate(-55 168.0 400.0)" fill="#4848c8" fill-opacity="0.40" filter="url(#b1)"/>
<ellipse cx="204.0" cy="350.0" rx="8.0" ry="2.5" transform="rotate(-50 204.0 350.0)" fill="#4848c8" fill-opacity="0.30" filter="url(#b1)"/>
<ellipse cx="713.3" cy="150.0" rx="12.0" ry="3.2" transform="rotate(-35 713.3 150.0)" fill="#4848c8" fill-opacity="0.28" filter="url(#b15)"/>
<ellipse cx="703.3" cy="138.3" rx="14.0" ry="3.6" transform="rotate(-35 703.3 138.3)" fill="#b03030" fill-opacity="0.21" filter="url(#b15)"/>
<ellipse cx="653.3" cy="133.3" rx="10.0" ry="3.2" transform="rotate(-25 653.3 133.3)" fill="#b03030" fill-opacity="0.21" filter="url(#b15)"/>
<ellipse cx="626.7" cy="150.0" rx="8.0" ry="3.6" transform="rotate(0 626.7 150.0)" fill="#b03030" fill-opacity="0.17" filter="url(#b15)"/>
<ellipse cx="636.7" cy="193.3" rx="3.3" ry="9.6" transform="rotate(0 636.7 193.3)" fill="#4848c8" fill-opacity="0.21" filter="url(#b15)"/>
<ellipse cx="670.0" cy="166.7" rx="14.0" ry="3.2" transform="rotate(-20 670.0 166.7)" fill="#4848c8" fill-opacity="0.17" filter="url(#b15)"/>
<ellipse cx="680.0" cy="180.0" rx="12.0" ry="3.2" transform="rotate(-20 680.0 180.0)" fill="#b03030" fill-opacity="0.17" filter="url(#b15)"/>
<ellipse cx="653.3" cy="173.3" rx="12.0" ry="3.2" transform="rotate(-15 653.3 173.3)" fill="#b03030" fill-opacity="0.17" filter="url(#b15)"/>
<ellipse cx="503.3" cy="126.7" rx="16.0" ry="2.4" transform="rotate(-50 503.3 126.7)" fill="#4848c8" fill-opacity="0.28" filter="url(#b15)"/>
<ellipse cx="486.7" cy="93.3" rx="10.0" ry="3.6" transform="rotate(-45 486.7 93.3)" fill="#b03030" fill-opacity="0.24" filter="url(#b15)"/>
<ellipse cx="516.7" cy="110.0" rx="4.0" ry="12.0" transform="rotate(20 516.7 110.0)" fill="#b03030" fill-opacity="0.21" filter="url(#b15)"/>
<ellipse cx="533.3" cy="100.0" rx="10.0" ry="2.4" transform="rotate(-50 533.3 100.0)" fill="#4848c8" fill-opacity="0.21" filter="url(#b15)"/>
<ellipse cx="473.3" cy="150.0" rx="14.0" ry="3.2" transform="rotate(-35 473.3 150.0)" fill="#b03030" fill-opacity="0.24" filter="url(#b15)"/>
<ellipse cx="493.3" cy="170.0" rx="16.7" ry="3.2" transform="rotate(-30 493.3 170.0)" fill="#b03030" fill-opacity="0.21" filter="url(#b15)"/>
<ellipse cx="470.0" cy="230.0" rx="10.0" ry="3.6" transform="rotate(-30 470.0 230.0)" fill="#4848c8" fill-opacity="0.21" filter="url(#b15)"/>
<ellipse cx="483.3" cy="133.3" rx="13.3" ry="2.4" transform="rotate(-45 483.3 133.3)" fill="#4848c8" fill-opacity="0.21" filter="url(#b15)"/>
<ellipse cx="696.7" cy="186.7" rx="10.0" ry="3.2" transform="rotate(-30 696.7 186.7)" fill="#b03030" fill-opacity="0.17" filter="url(#b15)"/>
<ellipse cx="436.0" cy="540.0" rx="2.4" ry="2.4" transform="rotate(0 436.0 540.0)" fill="#4848c8" fill-opacity="0.50" filter="url(#b1)"/>
<ellipse cx="447.0" cy="533.0" rx="3.6" ry="5.0" transform="rotate(-20 447.0 533.0)" fill="#4848c8" fill-opacity="0.40" filter="url(#b1)"/>
<ellipse cx="426.0" cy="544.0" rx="4.4" ry="3.6" transform="rotate(0 426.0 544.0)" fill="#b03030" fill-opacity="0.35" filter="url(#b1)"/>
<ellipse cx="434.0" cy="530.0" rx="8.0" ry="2.8" transform="rotate(-20 434.0 530.0)" fill="#b03030" fill-opacity="0.30" filter="url(#b1)"/>
<ellipse cx="418.0" cy="538.0" rx="3.2" ry="7.0" transform="rotate(0 418.0 538.0)" fill="#b03030" fill-opacity="0.30" filter="url(#b1)"/>
<ellipse cx="468.0" cy="526.0" rx="5.6" ry="4.8" transform="rotate(0 468.0 526.0)" fill="#b03030" fill-opacity="0.40" filter="url(#b1)"/>
<ellipse cx="460.0" cy="566.0" rx="7.0" ry="3.6" transform="rotate(-20 460.0 566.0)" fill="#b03030" fill-opacity="0.35" filter="url(#b1)"/>
<ellipse cx="494.0" cy="578.0" rx="4.4" ry="10.0" transform="rotate(30 494.0 578.0)" fill="#b03030" fill-opacity="0.30" filter="url(#b1)"/>
<ellipse cx="570.0" cy="548.0" rx="6.4" ry="5.2" transform="rotate(0 570.0 548.0)" fill="#b03030" fill-opacity="0.40" filter="url(#b1)"/>
<ellipse cx="496.0" cy="514.0" rx="4.4" ry="4.4" transform="rotate(0 496.0 514.0)" fill="#4848c8" fill-opacity="0.35" filter="url(#b1)"/>
<ellipse cx="506.0" cy="492.0" rx="2.8" ry="7.2" transform="rotate(0 506.0 492.0)" fill="#4848c8" fill-opacity="0.35" filter="url(#b1)"/>
<ellipse cx="526.0" cy="492.0" rx="4.0" ry="8.0" transform="rotate(-20 526.0 492.0)" fill="#b03030" fill-opacity="0.35" filter="url(#b1)"/>
<ellipse cx="446.0" cy="548.0" rx="3.2" ry="4.0" transform="rotate(0 446.0 548.0)" fill="#4848c8" fill-opacity="0.30" filter="url(#b1)"/>
<ellipse cx="290.0" cy="458.0" rx="2.4" ry="11.0" transform="rotate(-14 290.0 458.0)" fill="#b03030" fill-opacity="0.28" filter="url(#b1)"/>
<ellipse cx="298.5" cy="462.0" rx="2.4" ry="14.0" transform="rotate(-14 298.5 462.0)" fill="#4848c8" fill-opacity="0.28" filter="url(#b1)"/>
<ellipse cx="307.0" cy="466.0" rx="2.4" ry="11.0" transform="rotate(-14 307.0 466.0)" fill="#b03030" fill-opacity="0.28" filter="url(#b1)"/>
<ellipse cx="315.5" cy="458.0" rx="2.4" ry="14.0" transform="rotate(-14 315.5 458.0)" fill="#4848c8" fill-opacity="0.28" filter="url(#b1)"/>
<ellipse cx="324.0" cy="462.0" rx="2.4" ry="11.0" transform="rotate(6 324.0 462.0)" fill="#b03030" fill-opacity="0.28" filter="url(#b1)"/>
<ellipse cx="332.5" cy="466.0" rx="2.4" ry="14.0" transform="rotate(6 332.5 466.0)" fill="#4848c8" fill-opacity="0.28" filter="url(#b1)"/>
<ellipse cx="341.0" cy="458.0" rx="2.4" ry="11.0" transform="rotate(6 341.0 458.0)" fill="#b03030" fill-opacity="0.28" filter="url(#b1)"/>
<ellipse cx="349.5" cy="462.0" rx="2.4" ry="14.0" transform="rotate(6 349.5 462.0)" fill="#4848c8" fill-opacity="0.28" filter="url(#b1)"/>
<ellipse cx="296.5" cy="472.0" rx="3.0" ry="8.0" transform="rotate(-8 296.5 472.0)" fill="#b03030" fill-opacity="0.35" filter="url(#b1)"/>
<ellipse cx="334.0" cy="400.0" rx="5.0" ry="4.0" transform="rotate(0 334.0 400.0)" fill="#b03030" fill-opacity="0.30" filter="url(#b15)"/>
<ellipse cx="334.0" cy="401.0" rx="4.0" ry="3.2" transform="rotate(0 334.0 401.0)" fill="#b03030" fill-opacity="0.35" filter="url(#b1)"/>
<ellipse cx="315.0" cy="398.0" rx="3.6" ry="2.8" transform="rotate(0 315.0 398.0)" fill="#b03030" fill-opacity="0.30" filter="url(#b1)"/>
<ellipse cx="390.0" cy="433.0" rx="4.4" ry="4.0" transform="rotate(0 390.0 433.0)" fill="#b03030" fill-opacity="0.30" filter="url(#b1)"/>
<ellipse cx="316.0" cy="478.0" rx="4.0" ry="6.0" transform="rotate(0 316.0 478.0)" fill="#b03030" fill-opacity="0.30" filter="url(#b1)"/>
<ellipse cx="245.0" cy="115.0" rx="28.0" ry="55.0" transform="rotate(10 245.0 115.0)" fill="#3838d0" fill-opacity="0.07" filter="url(#b3)"/>
<ellipse cx="262.0" cy="70.0" rx="25.0" ry="20.0" transform="rotate(0 262.0 70.0)" fill="#3838d0" fill-opacity="0.06" filter="url(#b3)"/>
<ellipse cx="215.0" cy="230.0" rx="30.0" ry="45.0" transform="rotate(20 215.0 230.0)" fill="#c03030" fill-opacity="0.07" filter="url(#b3)"/>
<ellipse cx="250.0" cy="215.0" rx="25.0" ry="30.0" transform="rotate(0 250.0 215.0)" fill="#c03030" fill-opacity="0.06" filter="url(#b3)"/>
<path d="M174.6 499.1L168.1 506.9L164.3 514.6L159.1 519.7L155.3 526.1L160.4 535.1L163.0 542.9L168.1 550.6L169.4 563.4L161.7 566.0L155.3 571.1L150.1 578.9L160.4 582.7L151.4 584.0L150.1 589.1L138.6 594.3L142.4 603.3L136.0 595.6L127.0 594.3L124.4 587.9L116.7 582.7L107.7 582.7L107.7 580.9L118.0 580.9L128.3 578.9L132.1 568.6L134.7 558.3L138.6 550.6L142.4 541.6L147.6 532.6L152.7 526.1L157.9 517.1L163.0 509.4L169.4 501.7Z" fill="#fdf6fa"/>
<path d="M193.1 498.6L199.0 492.7L199.8 494.0L194.6 499.1Z" fill="#fdf6fa"/>
<path d="M204.1 487.6L208.5 487.8L209.0 489.6L204.9 489.4Z" fill="#fdf6fa"/>
<path d="M107.7 608.4L110.8 610.2L111.8 615.4L107.7 615.9Z" fill="#fdf6fa"/>
<path d="M106.0 401.0L111.0 402.0L114.0 408.0L110.0 409.0L106.0 408.0Z" fill="#fdf6fa"/>
<path d="M250.0 91.0L253.0 91.6L256.4 95.0L255.0 96.4L251.6 94.0Z" fill="#fdf6fa"/>
<path d="M259.0 110.0L263.0 110.0L267.0 115.0L270.0 121.0L267.0 123.0L264.0 118.0L261.0 113.6Z" fill="#fdf6fa"/>
<path d="M200.0 224.4L204.4 225.0L205.0 227.0L201.0 226.6Z" fill="#fdf6fa"/>
<path d="M618.0 316.0L617.0 310.0L621.0 303.0L627.0 297.0L632.0 292.0L634.0 287.0L639.0 282.0L642.0 280.0" fill="none" stroke="#55525a" stroke-width="4.5" stroke-linejoin="round" stroke-linecap="round"/>
<path d="M618.0 316.0L617.0 310.0L621.0 303.0L627.0 297.0L632.0 292.0L634.0 287.0L639.0 282.0L642.0 280.0" fill="none" stroke="#ffeef0" stroke-width="2.6" stroke-linejoin="round" stroke-linecap="round"/>
<path d="M642.0 278.0L644.0 273.0L648.0 274.4L654.0 276.0L660.0 273.0L666.0 271.0" fill="none" stroke="#55525a" stroke-width="4.5" stroke-linejoin="round" stroke-linecap="round"/>
<path d="M642.0 278.0L644.0 273.0L648.0 274.4L654.0 276.0L660.0 273.0L666.0 271.0" fill="none" stroke="#ffe4e6" stroke-width="2.6" stroke-linejoin="round" stroke-linecap="round"/>
<path d="M617.0 317.4L624.0 316.4" fill="none" stroke="#55525a" stroke-width="5.0" stroke-linejoin="round" stroke-linecap="round"/>
<path d="M617.0 317.4L624.0 316.4" fill="none" stroke="#fff4f6" stroke-width="3.1" stroke-linejoin="round" stroke-linecap="round"/>
<path d="M635.0 312.6L644.0 311.0" fill="none" stroke="#55525a" stroke-width="4.3" stroke-linejoin="round" stroke-linecap="round"/>
<path d="M635.0 312.6L644.0 311.0" fill="none" stroke="#fff4f6" stroke-width="2.4" stroke-linejoin="round" stroke-linecap="round"/>
<path d="M671.0 312.4L676.0 316.0L682.0 319.0L690.0 323.0L698.0 325.0" fill="none" stroke="#55525a" stroke-width="4.8" stroke-linejoin="round" stroke-linecap="round"/>
<path d="M671.0 312.4L676.0 316.0L682.0 319.0L690.0 323.0L698.0 325.0" fill="none" stroke="#fff4f6" stroke-width="2.9" stroke-linejoin="round" stroke-linecap="round"/>
<path d="M700.0 323.0L705.0 320.0L708.0 323.0L705.0 328.0L700.0 327.0" fill="none" stroke="#55525a" stroke-width="7.9" stroke-linejoin="round" stroke-linecap="round"/>
<path d="M700.0 323.0L705.0 320.0L708.0 323.0L705.0 328.0L700.0 327.0" fill="none" stroke="#ffd6d8" stroke-width="6.0" stroke-linejoin="round" stroke-linecap="round"/>
<path d="M708.0 326.4L716.0 324.4L724.0 322.0L736.0 319.2" fill="none" stroke="#55525a" stroke-width="4.5" stroke-linejoin="round" stroke-linecap="round"/>
<path d="M708.0 326.4L716.0 324.4L724.0 322.0L736.0 319.2" fill="none" stroke="#fff4f6" stroke-width="2.6" stroke-linejoin="round" stroke-linecap="round"/>
<path d="M704.0 330.0L708.0 338.0L712.0 346.0L718.0 353.0L724.0 356.0L736.0 356.0" fill="none" stroke="#55525a" stroke-width="4.5" stroke-linejoin="round" stroke-linecap="round"/>
<path d="M704.0 330.0L708.0 338.0L712.0 346.0L718.0 353.0L724.0 356.0L736.0 356.0" fill="none" stroke="#ffeef0" stroke-width="2.6" stroke-linejoin="round" stroke-linecap="round"/>
<path d="M579.0 339.0L587.0 339.0" fill="none" stroke="#55525a" stroke-width="3.6" stroke-linejoin="round" stroke-linecap="round"/>
<path d="M579.0 339.0L587.0 339.0" fill="none" stroke="#fff4f6" stroke-width="1.7" stroke-linejoin="round" stroke-linecap="round"/>
<path d="M677.0 223.0L682.0 221.0L687.0 220.0" fill="none" stroke="#55525a" stroke-width="3.8" stroke-linejoin="round" stroke-linecap="round"/>
<path d="M677.0 223.0L682.0 221.0L687.0 220.0" fill="none" stroke="#fff4f6" stroke-width="1.9" stroke-linejoin="round" stroke-linecap="round"/>
<path d="M346.0 272.0L350.0 269.6L355.0 270.4L361.0 269.0L368.4 268.0" fill="none" stroke="#55525a" stroke-width="4.3" stroke-linejoin="round" stroke-linecap="round"/>
<path d="M346.0 272.0L350.0 269.6L355.0 270.4L361.0 269.0L368.4 268.0" fill="none" stroke="#ffdcdc" stroke-width="2.4" stroke-linejoin="round" stroke-linecap="round"/>
<path d="M369.6 264.0L375.0 264.0" fill="none" stroke="#55525a" stroke-width="3.3" stroke-linejoin="round" stroke-linecap="round"/>
<path d="M369.6 264.0L375.0 264.0" fill="none" stroke="#f0f0ff" stroke-width="1.4" stroke-linejoin="round" stroke-linecap="round"/>
<path d="M323.0 320.0L321.0 326.0L320.0 334.0L322.0 340.0L319.0 346.0L318.0 351.0" fill="none" stroke="#55525a" stroke-width="4.1" stroke-linejoin="round" stroke-linecap="round"/>
<path d="M323.0 320.0L321.0 326.0L320.0 334.0L322.0 340.0L319.0 346.0L318.0 351.0" fill="none" stroke="#ffd8da" stroke-width="2.2" stroke-linejoin="round" stroke-linecap="round"/>
<path d="M314.0 356.0L318.0 359.0L321.0 362.0L314.0 367.0L308.0 368.0" fill="none" stroke="#55525a" stroke-width="4.5" stroke-linejoin="round" stroke-linecap="round"/>
<path d="M314.0 356.0L318.0 359.0L321.0 362.0L314.0 367.0L308.0 368.0" fill="none" stroke="#fbf4ff" stroke-width="2.6" stroke-linejoin="round" stroke-linecap="round"/>
<path d="M339.0 485.6L343.0 483.0L347.0 476.0L351.0 471.0" fill="none" stroke="#55525a" stroke-width="3.8" stroke-linejoin="round" stroke-linecap="round"/>
<path d="M339.0 485.6L343.0 483.0L347.0 476.0L351.0 471.0" fill="none" stroke="#ffe8ea" stroke-width="1.9" stroke-linejoin="round" stroke-linecap="round"/>
<path d="M389.0 495.0L394.0 493.0" fill="none" stroke="#55525a" stroke-width="3.6" stroke-linejoin="round" stroke-linecap="round"/>
<path d="M389.0 495.0L394.0 493.0" fill="none" stroke="#fff4f6" stroke-width="1.7" stroke-linejoin="round" stroke-linecap="round"/>
<path d="M396.4 481.6L399.0 478.0" fill="none" stroke="#55525a" stroke-width="3.3" stroke-linejoin="round" stroke-linecap="round"/>
<path d="M396.4 481.6L399.0 478.0" fill="none" stroke="#fff4f6" stroke-width="1.4" stroke-linejoin="round" stroke-linecap="round"/>
<path d="M486.4 320.4L487.2 317.2L495.0 314.0" fill="none" stroke="#55525a" stroke-width="3.5" stroke-linejoin="round" stroke-linecap="round"/>
<path d="M486.4 320.4L487.2 317.2L495.0 314.0" fill="none" stroke="#fff4f6" stroke-width="1.6" stroke-linejoin="round" stroke-linecap="round"/>
<path d="M481.4 326.8L483.2 324.8" fill="none" stroke="#55525a" stroke-width="3.5" stroke-linejoin="round" stroke-linecap="round"/>
<path d="M481.4 326.8L483.2 324.8" fill="none" stroke="#fff4f6" stroke-width="1.6" stroke-linejoin="round" stroke-linecap="round"/>
<path d="M472.4 343.2L477.0 341.2L480.0 336.4" fill="none" stroke="#55525a" stroke-width="4.1" stroke-linejoin="round" stroke-linecap="round"/>
<path d="M472.4 343.2L477.0 341.2L480.0 336.4" fill="none" stroke="#ffdcde" stroke-width="2.2" stroke-linejoin="round" stroke-linecap="round"/>
<path d="M474.4 346.4L477.0 354.0L482.0 362.0L490.0 368.0" fill="none" stroke="#55525a" stroke-width="4.1" stroke-linejoin="round" stroke-linecap="round"/>
<path d="M474.4 346.4L477.0 354.0L482.0 362.0L490.0 368.0" fill="none" stroke="#ffe4e6" stroke-width="2.2" stroke-linejoin="round" stroke-linecap="round"/>
<path d="M593.0 70.0C593.2 69.5 594.6 70.7 595.6 72.0C596.6 73.3 597.9 75.8 599.0 78.0C600.1 80.2 602.1 83.5 602.4 85.0C602.7 86.5 601.7 87.5 601.0 87.0C600.3 86.5 599.1 84.0 598.0 82.0C596.9 80.0 595.2 77.0 594.4 75.0C593.6 73.0 592.8 70.5 593.0 70.0Z" fill="none" stroke="#3e3c3e" stroke-width="0.95" stroke-opacity="0.85"/>
<ellipse cx="727" cy="499" rx="3" ry="1.6" fill="none" stroke="#4a484a" stroke-width="0.7"/>
<ellipse cx="697.6" cy="123.4" rx="3.6" ry="1.5" fill="#c8c6cc" stroke="#454344" stroke-width="1.3"/>
<ellipse cx="696.6" cy="127.8" rx="3.0" ry="1.5" fill="#555355" stroke="#454344" stroke-width="1.0"/>
<path d="M520.0 190.0C520.5 189.0 522.3 187.0 524.0 186.0C525.7 185.0 528.8 183.8 530.0 184.0C531.2 184.2 531.7 185.8 531.0 187.0C530.3 188.2 527.7 190.2 526.0 191.0C524.3 191.8 522.0 192.2 521.0 192.0C520.0 191.8 519.5 191.0 520.0 190.0Z" fill="none" stroke="#3e3c3e" stroke-width="0.95" stroke-opacity="0.85"/>
<path d="M489.0 203.0C489.2 202.3 492.8 200.6 495.0 200.0C497.2 199.4 501.2 199.1 502.0 199.6C502.8 200.1 501.3 202.2 500.0 203.0C498.7 203.8 495.8 204.4 494.0 204.4C492.2 204.4 488.8 203.7 489.0 203.0Z" fill="none" stroke="#3e3c3e" stroke-width="0.95" stroke-opacity="0.85"/>
<path d="M530.0 206.0C530.0 205.3 532.8 204.3 534.0 204.4C535.2 204.5 537.0 205.7 537.0 206.4C537.0 207.1 535.2 208.5 534.0 208.4C532.8 208.3 530.0 206.7 530.0 206.0Z" fill="none" stroke="#3e3c3e" stroke-width="0.95" stroke-opacity="0.85"/>
<path d="M457.6 217.6L461.0 217.6L461.0 221.0L457.6 221.0Z" fill="none" stroke="#3e3c3e" stroke-width="0.95" stroke-opacity="0.85"/>
<path d="M444.4 233.0L448.0 233.0L448.0 237.0L444.4 237.0Z" fill="none" stroke="#3e3c3e" stroke-width="0.95" stroke-opacity="0.85"/>
<path d="M212.0 338.0C212.7 337.2 213.8 335.8 215.0 336.0C216.2 336.2 218.5 337.8 219.0 339.0C219.5 340.2 218.8 342.2 218.0 343.0C217.2 343.8 215.2 344.3 214.0 344.0C212.8 343.7 211.3 342.0 211.0 341.0C210.7 340.0 211.3 338.8 212.0 338.0Z" fill="none" stroke="#3e3c3e" stroke-width="0.95" stroke-opacity="0.85"/>
<path d="M269.0 343.0C269.3 341.7 271.0 340.7 272.0 341.0C273.0 341.3 274.7 343.7 275.0 345.0C275.3 346.3 274.8 348.3 274.0 349.0C273.2 349.7 270.8 350.0 270.0 349.0C269.2 348.0 268.7 344.3 269.0 343.0Z" fill="none" stroke="#3e3c3e" stroke-width="0.95" stroke-opacity="0.85"/>
<path d="M213.6 321.0C213.7 320.2 215.3 319.4 216.0 319.6C216.7 319.8 217.7 321.2 217.6 322.0C217.5 322.8 216.3 324.6 215.6 324.4C214.9 324.2 213.5 321.8 213.6 321.0Z" fill="none" stroke="#3e3c3e" stroke-width="0.95" stroke-opacity="0.85"/>
<path d="M373.0 430.0C373.5 429.7 374.5 428.7 376.0 428.0C377.5 427.3 380.0 426.7 382.0 426.0C384.0 425.3 386.0 425.0 388.0 424.0C390.0 423.0 392.5 420.2 394.0 420.0C395.5 419.8 396.3 421.7 397.0 423.0C397.7 424.3 397.0 426.7 398.0 428.0C399.0 429.3 402.7 430.2 403.0 431.0C403.3 431.8 401.8 433.0 400.0 433.0C398.2 433.0 394.3 431.2 392.0 431.0C389.7 430.8 388.0 431.3 386.0 432.0C384.0 432.7 381.2 433.7 380.0 435.0C378.8 436.3 378.7 438.7 379.0 440.0C379.3 441.3 382.0 441.8 382.0 443.0C382.0 444.2 379.0 445.5 379.0 447.0C379.0 448.5 382.2 450.7 382.0 452.0C381.8 453.3 379.0 453.7 378.0 455.0C377.0 456.3 376.5 458.2 376.0 460.0C375.5 461.8 375.5 464.3 375.0 466.0C374.5 467.7 373.3 469.3 373.0 470.0" fill="none" stroke="#3e3c3e" stroke-width="0.95" stroke-opacity="0.85"/>
<path d="M350.0 411.0C351.0 410.8 352.9 410.8 353.6 411.6C354.3 412.4 354.8 414.5 354.4 415.6C354.0 416.7 352.1 417.9 351.0 418.0C349.9 418.1 348.6 416.8 348.0 416.0C347.4 415.2 347.3 413.8 347.6 413.0C347.9 412.2 349.0 411.2 350.0 411.0Z" fill="none" stroke="#3e3c3e" stroke-width="0.95" stroke-opacity="0.85"/>
<path d="M471.0 336.0C471.0 335.1 472.8 332.8 474.0 332.0C475.2 331.2 477.4 330.6 478.0 331.0C478.6 331.4 478.3 333.3 477.6 334.4C476.9 335.5 475.1 337.3 474.0 337.6C472.9 337.9 471.0 336.9 471.0 336.0Z" fill="none" stroke="#3e3c3e" stroke-width="0.95" stroke-opacity="0.85"/>
<path d="M467.0 389.0C467.5 388.3 469.8 387.4 471.0 387.6C472.2 387.8 474.2 389.2 474.4 390.0C474.6 390.8 473.1 392.1 472.0 392.4C470.9 392.7 468.8 392.6 468.0 392.0C467.2 391.4 466.5 389.7 467.0 389.0Z" fill="none" stroke="#3e3c3e" stroke-width="0.95" stroke-opacity="0.85"/>
<path d="M285.0 57.0C285.2 57.8 284.7 60.0 286.0 62.0C287.3 64.0 290.7 68.0 293.0 69.0C295.3 70.0 297.5 68.7 300.0 68.0C302.5 67.3 305.3 65.7 308.0 65.0C310.7 64.3 313.0 63.7 316.0 64.0C319.0 64.3 322.7 66.7 326.0 67.0C329.3 67.3 333.0 66.0 336.0 66.0C339.0 66.0 341.3 67.2 344.0 67.0C346.7 66.8 349.3 65.5 352.0 65.0C354.7 64.5 356.7 64.3 360.0 64.0C363.3 63.7 370.0 63.2 372.0 63.0" fill="none" stroke="#3e3c3e" stroke-width="0.95" stroke-opacity="0.85"/>
<path d="M304.0 78.0C305.3 77.7 308.7 76.5 312.0 76.0C315.3 75.5 320.7 75.0 324.0 75.0C327.3 75.0 329.3 76.2 332.0 76.0C334.7 75.8 337.0 74.2 340.0 74.0C343.0 73.8 346.7 74.7 350.0 75.0C353.3 75.3 357.0 76.2 360.0 76.0C363.0 75.8 366.2 75.3 368.0 74.0C369.8 72.7 370.3 69.7 371.0 68.0C371.7 66.3 371.8 64.7 372.0 64.0" fill="none" stroke="#3e3c3e" stroke-width="0.95" stroke-opacity="0.85"/>
<path d="M356.0 86.0C355.5 87.2 354.0 90.7 353.0 93.0C352.0 95.3 349.2 98.2 350.0 100.0C350.8 101.8 355.7 102.3 358.0 104.0C360.3 105.7 362.2 110.0 364.0 110.0C365.8 110.0 367.7 106.3 369.0 104.0C370.3 101.7 371.5 97.3 372.0 96.0" fill="none" stroke="#3e3c3e" stroke-width="0.95" stroke-opacity="0.85"/>
<path d="M308.0 186.0C308.3 184.7 309.0 180.7 310.0 178.0C311.0 175.3 313.7 172.7 314.0 170.0C314.3 167.3 313.0 164.7 312.0 162.0C311.0 159.3 308.5 156.3 308.0 154.0C307.5 151.7 308.0 149.3 309.0 148.0C310.0 146.7 312.2 146.0 314.0 146.0C315.8 146.0 318.3 148.0 320.0 148.0C321.7 148.0 322.3 145.0 324.0 146.0C325.7 147.0 328.0 153.0 330.0 154.0C332.0 155.0 334.8 153.8 336.0 152.0C337.2 150.2 336.6 144.3 337.0 143.0C337.4 141.7 338.2 142.2 338.4 144.0C338.6 145.8 337.4 151.7 338.0 154.0C338.6 156.3 340.0 158.3 342.0 158.0C344.0 157.7 347.3 153.7 350.0 152.0C352.7 150.3 356.3 148.3 358.0 148.0C359.7 147.7 361.0 148.7 360.0 150.0C359.0 151.3 354.7 154.3 352.0 156.0C349.3 157.7 344.3 159.0 344.0 160.0C343.7 161.0 347.3 162.2 350.0 162.0C352.7 161.8 356.3 159.7 360.0 159.0C363.7 158.3 370.0 158.2 372.0 158.0" fill="none" stroke="#3e3c3e" stroke-width="0.95" stroke-opacity="0.85"/>
<path d="M316.0 190.0C316.3 188.7 316.7 184.0 318.0 182.0C319.3 180.0 321.7 179.3 324.0 178.0C326.3 176.7 329.3 175.3 332.0 174.0C334.7 172.7 337.3 171.0 340.0 170.0C342.7 169.0 345.3 169.0 348.0 168.0C350.7 167.0 353.3 165.2 356.0 164.0C358.7 162.8 361.3 161.7 364.0 161.0C366.7 160.3 370.7 160.2 372.0 160.0" fill="none" stroke="#3e3c3e" stroke-width="0.95" stroke-opacity="0.85"/>
<path d="M341.0 134.0C341.4 133.2 344.2 132.5 345.0 133.0C345.8 133.5 346.4 136.2 346.0 137.0C345.6 137.8 343.2 138.5 342.4 138.0C341.6 137.5 340.6 134.8 341.0 134.0Z" fill="none" stroke="#3e3c3e" stroke-width="0.95" stroke-opacity="0.85"/>
<path d="M293.0 164.0C293.5 163.0 296.2 162.3 297.0 163.0C297.8 163.7 298.5 167.0 298.0 168.0C297.5 169.0 294.8 169.7 294.0 169.0C293.2 168.3 292.5 165.0 293.0 164.0Z" fill="none" stroke="#3e3c3e" stroke-width="0.95" stroke-opacity="0.85"/>
<path d="M402.0 58.0C403.3 59.0 407.0 62.2 410.0 64.0C413.0 65.8 416.0 68.0 420.0 69.0C424.0 70.0 429.7 70.0 434.0 70.0C438.3 70.0 442.0 69.2 446.0 69.0C450.0 68.8 456.0 67.8 458.0 69.0C460.0 70.2 457.0 75.5 458.0 76.0C459.0 76.5 462.0 72.7 464.0 72.0C466.0 71.3 468.7 71.0 470.0 72.0C471.3 73.0 472.3 75.3 472.0 78.0C471.7 80.7 469.3 85.7 468.0 88.0C466.7 90.3 466.0 91.2 464.0 92.0C462.0 92.8 457.3 92.8 456.0 93.0" fill="none" stroke="#3e3c3e" stroke-width="0.95" stroke-opacity="0.85"/>
<path d="M374.0 96.0C375.0 96.7 378.3 98.3 380.0 100.0C381.7 101.7 382.0 105.0 384.0 106.0C386.0 107.0 389.3 106.7 392.0 106.0C394.7 105.3 397.7 103.5 400.0 102.0C402.3 100.5 404.0 99.0 406.0 97.0C408.0 95.0 410.3 92.0 412.0 90.0C413.7 88.0 415.7 84.5 416.0 85.0C416.3 85.5 413.3 91.2 414.0 93.0C414.7 94.8 418.0 96.2 420.0 96.0C422.0 95.8 424.3 92.5 426.0 92.0C427.7 91.5 429.7 92.0 430.0 93.0C430.3 94.0 430.0 96.8 428.0 98.0C426.0 99.2 421.0 99.0 418.0 100.0C415.0 101.0 412.3 102.5 410.0 104.0C407.7 105.5 405.0 108.2 404.0 109.0" fill="none" stroke="#3e3c3e" stroke-width="0.95" stroke-opacity="0.85"/>
<path d="M394.0 77.0C394.7 76.2 397.8 74.8 400.0 75.0C402.2 75.2 406.7 77.0 407.0 78.0C407.3 79.0 403.8 80.7 402.0 81.0C400.2 81.3 397.3 80.7 396.0 80.0C394.7 79.3 393.3 77.8 394.0 77.0Z" fill="none" stroke="#3e3c3e" stroke-width="0.95" stroke-opacity="0.85"/>
<path d="M532.0 66.0C531.3 67.0 530.3 70.5 528.0 72.0C525.7 73.5 521.0 74.7 518.0 75.0C515.0 75.3 513.0 73.2 510.0 74.0C507.0 74.8 503.0 79.7 500.0 80.0C497.0 80.3 494.0 75.7 492.0 76.0C490.0 76.3 489.0 80.0 488.0 82.0C487.0 84.0 487.7 85.7 486.0 88.0C484.3 90.3 480.3 94.0 478.0 96.0C475.7 98.0 473.0 99.3 472.0 100.0" fill="none" stroke="#3e3c3e" stroke-width="0.95" stroke-opacity="0.85"/>
<path d="M522.0 86.0C522.7 85.8 524.7 86.0 526.0 85.0C527.3 84.0 528.3 81.2 530.0 80.0C531.7 78.8 533.7 78.0 536.0 78.0C538.3 78.0 541.7 79.0 544.0 80.0C546.3 81.0 549.0 83.3 550.0 84.0" fill="none" stroke="#3e3c3e" stroke-width="0.95" stroke-opacity="0.85"/>
<path d="M352.0 300.0C353.3 299.0 357.3 295.7 360.0 294.0C362.7 292.3 365.3 291.7 368.0 290.0C370.7 288.3 374.0 286.0 376.0 284.0C378.0 282.0 378.0 279.7 380.0 278.0C382.0 276.3 384.7 275.0 388.0 274.0C391.3 273.0 396.3 272.0 400.0 272.0C403.7 272.0 406.7 274.0 410.0 274.0C413.3 274.0 417.0 273.0 420.0 272.0C423.0 271.0 426.7 268.7 428.0 268.0" fill="none" stroke="#3e3c3e" stroke-width="0.95" stroke-opacity="0.85"/>
<path d="M346.0 310.0C347.3 309.3 351.3 306.3 354.0 306.0C356.7 305.7 359.3 308.3 362.0 308.0C364.7 307.7 368.0 303.7 370.0 304.0C372.0 304.3 372.3 308.7 374.0 310.0C375.7 311.3 378.0 312.3 380.0 312.0C382.0 311.7 385.0 308.7 386.0 308.0" fill="none" stroke="#3e3c3e" stroke-width="0.95" stroke-opacity="0.85"/>
<path d="M551.0 548.0C551.2 546.6 553.2 544.4 555.0 543.0C556.8 541.6 560.1 540.1 562.0 539.6C563.9 539.1 565.9 539.1 566.4 540.0C566.9 540.9 566.1 543.5 565.0 545.0C563.9 546.5 561.8 547.9 560.0 549.0C558.2 550.1 555.5 551.8 554.0 551.6C552.5 551.4 550.8 549.4 551.0 548.0Z" fill="none" stroke="#000" stroke-width="1.4" stroke-linejoin="round" stroke-linecap="round"/>
<path d="M561.0 566.0C561.5 565.0 563.5 563.5 565.0 563.0C566.5 562.5 569.2 562.4 570.0 563.0C570.8 563.6 570.7 565.4 570.0 566.4C569.3 567.4 567.3 568.6 566.0 569.0C564.7 569.4 562.8 569.5 562.0 569.0C561.2 568.5 560.5 567.0 561.0 566.0Z" fill="none" stroke="#000" stroke-width="1.4" stroke-linejoin="round" stroke-linecap="round"/>
<path d="M136.0 56.0C139.7 56.5 153.7 58.3 158.0 59.0C162.3 59.7 160.7 59.0 162.0 60.0C163.3 61.0 165.5 63.0 166.0 65.0C166.5 67.0 164.5 69.5 165.0 72.0C165.5 74.5 166.5 77.2 169.0 80.0C171.5 82.8 176.8 87.3 180.0 89.0C183.2 90.7 185.8 90.2 188.0 90.0C190.2 89.8 191.3 87.6 193.0 87.6C194.7 87.6 193.8 89.4 198.0 90.0C202.2 90.6 214.9 89.3 218.0 91.0C221.1 92.7 215.9 97.7 216.6 100.0C217.3 102.3 219.8 103.0 222.0 105.0C224.2 107.0 228.1 109.8 230.0 112.0C231.9 114.2 233.4 115.7 233.6 118.0C233.8 120.3 231.4 122.7 231.0 126.0C230.6 129.3 230.6 134.7 231.0 138.0C231.4 141.3 231.4 145.3 233.6 146.0C235.8 146.7 240.6 142.4 244.0 142.4C247.4 142.4 251.3 144.1 254.0 146.0C256.7 147.9 258.0 150.7 260.0 154.0C262.0 157.3 264.0 162.3 266.0 166.0C268.0 169.7 270.2 172.8 272.0 176.0C273.8 179.2 275.8 182.8 277.0 185.0C278.2 187.2 277.8 187.7 279.0 189.0C280.2 190.3 282.2 192.5 284.0 193.0C285.8 193.5 288.2 192.0 290.0 192.0C291.8 192.0 293.7 191.7 295.0 193.0C296.3 194.3 296.5 197.2 298.0 200.0C299.5 202.8 302.0 207.2 304.0 210.0C306.0 212.8 308.0 215.0 310.0 217.0C312.0 219.0 314.3 221.5 316.0 222.0C317.7 222.5 318.3 221.0 320.0 220.0C321.7 219.0 324.0 217.2 326.0 216.0C328.0 214.8 329.7 213.8 332.0 213.0C334.3 212.2 337.3 211.6 340.0 211.0C342.7 210.4 346.7 209.8 348.0 209.6" fill="none" stroke="#000" stroke-width="1.4" stroke-linejoin="round" stroke-linecap="round"/>
<path d="M408.0 189.0C409.0 188.8 412.0 188.6 414.0 188.0C416.0 187.4 418.0 185.8 420.0 185.6C422.0 185.4 423.8 187.8 426.0 187.0C428.2 186.2 430.9 183.0 433.0 181.0C435.1 179.0 437.7 176.4 438.4 175.0C439.1 173.6 439.1 172.9 437.0 172.6C434.9 172.3 430.5 172.8 426.0 173.0C421.5 173.2 415.0 174.1 410.0 174.0C405.0 173.9 399.2 173.1 396.0 172.6C392.8 172.1 391.7 171.5 391.0 171.0C390.3 170.5 389.8 170.3 392.0 169.6C394.2 168.9 400.0 168.1 404.0 167.0C408.0 165.9 412.0 164.7 416.0 163.0C420.0 161.3 424.0 159.2 428.0 157.0C432.0 154.8 436.3 152.2 440.0 150.0C443.7 147.8 446.7 146.2 450.0 144.0C453.3 141.8 456.7 139.3 460.0 137.0C463.3 134.7 467.3 131.8 470.0 130.0C472.7 128.2 474.3 126.8 476.0 126.0C477.7 125.2 479.2 124.8 480.0 125.0C480.8 125.2 481.7 126.2 481.0 127.0C480.3 127.8 478.2 128.5 476.0 130.0C473.8 131.5 470.7 133.7 468.0 136.0C465.3 138.3 462.3 141.7 460.0 144.0C457.7 146.3 455.5 148.0 454.0 150.0C452.5 152.0 451.9 154.1 451.0 156.0C450.1 157.9 449.0 160.3 448.6 161.2" fill="none" stroke="#000" stroke-width="1.4" stroke-linejoin="round" stroke-linecap="round"/>
<path d="M339.0 220.0C339.2 218.5 341.5 216.8 344.0 216.0C346.5 215.2 350.3 215.4 354.0 215.0C357.7 214.6 362.0 214.2 366.0 213.6C370.0 213.0 375.0 211.7 378.0 211.6C381.0 211.5 382.8 212.1 384.0 213.0C385.2 213.9 385.5 215.5 385.0 217.0C384.5 218.5 382.8 220.6 381.0 222.0C379.2 223.4 376.8 224.8 374.0 225.6C371.2 226.4 367.7 226.5 364.0 226.6C360.3 226.7 355.5 226.7 352.0 226.4C348.5 226.1 345.2 226.1 343.0 225.0C340.8 223.9 338.8 221.5 339.0 220.0Z" fill="none" stroke="#000" stroke-width="1.4" stroke-linejoin="round" stroke-linecap="round"/>
<path d="M392.0 209.0C392.1 207.9 393.7 206.6 395.0 206.0C396.3 205.4 398.8 205.2 400.0 205.6C401.2 206.0 402.1 207.4 402.0 208.4C401.9 209.4 400.9 210.9 399.6 211.6C398.3 212.3 395.7 212.8 394.4 212.4C393.1 212.0 391.9 210.1 392.0 209.0Z" fill="none" stroke="#000" stroke-width="1.4" stroke-linejoin="round" stroke-linecap="round"/>
<path d="M286.0 248.0C285.8 246.5 287.0 243.7 288.0 242.0C289.0 240.3 290.7 238.7 292.0 238.0C293.3 237.3 295.1 236.9 295.6 237.6C296.1 238.3 295.6 240.3 295.0 242.0C294.4 243.7 293.0 246.5 292.0 248.0C291.0 249.5 290.0 251.0 289.0 251.0C288.0 251.0 286.2 249.5 286.0 248.0Z" fill="none" stroke="#000" stroke-width="1.4" stroke-linejoin="round" stroke-linecap="round"/>
<path d="M392.0 209.6C392.0 208.7 393.0 207.6 394.0 207.0C395.0 206.4 396.7 205.8 398.0 206.0C399.3 206.2 401.0 207.2 401.6 208.0C402.2 208.8 402.2 210.2 401.6 211.0C401.0 211.8 399.3 212.7 398.0 213.0C396.7 213.3 395.0 213.2 394.0 212.6C393.0 212.0 392.0 210.5 392.0 209.6Z" fill="none" stroke="#000" stroke-width="1.4" stroke-linejoin="round" stroke-linecap="round"/>
<path d="M446.0 180.0C445.7 181.0 445.3 184.0 444.0 186.0C442.7 188.0 440.3 190.0 438.0 192.0C435.7 194.0 433.0 196.0 430.0 198.0C427.0 200.0 423.0 202.0 420.0 204.0C417.0 206.0 414.3 207.7 412.0 210.0C409.7 212.3 408.0 215.7 406.0 218.0C404.0 220.3 402.0 222.0 400.0 224.0C398.0 226.0 396.3 229.2 394.0 230.0C391.7 230.8 388.7 229.0 386.0 229.0C383.3 229.0 380.7 229.8 378.0 230.0C375.3 230.2 372.7 230.1 370.0 230.4C367.3 230.7 365.0 231.2 362.0 232.0C359.0 232.8 354.8 234.2 352.0 235.0C349.2 235.8 347.0 236.2 345.0 237.0C343.0 237.8 341.7 238.8 340.0 240.0C338.3 241.2 336.8 242.8 335.0 244.0C333.2 245.2 330.8 246.0 329.0 247.0C327.2 248.0 325.5 248.8 324.0 250.0C322.5 251.2 321.3 252.3 320.0 254.0C318.7 255.7 317.0 258.2 316.0 260.0C315.0 261.8 314.7 265.0 314.0 265.0C313.3 265.0 312.7 261.2 312.0 260.0C311.3 258.8 311.0 257.3 310.0 258.0C309.0 258.7 307.3 261.8 306.0 264.0C304.7 266.2 303.7 268.7 302.0 271.0C300.3 273.3 298.0 275.8 296.0 278.0C294.0 280.2 291.2 281.7 290.0 284.0C288.8 286.3 289.2 289.0 289.0 292.0C288.8 295.0 288.5 298.7 289.0 302.0C289.5 305.3 290.2 309.0 292.0 312.0C293.8 315.0 297.3 318.0 300.0 320.0C302.7 322.0 306.0 322.3 308.0 324.0C310.0 325.7 311.2 327.3 312.0 330.0C312.8 332.7 312.3 336.7 313.0 340.0C313.7 343.3 314.8 348.0 316.0 350.0C317.2 352.0 318.7 352.7 320.0 352.0C321.3 351.3 322.5 348.3 324.0 346.0C325.5 343.7 327.7 340.7 329.0 338.0C330.3 335.3 331.0 332.3 332.0 330.0C333.0 327.7 333.7 326.0 335.0 324.0C336.3 322.0 338.2 318.5 340.0 318.0C341.8 317.5 344.0 321.0 346.0 321.0C348.0 321.0 350.2 319.3 352.0 318.0C353.8 316.7 355.3 314.7 357.0 313.0C358.7 311.3 360.3 309.8 362.0 308.0C363.7 306.2 365.3 304.0 367.0 302.0C368.7 300.0 370.2 298.0 372.0 296.0C373.8 294.0 376.0 291.5 378.0 290.0C380.0 288.5 382.2 287.3 384.0 287.0C385.8 286.7 388.3 287.0 389.0 288.0C389.7 289.0 388.7 291.2 388.0 293.0C387.3 294.8 386.2 297.3 385.0 299.0C383.8 300.7 381.3 301.7 381.0 303.0C380.7 304.3 381.7 306.8 383.0 307.0C384.3 307.2 387.5 304.3 389.0 304.0C390.5 303.7 391.2 303.7 392.0 305.0C392.8 306.3 393.7 309.5 394.0 312.0C394.3 314.5 394.0 318.7 394.0 320.0" fill="none" stroke="#000" stroke-width="1.4" stroke-linejoin="round" stroke-linecap="round"/>
<path d="M373.0 274.4C372.4 274.7 370.4 275.2 369.6 276.0C368.8 276.8 368.0 278.1 368.0 279.0C368.0 279.9 368.9 281.3 369.6 281.2C370.3 281.1 371.9 278.9 372.4 278.4" fill="none" stroke="#000" stroke-width="1.4" stroke-linejoin="round" stroke-linecap="round"/>
<path d="M374.0 294.0C375.0 293.3 378.0 291.2 380.0 290.0C382.0 288.8 384.3 287.3 386.0 287.0C387.7 286.7 389.7 287.2 390.0 288.0C390.3 288.8 389.0 290.7 388.0 292.0C387.0 293.3 385.3 294.7 384.0 296.0C382.7 297.3 380.7 299.3 380.0 300.0" fill="none" stroke="#000" stroke-width="1.4" stroke-linejoin="round" stroke-linecap="round"/>
<path d="M353.0 344.0C353.7 343.5 355.2 343.2 356.0 343.6C356.8 344.0 357.9 345.5 358.0 346.4C358.1 347.3 357.2 348.8 356.4 349.2C355.6 349.6 353.9 349.3 353.2 348.8C352.5 348.3 352.0 347.2 352.0 346.4C352.0 345.6 352.3 344.5 353.0 344.0Z" fill="none" stroke="#000" stroke-width="1.2" stroke-linejoin="round" stroke-linecap="round"/>
<path d="M406.4 390.0C406.7 389.5 407.8 389.4 408.4 389.6C409.0 389.8 410.0 390.8 410.0 391.4C410.0 392.0 409.0 392.8 408.4 393.0C407.8 393.2 406.9 392.9 406.6 392.4C406.3 391.9 406.1 390.5 406.4 390.0Z" fill="none" stroke="#000" stroke-width="1.2" stroke-linejoin="round" stroke-linecap="round"/>
<path d="M368.0 280.0C368.3 279.5 369.3 277.8 370.0 277.0C370.7 276.2 372.1 274.8 372.4 275.0C372.7 275.2 372.4 277.2 372.0 278.0C371.6 278.8 370.3 279.7 370.0 280.0" fill="none" stroke="#000" stroke-width="1.1" stroke-linejoin="round" stroke-linecap="round"/>
<path d="M431.0 379.0C431.2 379.2 431.2 379.2 432.0 380.0C432.8 380.8 435.2 382.0 436.0 384.0C436.8 386.0 436.7 389.7 437.0 392.0C437.3 394.3 437.0 396.0 438.0 398.0C439.0 400.0 441.0 402.2 443.0 404.0C445.0 405.8 447.8 407.3 450.0 409.0C452.2 410.7 454.3 412.2 456.0 414.0C457.7 415.8 458.8 417.7 460.0 420.0C461.2 422.3 462.3 425.3 463.0 428.0C463.7 430.7 463.3 433.7 464.0 436.0C464.7 438.3 465.3 440.3 467.0 442.0C468.7 443.7 472.0 444.7 474.0 446.0C476.0 447.3 478.3 448.2 479.0 450.0C479.7 451.8 478.8 455.0 478.0 457.0C477.2 459.0 475.5 460.2 474.0 462.0C472.5 463.8 470.7 466.2 469.0 468.0C467.3 469.8 464.0 471.8 464.0 473.0C464.0 474.2 467.2 475.0 469.0 475.0C470.8 475.0 473.2 473.2 475.0 473.0C476.8 472.8 479.3 472.8 480.0 474.0C480.7 475.2 478.3 478.3 479.0 480.0C479.7 481.7 482.2 482.5 484.0 484.0C485.8 485.5 488.3 487.0 490.0 489.0C491.7 491.0 493.0 493.5 494.0 496.0C495.0 498.5 495.5 501.7 496.0 504.0C496.5 506.3 496.3 508.0 497.0 510.0C497.7 512.0 499.0 514.3 500.0 516.0C501.0 517.7 501.9 519.1 503.0 520.0C504.1 520.9 503.8 520.6 506.7 521.7C509.5 522.8 515.6 526.1 520.0 526.7C524.4 527.2 530.0 525.8 533.3 525.0C536.7 524.2 537.8 521.9 540.0 521.7C542.2 521.4 544.7 521.9 546.7 523.3C548.6 524.7 550.0 528.3 551.7 530.0C553.3 531.7 554.2 533.1 556.7 533.3C559.2 533.6 563.9 533.6 566.7 531.7C569.4 529.7 570.6 524.2 573.3 521.7C576.1 519.2 581.1 517.4 583.3 516.7C585.6 515.9 586.1 515.9 587.0 517.0C587.9 518.1 588.5 521.0 589.0 523.0C589.5 525.0 588.5 528.2 590.0 529.0C591.5 529.8 595.3 529.5 598.0 528.0C600.7 526.5 603.8 523.0 606.0 520.0C608.2 517.0 609.3 513.2 611.0 510.0C612.7 506.8 614.5 502.8 616.0 501.0C617.5 499.2 618.8 498.2 620.0 499.0C621.2 499.8 622.3 503.5 623.0 506.0C623.7 508.5 624.3 511.0 624.0 514.0C623.7 517.0 622.2 521.0 621.0 524.0C619.8 527.0 618.5 529.7 617.0 532.0C615.5 534.3 613.7 536.5 612.0 538.0C610.3 539.5 607.8 539.3 607.0 541.0C606.2 542.7 606.6 545.2 607.0 548.0C607.4 550.8 608.8 555.0 609.6 558.0C610.4 561.0 610.6 563.3 612.0 566.0C613.4 568.7 615.7 571.3 618.0 574.0C620.3 576.7 623.3 579.5 626.0 582.0C628.7 584.5 631.7 587.0 634.0 589.0C636.3 591.0 638.3 592.8 640.0 594.0C641.7 595.2 642.5 596.3 644.0 596.0C645.5 595.7 647.5 593.7 649.0 592.0C650.5 590.3 651.8 588.3 653.0 586.0C654.2 583.7 655.2 580.7 656.0 578.0C656.8 575.3 657.4 572.3 658.0 570.0C658.6 567.7 658.3 564.7 659.6 564.0C660.9 563.3 663.9 565.3 666.0 566.0C668.1 566.7 670.2 566.8 672.0 568.0C673.8 569.2 675.7 571.0 677.0 573.0C678.3 575.0 679.0 577.2 680.0 580.0C681.0 582.8 682.0 586.7 683.0 590.0C684.0 593.3 685.0 596.7 686.0 600.0C687.0 603.3 688.3 606.7 689.0 610.0C689.7 613.3 689.8 618.3 690.0 620.0" fill="none" stroke="#000" stroke-width="1.4" stroke-linejoin="round" stroke-linecap="round"/>
<path d="M466.7 389.3C467.0 388.6 468.8 387.3 470.0 387.3C471.2 387.3 473.7 388.6 474.0 389.3C474.3 390.1 472.7 391.6 471.7 392.0C470.7 392.4 468.8 392.4 468.0 392.0C467.2 391.6 466.3 390.1 466.7 389.3Z" fill="none" stroke="#000" stroke-width="1.1" stroke-linejoin="round" stroke-linecap="round"/>
<path d="M654.0 460.0C653.8 458.7 655.0 454.3 656.0 452.0C657.0 449.7 658.3 447.0 660.0 446.0C661.7 445.0 664.3 445.3 666.0 446.0C667.7 446.7 668.8 448.3 670.0 450.0C671.2 451.7 671.3 455.1 673.0 456.0C674.7 456.9 678.0 455.3 680.0 455.6C682.0 455.9 684.0 456.6 685.0 458.0C686.0 459.4 686.5 462.2 686.0 464.0C685.5 465.8 683.7 467.5 682.0 469.0C680.3 470.5 677.8 471.5 676.0 473.0C674.2 474.5 672.3 477.5 671.0 478.0C669.7 478.5 668.2 477.7 668.0 476.0C667.8 474.3 669.8 470.3 670.0 468.0C670.2 465.7 670.0 464.0 669.0 462.0C668.0 460.0 665.5 456.8 664.0 456.0C662.5 455.2 661.2 456.3 660.0 457.0C658.8 457.7 658.0 459.5 657.0 460.0C656.0 460.5 654.2 461.3 654.0 460.0Z" fill="none" stroke="#000" stroke-width="1.4" stroke-linejoin="round" stroke-linecap="round"/>
<path d="M606.7 466.0C606.9 465.1 608.0 463.3 608.7 463.3C609.3 463.3 610.6 465.0 610.7 466.0C610.8 467.0 609.9 468.8 609.3 469.3C608.8 469.8 607.8 469.6 607.3 469.0C606.9 468.4 606.4 466.9 606.7 466.0Z" fill="none" stroke="#000" stroke-width="1.1" stroke-linejoin="round" stroke-linecap="round"/>
<path d="M613.3 475.0C614.1 473.7 616.8 471.9 618.3 471.7C619.9 471.4 622.2 472.2 622.7 473.3C623.2 474.4 622.3 477.1 621.3 478.3C620.3 479.6 617.9 480.5 616.7 480.7C615.4 480.8 614.6 480.3 614.0 479.3C613.4 478.4 612.6 476.3 613.3 475.0Z" fill="none" stroke="#000" stroke-width="1.2" stroke-linejoin="round" stroke-linecap="round"/>
<path d="M550.0 545.0C550.7 543.2 554.2 541.5 556.7 540.7C559.2 539.8 563.3 539.3 565.0 540.0C566.7 540.7 567.5 543.3 566.7 545.0C565.8 546.7 562.3 548.9 560.0 550.0C557.7 551.1 554.3 552.5 552.7 551.7C551.0 550.8 549.3 546.8 550.0 545.0Z" fill="none" stroke="#000" stroke-width="1.4" stroke-linejoin="round" stroke-linecap="round"/>
<path d="M456.0 530.0C456.4 528.8 458.1 526.4 459.3 526.0C460.6 525.6 462.6 526.4 463.3 527.3C464.1 528.3 464.6 530.6 464.0 531.7C463.4 532.8 461.2 533.7 460.0 534.0C458.8 534.3 457.3 534.0 456.7 533.3C456.0 532.7 455.6 531.2 456.0 530.0Z" fill="none" stroke="#000" stroke-width="1.4" stroke-linejoin="round" stroke-linecap="round"/>
<path d="M162.4 181.0C162.6 180.0 163.9 179.3 165.0 179.6C166.1 179.9 167.9 181.5 169.0 183.0C170.1 184.5 171.4 187.1 171.6 188.4C171.8 189.7 171.2 190.8 170.4 191.0C169.6 191.2 168.1 190.5 167.0 189.6C165.9 188.7 164.4 187.0 163.6 185.6C162.8 184.2 162.2 182.0 162.4 181.0Z" fill="none" stroke="#000" stroke-width="1.4" stroke-linejoin="round" stroke-linecap="round"/>
<path d="M185.0 175.6C185.3 174.6 187.2 174.3 188.0 175.0C188.8 175.7 189.8 178.2 190.0 180.0C190.2 181.8 189.6 184.0 189.0 186.0C188.4 188.0 187.3 190.7 186.4 192.0C185.5 193.3 184.3 193.8 183.6 193.6C182.9 193.4 182.2 192.1 182.4 191.0C182.6 189.9 184.4 188.7 185.0 187.0C185.6 185.3 186.0 182.9 186.0 181.0C186.0 179.1 184.7 176.6 185.0 175.6Z" fill="none" stroke="#000" stroke-width="1.4" stroke-linejoin="round" stroke-linecap="round"/>
<path d="M199.0 172.4C199.5 171.2 201.1 171.0 202.0 171.6C202.9 172.2 204.0 174.3 204.4 176.0C204.8 177.7 204.8 180.0 204.4 182.0C204.0 184.0 202.9 186.4 202.0 188.0C201.1 189.6 199.8 191.3 199.0 191.6C198.2 191.9 197.3 191.3 197.0 190.0C196.7 188.7 197.1 185.8 197.4 184.0C197.7 182.2 198.7 180.9 199.0 179.0C199.3 177.1 198.5 173.6 199.0 172.4Z" fill="none" stroke="#000" stroke-width="1.4" stroke-linejoin="round" stroke-linecap="round"/>
<circle cx="194" cy="167" r="1.3" fill="#000"/>
<circle cx="213.6" cy="195" r="0.7" fill="#000"/>
<circle cx="340" cy="96.5" r="1.3" fill="#000"/>
<circle cx="394.5" cy="291" r="0.9" fill="#000"/>
<circle cx="395" cy="291" r="0.9" fill="#000"/>
<text class="t11" text-anchor="middle" transform="translate(383.8 196.8) rotate(-24)">1520.0</text>
<text class="t11" text-anchor="middle" transform="translate(409.5 352.5) rotate(55)">1520.0</text>
<path d="M636.0 618.0C636.5 617.3 637.9 614.3 639.0 613.6C640.1 612.9 641.6 612.9 642.4 613.6C643.2 614.3 643.4 617.3 643.6 618.0" fill="none" stroke="#000" stroke-width="1.4" stroke-linejoin="round" stroke-linecap="round"/>
<path d="M693.0 618.0L696.0 614.6L699.0 618.0" fill="none" stroke="#000" stroke-width="1.4" stroke-linejoin="round" stroke-linecap="round"/>
<path d="M408.0 412.0C408.4 410.3 410.2 410.7 411.0 412.0C411.8 413.3 412.2 417.3 413.0 420.0C413.8 422.7 415.2 425.7 416.0 428.0C416.8 430.3 418.0 432.0 418.0 434.0C418.0 436.0 416.9 439.0 416.0 440.0C415.1 441.0 413.4 441.3 412.4 440.0C411.4 438.7 410.7 435.0 410.0 432.0C409.3 429.0 408.7 425.3 408.4 422.0C408.1 418.7 407.6 413.7 408.0 412.0Z" fill="none" stroke="#000" stroke-width="1.4" stroke-linejoin="round" stroke-linecap="round"/>
<path d="M430.0 423.0C431.0 422.2 432.8 421.2 434.0 422.0C435.2 422.8 436.0 425.8 437.0 428.0C438.0 430.2 439.7 432.8 440.0 435.0C440.3 437.2 439.8 439.5 439.0 441.0C438.2 442.5 436.2 443.2 435.0 444.0C433.8 444.8 433.2 444.8 432.0 446.0C430.8 447.2 429.2 450.8 428.0 451.0C426.8 451.2 425.5 448.8 425.0 447.0C424.5 445.2 424.7 442.5 425.0 440.0C425.3 437.5 426.5 434.2 427.0 432.0C427.5 429.8 427.5 428.5 428.0 427.0C428.5 425.5 429.0 423.8 430.0 423.0Z" fill="none" stroke="#000" stroke-width="1.4" stroke-linejoin="round" stroke-linecap="round"/>
<path d="M458.0 459.0C458.2 457.8 459.7 456.0 461.0 455.0C462.3 454.0 464.8 452.9 466.0 453.0C467.2 453.1 468.2 454.5 468.0 455.6C467.8 456.7 466.3 458.5 465.0 459.6C463.7 460.7 461.2 462.1 460.0 462.0C458.8 461.9 457.8 460.2 458.0 459.0Z" fill="none" stroke="#000" stroke-width="1.4" stroke-linejoin="round" stroke-linecap="round"/>
<path d="M488.0 464.0C488.3 462.3 489.7 459.0 491.0 457.0C492.3 455.0 494.3 453.0 496.0 452.0C497.7 451.0 500.2 450.3 501.0 451.0C501.8 451.7 501.5 454.3 501.0 456.0C500.5 457.7 499.3 459.5 498.0 461.0C496.7 462.5 494.5 464.0 493.0 465.0C491.5 466.0 489.8 467.2 489.0 467.0C488.2 466.8 487.7 465.7 488.0 464.0Z" fill="none" stroke="#000" stroke-width="1.4" stroke-linejoin="round" stroke-linecap="round"/>
<path d="M525.0 470.0C526.3 468.7 529.2 468.2 532.0 468.0C534.8 467.8 539.0 469.0 542.0 469.0C545.0 469.0 547.8 467.7 550.0 468.0C552.2 468.3 554.7 469.3 555.0 471.0C555.3 472.7 553.2 475.5 552.0 478.0C550.8 480.5 549.3 483.3 548.0 486.0C546.7 488.7 545.3 491.7 544.0 494.0C542.7 496.3 541.7 499.0 540.0 500.0C538.3 501.0 535.8 501.0 534.0 500.0C532.2 499.0 530.3 496.7 529.0 494.0C527.7 491.3 526.8 487.0 526.0 484.0C525.2 481.0 524.6 478.3 524.4 476.0C524.2 473.7 523.7 471.3 525.0 470.0Z" fill="none" stroke="#000" stroke-width="1.4" stroke-linejoin="round" stroke-linecap="round"/>
<path d="M517.0 413.0C517.3 412.0 518.8 410.6 519.6 410.4C520.4 410.2 521.8 410.8 522.0 411.6C522.2 412.4 521.7 414.2 521.0 415.0C520.3 415.8 518.7 416.7 518.0 416.4C517.3 416.1 516.7 414.0 517.0 413.0Z" fill="none" stroke="#000" stroke-width="1.3" stroke-linejoin="round" stroke-linecap="round"/>
<path d="M406.4 390.4C406.7 390.0 407.8 389.5 408.4 389.6C409.0 389.7 410.0 390.7 410.0 391.2C410.0 391.7 409.0 392.7 408.4 392.8C407.8 392.9 406.9 392.4 406.6 392.0C406.3 391.6 406.1 390.8 406.4 390.4Z" fill="none" stroke="#000" stroke-width="1.2" stroke-linejoin="round" stroke-linecap="round"/>
<path d="M362.5 380.0C362.9 379.2 364.6 379.1 366.0 379.2C367.4 379.3 369.5 379.9 371.0 380.5C372.5 381.1 373.8 381.7 375.0 382.5C376.2 383.3 377.4 384.2 378.0 385.5C378.6 386.8 378.7 388.6 378.5 390.0C378.3 391.4 377.1 392.7 377.0 394.0C376.9 395.3 378.2 396.8 378.0 398.0C377.8 399.2 376.9 400.5 376.0 401.0C375.1 401.5 373.7 401.5 372.5 401.2C371.3 400.9 370.1 399.9 369.0 399.0C367.9 398.1 366.8 396.8 366.0 395.5C365.2 394.2 364.7 392.8 364.5 391.5C364.3 390.2 365.2 388.8 365.0 387.5C364.8 386.2 363.9 385.2 363.5 384.0C363.1 382.8 362.1 380.8 362.5 380.0Z" fill="none" stroke="#000" stroke-width="1.4" stroke-linejoin="round" stroke-linecap="round"/>
<ellipse cx="401" cy="384.6" rx="1.6" ry="1.1" fill="#000"/>
</g>
<!-- grid -->
<g fill="none" stroke="#000" stroke-width="1.3" clip-path="url(#ax)">
<path d="M161.7 56L153.6 616.2"/>
<path d="M374 56L372.4 616.2"/>
<path d="M586 56L591 616.2"/>
<path d="M108 255Q400 258.9 736 255.5"/>
<path d="M108 504.7Q400 508 736 505"/>
</g>
<path d="M347 385L510 275" stroke="#000" stroke-width="4.4" fill="none"/>
<circle cx="428.4" cy="330.2" r="6.9" fill="#ff0000" stroke="#000" stroke-width="2.8"/>
<rect x="108.3" y="56.1" width="627.1" height="560.0" fill="none" stroke="#000" stroke-width="1.3"/>
<!-- text -->
<text x="423.3" y="48.9" text-anchor="middle" class="t18">Init: 2017-04-30 00:00; Valid: 2017-05-21 03:00</text>
<text x="153.5" y="643.8" text-anchor="middle" class="t20">-9.0</text>
<text x="372.3" y="643.8" text-anchor="middle" class="t20">-8.0</text>
<text x="590.5" y="643.8" text-anchor="middle" class="t20">-7.0</text>
<text x="103.4" y="262.8" text-anchor="end" class="t20">40.0</text>
<text x="103.4" y="513" text-anchor="end" class="t20">39.0</text>
<text x="423.2" y="679.4" text-anchor="middle" class="t22">Longitude (deg)</text>
<text transform="translate(30.3 334.8) rotate(-90)" text-anchor="middle" class="t22">Latitude (deg)</text>
<text transform="translate(879.6 647.9) rotate(-90)" class="t22">Vertical wind speed at 850.0 hPa (m s<tspan dy="-11.5" font-size="21.4px">−1</tspan><tspan dy="11.5" dx="4.2">)</tspan></text>
<rect x="750.4" y="132.60" width="21.0" height="17.36" fill="#ff1414"/>
<rect x="750.4" y="149.56" width="21.0" height="17.36" fill="#ff2929"/>
<rect x="750.4" y="166.52" width="21.0" height="17.36" fill="#ff3d3d"/>
<rect x="750.4" y="183.47" width="21.0" height="17.36" fill="#ff5252"/>
<rect x="750.4" y="200.43" width="21.0" height="17.36" fill="#ff6666"/>
<rect x="750.4" y="217.39" width="21.0" height="17.36" fill="#ff7a7a"/>
<rect x="750.4" y="234.35" width="21.0" height="17.36" fill="#ff8f8f"/>
<rect x="750.4" y="251.31" width="21.0" height="17.36" fill="#ffa3a3"/>
<rect x="750.4" y="268.27" width="21.0" height="17.36" fill="#ffb8b8"/>
<rect x="750.4" y="285.23" width="21.0" height="17.36" fill="#ffcccc"/>
<rect x="750.4" y="302.18" width="21.0" height="17.36" fill="#ffe0e0"/>
<rect x="750.4" y="319.14" width="21.0" height="17.36" fill="#fff5f5"/>
<rect x="750.4" y="336.10" width="21.0" height="17.36" fill="#f5f5ff"/>
<rect x="750.4" y="353.06" width="21.0" height="17.36" fill="#e0e0ff"/>
<rect x="750.4" y="370.02" width="21.0" height="17.36" fill="#ccccff"/>
<rect x="750.4" y="386.97" width="21.0" height="17.36" fill="#b8b8ff"/>
<rect x="750.4" y="403.93" width="21.0" height="17.36" fill="#a3a3ff"/>
<rect x="750.4" y="420.89" width="21.0" height="17.36" fill="#8f8fff"/>
<rect x="750.4" y="437.85" width="21.0" height="17.36" fill="#7a7aff"/>
<rect x="750.4" y="454.81" width="21.0" height="17.36" fill="#6666ff"/>
<rect x="750.4" y="471.77" width="21.0" height="17.36" fill="#5252ff"/>
<rect x="750.4" y="488.73" width="21.0" height="17.36" fill="#3d3dff"/>
<rect x="750.4" y="505.68" width="21.0" height="17.36" fill="#2929ff"/>
<rect x="750.4" y="522.64" width="21.0" height="17.36" fill="#1414ff"/>
<path d="M750.4 132.6L760.9 111.2L771.4 132.6Z" fill="#ff0000"/>
<path d="M750.4 539.6L760.9 560.0L771.4 539.6Z" fill="#0000ff"/>
<path d="M750.4 132.6L760.9 111.2L771.4 132.6L771.4 539.6L760.9 560.0L750.4 539.6Z" fill="none" stroke="#000" stroke-width="1.3" stroke-linejoin="miter"/>
<path d="M765.9 132.60L771.4 132.60" stroke="#000" stroke-width="0.8"/>
<text x="775.0" y="140.50" class="t22">6.0</text>
<path d="M765.9 183.47L771.4 183.47" stroke="#000" stroke-width="0.8"/>
<text x="775.0" y="191.38" class="t22">4.5</text>
<path d="M765.9 234.35L771.4 234.35" stroke="#000" stroke-width="0.8"/>
<text x="775.0" y="242.25" class="t22">3.0</text>
<path d="M765.9 285.23L771.4 285.23" stroke="#000" stroke-width="0.8"/>
<text x="775.0" y="293.12" class="t22">1.5</text>
<path d="M765.9 336.10L771.4 336.10" stroke="#000" stroke-width="0.8"/>
<text x="775.0" y="344.00" class="t22">0.0</text>
<path d="M765.9 386.98L771.4 386.98" stroke="#000" stroke-width="0.8"/>
<text x="775.0" y="394.88" class="t22">−1.5</text>
<path d="M765.9 437.85L771.4 437.85" stroke="#000" stroke-width="0.8"/>
<text x="775.0" y="445.75" class="t22">−3.0</text>
<path d="M765.9 488.73L771.4 488.73" stroke="#000" stroke-width="0.8"/>
<text x="775.0" y="496.62" class="t22">−4.5</text>
<path d="M765.9 539.60L771.4 539.60" stroke="#000" stroke-width="0.8"/>
<text x="775.0" y="547.50" class="t22">−6.0</text>
</svg>
</body></html>
